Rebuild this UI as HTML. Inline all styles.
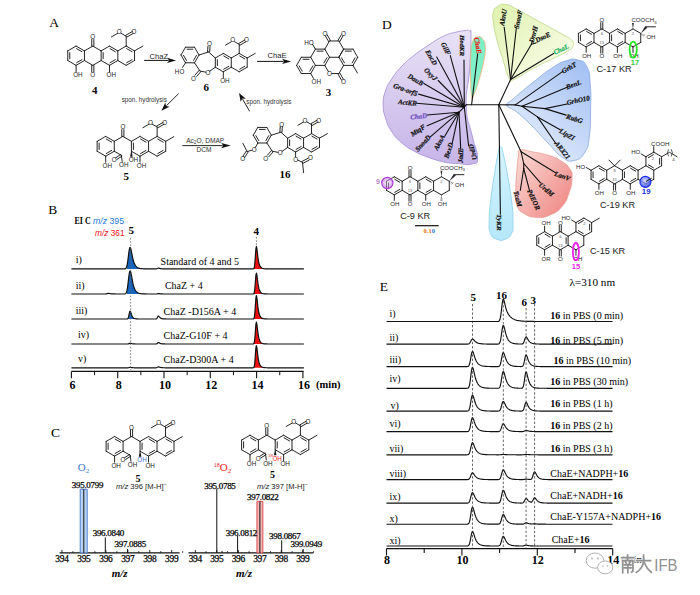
<!DOCTYPE html>
<html><head><meta charset="utf-8"><style>
html,body{margin:0;padding:0;background:#fff;}
body{width:700px;height:595px;overflow:hidden;font-family:"Liberation Sans",sans-serif;}
svg{position:absolute;left:0;top:0;display:block;}
</style></head><body>
<svg width="700" height="595" viewBox="0 0 700 595">
<defs><linearGradient id="gP" gradientUnits="userSpaceOnUse" x1="440" y1="30" x2="430" y2="165"><stop offset="0" stop-color="#e9e2f6"/><stop offset="1" stop-color="#c6b4e8"/></linearGradient>
<linearGradient id="gY" gradientUnits="userSpaceOnUse" x1="500" y1="10" x2="560" y2="75"><stop offset="0" stop-color="#e2f3b4"/><stop offset="1" stop-color="#f8fce8"/></linearGradient>
<linearGradient id="gB" gradientUnits="userSpaceOnUse" x1="525" y1="135" x2="585" y2="70"><stop offset="0" stop-color="#dde8fb"/><stop offset="1" stop-color="#a6c2f4"/></linearGradient>
<linearGradient id="gR" gradientUnits="userSpaceOnUse" x1="520" y1="160" x2="575" y2="200"><stop offset="0" stop-color="#f9d2ce"/><stop offset="1" stop-color="#f08a86"/></linearGradient>
<linearGradient id="gC" gradientUnits="userSpaceOnUse" x1="490" y1="150" x2="510" y2="235"><stop offset="0" stop-color="#d6f4fd"/><stop offset="1" stop-color="#b6e8fa"/></linearGradient>
<linearGradient id="gM" gradientUnits="userSpaceOnUse" x1="470" y1="40" x2="485" y2="95"><stop offset="0" stop-color="#7af0c4"/><stop offset="1" stop-color="#88f0cc"/></linearGradient>
<radialGradient id="rP" cx="0.5" cy="0.5" r="0.6"><stop offset="0" stop-color="#f0d8ff" stop-opacity="0.3"/><stop offset="1" stop-color="#b050e0" stop-opacity="0.75"/></radialGradient>
<radialGradient id="rB" cx="0.45" cy="0.4" r="0.6"><stop offset="0" stop-color="#b8c4ff" stop-opacity="0.6"/><stop offset="1" stop-color="#2a3cf0" stop-opacity="0.9"/></radialGradient></defs>
<rect width="700" height="595" fill="#fff"/>
<text x="54" y="27" font-family="'Liberation Serif', serif" font-size="13.5" font-weight="normal" font-style="normal" text-anchor="middle" fill="#000">A</text>
<text x="52.7" y="213.9" font-family="'Liberation Serif', serif" font-size="13.5" font-weight="normal" font-style="normal" text-anchor="middle" fill="#000">B</text>
<text x="55.6" y="436.5" font-family="'Liberation Serif', serif" font-size="13.5" font-weight="normal" font-style="normal" text-anchor="middle" fill="#000">C</text>
<text x="386.9" y="29.4" font-family="'Liberation Serif', serif" font-size="13.5" font-weight="normal" font-style="normal" text-anchor="middle" fill="#000">D</text>
<text x="383.9" y="290.9" font-family="'Liberation Serif', serif" font-size="13.5" font-weight="normal" font-style="normal" text-anchor="middle" fill="#000">E</text>
<polygon points="126.9,268.9 126.9,266.01 127.4,263.58 127.9,260.18 128.4,256.14 128.9,252.17 129.4,249.07 129.9,247.47 130.4,247.54 130.9,249.02 131.4,251.36 131.9,254.02 132.4,256.59 132.9,258.86 133.4,260.78 133.9,262.36 134.4,263.63 134.9,264.66 135.4,265.49 135.9,266.16 136.4,266.69 136.9,267.12 137.4,267.47 137.9,267.75 138.4,267.97 138.9,268.16 139.4,268.3 139.9,268.42 140.4,268.51 140.9,268.59 141.4,268.65 141.9,268.7 142.4,268.74 142.9,268.77 143.4,268.79 143.9,268.82 144.4,268.83 144.9,268.85 145.4,268.86 145.9,268.86 146.4,268.87 146.4,268.9" fill="#1565c0" stroke="none" stroke-width="1" stroke-linejoin="round"/>
<polygon points="252.4,268.9 252.4,268.9 252.9,268.89 253.4,268.83 253.9,268.44 254.4,266.81 254.9,262.51 255.4,255.44 255.9,248.77 256.4,246.41 256.9,248.74 257.4,253.13 257.9,257.32 258.4,260.56 258.9,262.92 259.4,264.62 259.9,265.83 260.4,266.7 260.9,267.32 261.4,267.77 261.9,268.09 262.4,268.32 262.9,268.48 263.4,268.6 263.9,268.69 264.4,268.75 264.9,268.79 265.4,268.82 265.9,268.84 266.4,268.86 266.9,268.87 266.9,268.9" fill="#ee1111" stroke="none" stroke-width="1" stroke-linejoin="round"/>
<polyline points="71.4,268.9 71.9,268.9 72.4,268.9 72.9,268.9 73.4,268.9 73.9,268.9 74.4,268.9 74.9,268.9 75.4,268.9 75.9,268.9 76.4,268.9 76.9,268.9 77.4,268.9 77.9,268.9 78.4,268.9 78.9,268.9 79.4,268.9 79.9,268.9 80.4,268.9 80.9,268.9 81.4,268.9 81.9,268.9 82.4,268.9 82.9,268.9 83.4,268.9 83.9,268.9 84.4,268.9 84.9,268.9 85.4,268.9 85.9,268.9 86.4,268.9 86.9,268.9 87.4,268.9 87.9,268.9 88.4,268.9 88.9,268.9 89.4,268.9 89.9,268.9 90.4,268.9 90.9,268.9 91.4,268.9 91.9,268.9 92.4,268.9 92.9,268.9 93.4,268.9 93.9,268.9 94.4,268.9 94.9,268.9 95.4,268.9 95.9,268.9 96.4,268.9 96.9,268.9 97.4,268.9 97.9,268.9 98.4,268.9 98.9,268.9 99.4,268.9 99.9,268.9 100.4,268.9 100.9,268.9 101.4,268.9 101.9,268.9 102.4,268.9 102.9,268.9 103.4,268.9 103.9,268.9 104.4,268.9 104.9,268.9 105.4,268.9 105.9,268.9 106.4,268.9 106.9,268.9 107.4,268.9 107.9,268.9 108.4,268.9 108.9,268.9 109.4,268.9 109.9,268.9 110.4,268.9 110.9,268.9 111.4,268.9 111.9,268.9 112.4,268.9 112.9,268.9 113.4,268.9 113.9,268.9 114.4,268.9 114.9,268.9 115.4,268.9 115.9,268.9 116.4,268.9 116.9,268.9 117.4,268.9 117.9,268.9 118.4,268.9 118.9,268.9 119.4,268.9 119.9,268.9 120.4,268.9 120.9,268.9 121.4,268.9 121.9,268.9 122.4,268.9 122.9,268.9 123.4,268.9 123.9,268.89 124.4,268.88 124.9,268.83 125.4,268.68 125.9,268.31 126.4,267.51 126.9,266.01 127.4,263.58 127.9,260.18 128.4,256.14 128.9,252.17 129.4,249.07 129.9,247.47 130.4,247.54 130.9,249.02 131.4,251.36 131.9,254.02 132.4,256.59 132.9,258.86 133.4,260.78 133.9,262.36 134.4,263.63 134.9,264.66 135.4,265.49 135.9,266.16 136.4,266.69 136.9,267.12 137.4,267.47 137.9,267.75 138.4,267.97 138.9,268.16 139.4,268.3 139.9,268.42 140.4,268.51 140.9,268.59 141.4,268.65 141.9,268.7 142.4,268.74 142.9,268.77 143.4,268.79 143.9,268.82 144.4,268.83 144.9,268.85 145.4,268.86 145.9,268.86 146.4,268.87 146.9,268.88 147.4,268.88 147.9,268.89 148.4,268.89 148.9,268.89 149.4,268.89 149.9,268.89 150.4,268.89 150.9,268.9 151.4,268.9 151.9,268.9 152.4,268.9 152.9,268.9 153.4,268.9 153.9,268.9 154.4,268.9 154.9,268.9 155.4,268.9 155.9,268.89 156.4,268.86 156.9,268.74 157.4,268.49 157.9,268.22 158.4,268.1 158.9,268.17 159.4,268.33 159.9,268.48 160.4,268.6 160.9,268.68 161.4,268.75 161.9,268.79 162.4,268.82 162.9,268.84 163.4,268.86 163.9,268.87 164.4,268.88 164.9,268.89 165.4,268.89 165.9,268.89 166.4,268.89 166.9,268.9 167.4,268.9 167.9,268.9 168.4,268.9 168.9,268.9 169.4,268.9 169.9,268.9 170.4,268.9 170.9,268.9 171.4,268.9 171.9,268.9 172.4,268.9 172.9,268.9 173.4,268.9 173.9,268.9 174.4,268.9 174.9,268.9 175.4,268.9 175.9,268.9 176.4,268.9 176.9,268.9 177.4,268.9 177.9,268.9 178.4,268.9 178.9,268.9 179.4,268.9 179.9,268.9 180.4,268.9 180.9,268.9 181.4,268.9 181.9,268.9 182.4,268.9 182.9,268.9 183.4,268.9 183.9,268.9 184.4,268.9 184.9,268.9 185.4,268.9 185.9,268.9 186.4,268.9 186.9,268.9 187.4,268.9 187.9,268.9 188.4,268.9 188.9,268.9 189.4,268.9 189.9,268.9 190.4,268.9 190.9,268.9 191.4,268.9 191.9,268.9 192.4,268.9 192.9,268.9 193.4,268.9 193.9,268.9 194.4,268.9 194.9,268.9 195.4,268.9 195.9,268.9 196.4,268.9 196.9,268.9 197.4,268.9 197.9,268.9 198.4,268.9 198.9,268.9 199.4,268.9 199.9,268.9 200.4,268.9 200.9,268.9 201.4,268.9 201.9,268.9 202.4,268.9 202.9,268.9 203.4,268.9 203.9,268.9 204.4,268.9 204.9,268.9 205.4,268.9 205.9,268.9 206.4,268.9 206.9,268.9 207.4,268.9 207.9,268.9 208.4,268.9 208.9,268.9 209.4,268.9 209.9,268.9 210.4,268.9 210.9,268.9 211.4,268.9 211.9,268.9 212.4,268.9 212.9,268.9 213.4,268.9 213.9,268.9 214.4,268.9 214.9,268.9 215.4,268.9 215.9,268.9 216.4,268.9 216.9,268.9 217.4,268.9 217.9,268.9 218.4,268.9 218.9,268.9 219.4,268.9 219.9,268.9 220.4,268.9 220.9,268.9 221.4,268.9 221.9,268.9 222.4,268.9 222.9,268.9 223.4,268.9 223.9,268.9 224.4,268.9 224.9,268.9 225.4,268.9 225.9,268.9 226.4,268.9 226.9,268.9 227.4,268.9 227.9,268.9 228.4,268.9 228.9,268.9 229.4,268.9 229.9,268.9 230.4,268.9 230.9,268.9 231.4,268.9 231.9,268.9 232.4,268.9 232.9,268.9 233.4,268.9 233.9,268.9 234.4,268.9 234.9,268.9 235.4,268.9 235.9,268.9 236.4,268.9 236.9,268.9 237.4,268.9 237.9,268.9 238.4,268.9 238.9,268.9 239.4,268.9 239.9,268.9 240.4,268.9 240.9,268.9 241.4,268.9 241.9,268.9 242.4,268.9 242.9,268.9 243.4,268.9 243.9,268.9 244.4,268.9 244.9,268.9 245.4,268.9 245.9,268.9 246.4,268.9 246.9,268.9 247.4,268.9 247.9,268.9 248.4,268.9 248.9,268.9 249.4,268.9 249.9,268.9 250.4,268.9 250.9,268.9 251.4,268.9 251.9,268.9 252.4,268.9 252.9,268.89 253.4,268.83 253.9,268.44 254.4,266.81 254.9,262.51 255.4,255.44 255.9,248.77 256.4,246.41 256.9,248.74 257.4,253.13 257.9,257.32 258.4,260.56 258.9,262.92 259.4,264.62 259.9,265.83 260.4,266.7 260.9,267.32 261.4,267.77 261.9,268.09 262.4,268.32 262.9,268.48 263.4,268.6 263.9,268.69 264.4,268.75 264.9,268.79 265.4,268.82 265.9,268.84 266.4,268.86 266.9,268.87 267.4,268.88 267.9,268.89 268.4,268.89 268.9,268.89 269.4,268.89 269.9,268.9 270.4,268.9 270.9,268.9 271.4,268.9 271.9,268.9 272.4,268.9 272.9,268.9 273.4,268.9 273.9,268.9 274.4,268.9 274.9,268.9 275.4,268.9 275.9,268.9 276.4,268.9 276.9,268.9 277.4,268.9 277.9,268.9 278.4,268.9 278.9,268.9 279.4,268.9 279.9,268.9 280.4,268.9 280.9,268.9 281.4,268.9 281.9,268.9 282.4,268.9 282.9,268.9 283.4,268.9 283.9,268.9 284.4,268.9 284.9,268.9 285.4,268.9 285.9,268.9 286.4,268.9 286.9,268.9 287.4,268.9 287.9,268.9 288.4,268.9 288.9,268.9 289.4,268.9 289.9,268.9 290.4,268.9 290.9,268.9 291.4,268.9 291.9,268.9 292.4,268.9 292.9,268.9 293.4,268.9 293.9,268.9 294.4,268.9 294.9,268.9 295.4,268.9 295.9,268.9 296.4,268.9 296.9,268.9 297.4,268.9 297.9,268.9 298.4,268.9 298.9,268.9 299.4,268.9 299.9,268.9 300.4,268.9 300.9,268.9 301.4,268.9 301.9,268.9 302.4,268.9 302.9,268.9 303.4,268.9 303.9,268.9" fill="none" stroke="#111" stroke-width="1.2" stroke-linejoin="round"/>
<polygon points="126.9,294 126.9,290.9 127.4,288.28 127.9,284.63 128.4,280.3 128.9,276.03 129.4,272.7 129.9,270.98 130.4,271.06 130.9,272.65 131.4,275.16 131.9,278.01 132.4,280.77 132.9,283.22 133.4,285.28 133.9,286.97 134.4,288.34 134.9,289.45 135.4,290.34 135.9,291.05 136.4,291.63 136.9,292.09 137.4,292.46 137.9,292.76 138.4,293.01 138.9,293.2 139.4,293.36 139.9,293.48 140.4,293.58 140.9,293.66 141.4,293.73 141.9,293.78 142.4,293.83 142.9,293.86 143.4,293.89 143.9,293.91 144.4,293.93 144.9,293.94 145.4,293.95 145.9,293.96 146.4,293.97 146.4,294" fill="#1565c0" stroke="none" stroke-width="1" stroke-linejoin="round"/>
<polygon points="252.4,294 252.4,294 252.9,293.99 253.4,293.94 253.9,293.57 254.4,292.05 254.9,288.04 255.4,281.44 255.9,275.21 256.4,273.01 256.9,275.18 257.4,279.28 257.9,283.19 258.4,286.22 258.9,288.42 259.4,290 259.9,291.14 260.4,291.95 260.9,292.53 261.4,292.95 261.9,293.24 262.4,293.46 262.9,293.61 263.4,293.72 263.9,293.8 264.4,293.86 264.9,293.9 265.4,293.93 265.9,293.95 266.4,293.96 266.9,293.97 266.9,294" fill="#ee1111" stroke="none" stroke-width="1" stroke-linejoin="round"/>
<polyline points="71.4,294 71.9,294 72.4,294 72.9,294 73.4,294 73.9,294 74.4,294 74.9,294 75.4,294 75.9,294 76.4,294 76.9,294 77.4,294 77.9,294 78.4,294 78.9,294 79.4,294 79.9,294 80.4,294 80.9,294 81.4,294 81.9,294 82.4,294 82.9,294 83.4,294 83.9,294 84.4,294 84.9,294 85.4,294 85.9,294 86.4,294 86.9,294 87.4,294 87.9,294 88.4,294 88.9,294 89.4,294 89.9,294 90.4,294 90.9,294 91.4,294 91.9,294 92.4,294 92.9,294 93.4,294 93.9,294 94.4,294 94.9,294 95.4,294 95.9,294 96.4,294 96.9,294 97.4,294 97.9,294 98.4,294 98.9,294 99.4,294 99.9,294 100.4,294 100.9,294 101.4,294 101.9,294 102.4,294 102.9,294 103.4,294 103.9,294 104.4,294 104.9,293.99 105.4,293.98 105.9,293.93 106.4,293.85 106.9,293.71 107.4,293.56 107.9,293.45 108.4,293.4 108.9,293.43 109.4,293.51 109.9,293.6 110.4,293.68 110.9,293.75 111.4,293.8 111.9,293.85 112.4,293.88 112.9,293.91 113.4,293.93 113.9,293.94 114.4,293.96 114.9,293.97 115.4,293.97 115.9,293.98 116.4,293.98 116.9,293.99 117.4,293.99 117.9,293.99 118.4,293.99 118.9,294 119.4,294 119.9,294 120.4,294 120.9,294 121.4,294 121.9,294 122.4,294 122.9,294 123.4,294 123.9,293.99 124.4,293.98 124.9,293.92 125.4,293.76 125.9,293.37 126.4,292.51 126.9,290.9 127.4,288.28 127.9,284.63 128.4,280.3 128.9,276.03 129.4,272.7 129.9,270.98 130.4,271.06 130.9,272.65 131.4,275.16 131.9,278.01 132.4,280.77 132.9,283.22 133.4,285.28 133.9,286.97 134.4,288.34 134.9,289.45 135.4,290.34 135.9,291.05 136.4,291.63 136.9,292.09 137.4,292.46 137.9,292.76 138.4,293.01 138.9,293.2 139.4,293.36 139.9,293.48 140.4,293.58 140.9,293.66 141.4,293.73 141.9,293.78 142.4,293.83 142.9,293.86 143.4,293.89 143.9,293.91 144.4,293.93 144.9,293.94 145.4,293.95 145.9,293.96 146.4,293.97 146.9,293.98 147.4,293.98 147.9,293.98 148.4,293.99 148.9,293.99 149.4,293.99 149.9,293.99 150.4,293.99 150.9,294 151.4,294 151.9,294 152.4,294 152.9,294 153.4,294 153.9,294 154.4,294 154.9,294 155.4,294 155.9,294 156.4,293.98 156.9,293.92 157.4,293.8 157.9,293.66 158.4,293.6 158.9,293.64 159.4,293.71 159.9,293.79 160.4,293.85 160.9,293.89 161.4,293.92 161.9,293.94 162.4,293.96 162.9,293.97 163.4,293.98 163.9,293.99 164.4,293.99 164.9,293.99 165.4,293.99 165.9,294 166.4,294 166.9,294 167.4,294 167.9,294 168.4,294 168.9,294 169.4,294 169.9,294 170.4,294 170.9,294 171.4,294 171.9,294 172.4,294 172.9,294 173.4,294 173.9,294 174.4,294 174.9,294 175.4,294 175.9,294 176.4,294 176.9,294 177.4,294 177.9,294 178.4,294 178.9,294 179.4,294 179.9,294 180.4,294 180.9,294 181.4,294 181.9,294 182.4,294 182.9,294 183.4,294 183.9,294 184.4,294 184.9,294 185.4,294 185.9,294 186.4,294 186.9,294 187.4,294 187.9,294 188.4,294 188.9,294 189.4,294 189.9,294 190.4,294 190.9,294 191.4,294 191.9,294 192.4,294 192.9,294 193.4,294 193.9,294 194.4,294 194.9,294 195.4,294 195.9,294 196.4,294 196.9,294 197.4,294 197.9,294 198.4,294 198.9,294 199.4,294 199.9,294 200.4,294 200.9,294 201.4,294 201.9,294 202.4,294 202.9,294 203.4,294 203.9,294 204.4,294 204.9,294 205.4,294 205.9,294 206.4,294 206.9,294 207.4,294 207.9,294 208.4,294 208.9,294 209.4,294 209.9,294 210.4,294 210.9,294 211.4,294 211.9,294 212.4,294 212.9,294 213.4,294 213.9,294 214.4,294 214.9,294 215.4,294 215.9,294 216.4,294 216.9,294 217.4,294 217.9,294 218.4,294 218.9,294 219.4,294 219.9,294 220.4,294 220.9,294 221.4,294 221.9,294 222.4,294 222.9,294 223.4,294 223.9,294 224.4,294 224.9,294 225.4,294 225.9,294 226.4,294 226.9,294 227.4,294 227.9,294 228.4,294 228.9,294 229.4,294 229.9,294 230.4,294 230.9,294 231.4,294 231.9,294 232.4,294 232.9,294 233.4,294 233.9,294 234.4,294 234.9,294 235.4,294 235.9,294 236.4,294 236.9,294 237.4,294 237.9,294 238.4,294 238.9,294 239.4,294 239.9,294 240.4,294 240.9,294 241.4,294 241.9,294 242.4,294 242.9,294 243.4,294 243.9,294 244.4,294 244.9,294 245.4,294 245.9,294 246.4,294 246.9,294 247.4,294 247.9,294 248.4,294 248.9,294 249.4,294 249.9,294 250.4,294 250.9,294 251.4,294 251.9,294 252.4,294 252.9,293.99 253.4,293.94 253.9,293.57 254.4,292.05 254.9,288.04 255.4,281.44 255.9,275.21 256.4,273.01 256.9,275.18 257.4,279.28 257.9,283.19 258.4,286.22 258.9,288.42 259.4,290 259.9,291.14 260.4,291.95 260.9,292.53 261.4,292.95 261.9,293.24 262.4,293.46 262.9,293.61 263.4,293.72 263.9,293.8 264.4,293.86 264.9,293.9 265.4,293.93 265.9,293.95 266.4,293.96 266.9,293.97 267.4,293.98 267.9,293.99 268.4,293.99 268.9,293.99 269.4,293.99 269.9,294 270.4,294 270.9,294 271.4,294 271.9,294 272.4,294 272.9,294 273.4,294 273.9,294 274.4,294 274.9,294 275.4,294 275.9,294 276.4,294 276.9,294 277.4,294 277.9,294 278.4,294 278.9,294 279.4,294 279.9,294 280.4,294 280.9,294 281.4,294 281.9,294 282.4,294 282.9,294 283.4,294 283.9,294 284.4,294 284.9,294 285.4,294 285.9,294 286.4,294 286.9,294 287.4,294 287.9,294 288.4,294 288.9,294 289.4,294 289.9,294 290.4,294 290.9,294 291.4,294 291.9,294 292.4,294 292.9,294 293.4,294 293.9,294 294.4,294 294.9,294 295.4,294 295.9,294 296.4,294 296.9,294 297.4,294 297.9,294 298.4,294 298.9,294 299.4,294 299.9,294 300.4,294 300.9,294 301.4,294 301.9,294 302.4,294 302.9,294 303.4,294 303.9,294" fill="none" stroke="#111" stroke-width="1.2" stroke-linejoin="round"/>
<polygon points="126.9,319 126.9,318.99 127.4,318.9 127.9,318.53 128.4,317.45 128.9,315.37 129.4,312.84 129.9,311.19 130.4,311.24 130.9,312.6 131.4,314.29 131.9,315.71 132.4,316.75 132.9,317.47 133.4,317.96 133.9,318.29 134.4,318.52 134.9,318.67 135.4,318.78 135.9,318.85 136.4,318.9 136.9,318.93 137.4,318.95 137.9,318.97 138.4,318.98 138.9,318.98 139.4,318.99 139.9,318.99 140.4,319 140.9,319 141.4,319 141.9,319 142.4,319 142.9,319 143.4,319 143.9,319 144.4,319 144.9,319 145.4,319 145.9,319 146.4,319 146.4,319" fill="#1565c0" stroke="none" stroke-width="1" stroke-linejoin="round"/>
<polygon points="252.4,319 252.4,319 252.9,318.99 253.4,318.93 253.9,318.52 254.4,316.82 254.9,312.33 255.4,304.95 255.9,297.98 256.4,295.51 256.9,297.94 257.4,302.53 257.9,306.9 258.4,310.29 258.9,312.76 259.4,314.53 259.9,315.79 260.4,316.7 260.9,317.35 261.4,317.82 261.9,318.16 262.4,318.39 262.9,318.57 263.4,318.69 263.9,318.78 264.4,318.84 264.9,318.89 265.4,318.92 265.9,318.94 266.4,318.96 266.9,318.97 266.9,319" fill="#ee1111" stroke="none" stroke-width="1" stroke-linejoin="round"/>
<polyline points="71.4,319 71.9,319 72.4,319 72.9,319 73.4,319 73.9,319 74.4,319 74.9,319 75.4,319 75.9,319 76.4,319 76.9,319 77.4,319 77.9,319 78.4,319 78.9,319 79.4,319 79.9,319 80.4,319 80.9,319 81.4,319 81.9,319 82.4,319 82.9,319 83.4,319 83.9,319 84.4,319 84.9,319 85.4,319 85.9,319 86.4,319 86.9,319 87.4,319 87.9,319 88.4,319 88.9,319 89.4,319 89.9,319 90.4,319 90.9,319 91.4,319 91.9,319 92.4,319 92.9,319 93.4,319 93.9,319 94.4,319 94.9,319 95.4,319 95.9,319 96.4,319 96.9,319 97.4,319 97.9,319 98.4,319 98.9,319 99.4,319 99.9,319 100.4,319 100.9,319 101.4,319 101.9,319 102.4,319 102.9,319 103.4,319 103.9,319 104.4,319 104.9,319 105.4,319 105.9,319 106.4,319 106.9,319 107.4,319 107.9,319 108.4,319 108.9,319 109.4,319 109.9,319 110.4,319 110.9,319 111.4,319 111.9,319 112.4,319 112.9,319 113.4,319 113.9,319 114.4,319 114.9,319 115.4,319 115.9,319 116.4,319 116.9,319 117.4,319 117.9,319 118.4,319 118.9,319 119.4,319 119.9,319 120.4,319 120.9,319 121.4,319 121.9,319 122.4,319 122.9,319 123.4,319 123.9,319 124.4,319 124.9,319 125.4,319 125.9,319 126.4,319 126.9,318.99 127.4,318.9 127.9,318.53 128.4,317.45 128.9,315.37 129.4,312.84 129.9,311.19 130.4,311.24 130.9,312.6 131.4,314.29 131.9,315.71 132.4,316.75 132.9,317.47 133.4,317.96 133.9,318.29 134.4,318.52 134.9,318.67 135.4,318.78 135.9,318.85 136.4,318.9 136.9,318.93 137.4,318.95 137.9,318.97 138.4,318.98 138.9,318.98 139.4,318.99 139.9,318.99 140.4,319 140.9,319 141.4,319 141.9,319 142.4,319 142.9,319 143.4,319 143.9,319 144.4,319 144.9,319 145.4,319 145.9,319 146.4,319 146.9,319 147.4,319 147.9,319 148.4,319 148.9,319 149.4,319 149.9,319 150.4,319 150.9,319 151.4,319 151.9,319 152.4,319 152.9,319 153.4,319 153.9,319 154.4,319 154.9,319 155.4,319 155.9,318.97 156.4,318.84 156.9,318.38 157.4,317.47 157.9,316.46 158.4,316 158.9,316.26 159.4,316.86 159.9,317.43 160.4,317.87 160.9,318.19 161.4,318.42 161.9,318.59 162.4,318.7 162.9,318.79 163.4,318.85 163.9,318.89 164.4,318.92 164.9,318.94 165.4,318.96 165.9,318.97 166.4,318.98 166.9,318.99 167.4,318.99 167.9,318.99 168.4,318.99 168.9,319 169.4,319 169.9,319 170.4,319 170.9,319 171.4,319 171.9,319 172.4,319 172.9,319 173.4,319 173.9,319 174.4,319 174.9,319 175.4,319 175.9,319 176.4,319 176.9,319 177.4,319 177.9,319 178.4,319 178.9,319 179.4,319 179.9,319 180.4,319 180.9,319 181.4,319 181.9,319 182.4,319 182.9,319 183.4,319 183.9,319 184.4,319 184.9,319 185.4,319 185.9,319 186.4,319 186.9,319 187.4,319 187.9,319 188.4,319 188.9,319 189.4,319 189.9,319 190.4,319 190.9,319 191.4,319 191.9,319 192.4,319 192.9,319 193.4,319 193.9,319 194.4,319 194.9,319 195.4,319 195.9,319 196.4,319 196.9,319 197.4,319 197.9,319 198.4,319 198.9,319 199.4,319 199.9,319 200.4,319 200.9,319 201.4,319 201.9,319 202.4,319 202.9,319 203.4,319 203.9,319 204.4,319 204.9,319 205.4,319 205.9,319 206.4,319 206.9,319 207.4,319 207.9,319 208.4,319 208.9,319 209.4,319 209.9,319 210.4,319 210.9,319 211.4,319 211.9,319 212.4,319 212.9,319 213.4,319 213.9,319 214.4,319 214.9,319 215.4,319 215.9,319 216.4,319 216.9,319 217.4,319 217.9,319 218.4,319 218.9,319 219.4,319 219.9,319 220.4,319 220.9,319 221.4,319 221.9,319 222.4,319 222.9,319 223.4,319 223.9,319 224.4,319 224.9,319 225.4,319 225.9,319 226.4,319 226.9,319 227.4,319 227.9,319 228.4,319 228.9,319 229.4,319 229.9,319 230.4,319 230.9,319 231.4,319 231.9,319 232.4,319 232.9,319 233.4,319 233.9,319 234.4,319 234.9,319 235.4,319 235.9,319 236.4,319 236.9,319 237.4,319 237.9,319 238.4,319 238.9,319 239.4,319 239.9,319 240.4,319 240.9,319 241.4,319 241.9,319 242.4,319 242.9,319 243.4,319 243.9,319 244.4,319 244.9,319 245.4,319 245.9,319 246.4,319 246.9,319 247.4,319 247.9,319 248.4,319 248.9,319 249.4,319 249.9,319 250.4,319 250.9,319 251.4,319 251.9,319 252.4,319 252.9,318.99 253.4,318.93 253.9,318.52 254.4,316.82 254.9,312.33 255.4,304.95 255.9,297.98 256.4,295.51 256.9,297.94 257.4,302.53 257.9,306.9 258.4,310.29 258.9,312.76 259.4,314.53 259.9,315.79 260.4,316.7 260.9,317.35 261.4,317.82 261.9,318.16 262.4,318.39 262.9,318.57 263.4,318.69 263.9,318.78 264.4,318.84 264.9,318.89 265.4,318.92 265.9,318.94 266.4,318.96 266.9,318.97 267.4,318.98 267.9,318.98 268.4,318.99 268.9,318.99 269.4,318.99 269.9,319 270.4,319 270.9,319 271.4,319 271.9,319 272.4,319 272.9,319 273.4,319 273.9,319 274.4,319 274.9,319 275.4,319 275.9,319 276.4,319 276.9,319 277.4,319 277.9,319 278.4,319 278.9,319 279.4,319 279.9,319 280.4,319 280.9,319 281.4,319 281.9,319 282.4,319 282.9,319 283.4,319 283.9,319 284.4,319 284.9,319 285.4,319 285.9,319 286.4,319 286.9,319 287.4,319 287.9,319 288.4,319 288.9,319 289.4,319 289.9,319 290.4,319 290.9,319 291.4,319 291.9,319 292.4,319 292.9,319 293.4,319 293.9,319 294.4,319 294.9,319 295.4,319 295.9,319 296.4,319 296.9,319 297.4,319 297.9,319 298.4,319 298.9,319 299.4,319 299.9,319 300.4,319 300.9,319 301.4,319 301.9,319 302.4,319 302.9,319 303.4,319 303.9,319" fill="none" stroke="#111" stroke-width="1.2" stroke-linejoin="round"/>
<polygon points="126.9,344 126.9,344 127.4,343.99 127.9,343.95 128.4,343.85 128.9,343.64 129.4,343.38 129.9,343.22 130.4,343.22 130.9,343.36 131.4,343.53 131.9,343.67 132.4,343.78 132.9,343.85 133.4,343.9 133.9,343.93 134.4,343.95 134.9,343.97 135.4,343.98 135.9,343.98 136.4,343.99 136.9,343.99 137.4,344 137.9,344 138.4,344 138.9,344 139.4,344 139.9,344 140.4,344 140.9,344 141.4,344 141.9,344 142.4,344 142.9,344 143.4,344 143.9,344 144.4,344 144.9,344 145.4,344 145.9,344 146.4,344 146.4,344" fill="#1565c0" stroke="none" stroke-width="1" stroke-linejoin="round"/>
<polygon points="252.4,344 252.4,344 252.9,343.99 253.4,343.93 253.9,343.55 254.4,341.96 254.9,337.75 255.4,330.84 255.9,324.32 256.4,322.01 256.9,324.28 257.4,328.58 257.9,332.68 258.4,335.85 258.9,338.16 259.4,339.81 259.9,341 260.4,341.85 260.9,342.46 261.4,342.9 261.9,343.21 262.4,343.43 262.9,343.59 263.4,343.71 263.9,343.79 264.4,343.85 264.9,343.89 265.4,343.92 265.9,343.95 266.4,343.96 266.9,343.97 266.9,344" fill="#ee1111" stroke="none" stroke-width="1" stroke-linejoin="round"/>
<polyline points="71.4,344 71.9,344 72.4,344 72.9,344 73.4,344 73.9,344 74.4,344 74.9,344 75.4,344 75.9,344 76.4,344 76.9,344 77.4,344 77.9,344 78.4,344 78.9,344 79.4,344 79.9,344 80.4,344 80.9,344 81.4,344 81.9,344 82.4,344 82.9,344 83.4,344 83.9,344 84.4,344 84.9,344 85.4,344 85.9,344 86.4,344 86.9,344 87.4,344 87.9,344 88.4,344 88.9,344 89.4,344 89.9,344 90.4,344 90.9,344 91.4,344 91.9,344 92.4,344 92.9,344 93.4,344 93.9,344 94.4,344 94.9,344 95.4,344 95.9,344 96.4,344 96.9,344 97.4,344 97.9,344 98.4,344 98.9,344 99.4,344 99.9,344 100.4,344 100.9,344 101.4,344 101.9,344 102.4,344 102.9,344 103.4,344 103.9,344 104.4,344 104.9,344 105.4,344 105.9,344 106.4,344 106.9,344 107.4,344 107.9,344 108.4,344 108.9,344 109.4,344 109.9,344 110.4,344 110.9,344 111.4,344 111.9,344 112.4,344 112.9,344 113.4,344 113.9,344 114.4,344 114.9,344 115.4,344 115.9,344 116.4,344 116.9,344 117.4,344 117.9,344 118.4,344 118.9,344 119.4,344 119.9,344 120.4,344 120.9,344 121.4,344 121.9,344 122.4,344 122.9,344 123.4,344 123.9,344 124.4,344 124.9,344 125.4,344 125.9,344 126.4,344 126.9,344 127.4,343.99 127.9,343.95 128.4,343.85 128.9,343.64 129.4,343.38 129.9,343.22 130.4,343.22 130.9,343.36 131.4,343.53 131.9,343.67 132.4,343.78 132.9,343.85 133.4,343.9 133.9,343.93 134.4,343.95 134.9,343.97 135.4,343.98 135.9,343.98 136.4,343.99 136.9,343.99 137.4,344 137.9,344 138.4,344 138.9,344 139.4,344 139.9,344 140.4,344 140.9,344 141.4,344 141.9,344 142.4,344 142.9,344 143.4,344 143.9,344 144.4,344 144.9,344 145.4,344 145.9,344 146.4,344 146.9,344 147.4,344 147.9,344 148.4,344 148.9,344 149.4,344 149.9,344 150.4,344 150.9,344 151.4,344 151.9,344 152.4,344 152.9,344 153.4,344 153.9,344 154.4,344 154.9,344 155.4,344 155.9,343.99 156.4,343.92 156.9,343.69 157.4,343.23 157.9,342.73 158.4,342.5 158.9,342.63 159.4,342.93 159.9,343.22 160.4,343.44 160.9,343.6 161.4,343.71 161.9,343.79 162.4,343.85 162.9,343.89 163.4,343.92 163.9,343.95 164.4,343.96 164.9,343.97 165.4,343.98 165.9,343.99 166.4,343.99 166.9,343.99 167.4,343.99 167.9,344 168.4,344 168.9,344 169.4,344 169.9,344 170.4,344 170.9,344 171.4,344 171.9,344 172.4,344 172.9,344 173.4,344 173.9,344 174.4,344 174.9,344 175.4,344 175.9,344 176.4,344 176.9,344 177.4,344 177.9,344 178.4,344 178.9,344 179.4,344 179.9,344 180.4,344 180.9,344 181.4,344 181.9,344 182.4,344 182.9,344 183.4,344 183.9,344 184.4,344 184.9,344 185.4,344 185.9,344 186.4,344 186.9,344 187.4,344 187.9,344 188.4,344 188.9,344 189.4,344 189.9,344 190.4,344 190.9,344 191.4,344 191.9,344 192.4,344 192.9,344 193.4,344 193.9,344 194.4,344 194.9,344 195.4,344 195.9,344 196.4,344 196.9,344 197.4,344 197.9,344 198.4,344 198.9,344 199.4,344 199.9,344 200.4,344 200.9,344 201.4,344 201.9,344 202.4,344 202.9,344 203.4,344 203.9,344 204.4,344 204.9,344 205.4,344 205.9,344 206.4,344 206.9,344 207.4,344 207.9,344 208.4,344 208.9,344 209.4,344 209.9,344 210.4,344 210.9,344 211.4,344 211.9,344 212.4,344 212.9,344 213.4,344 213.9,344 214.4,344 214.9,344 215.4,344 215.9,344 216.4,344 216.9,344 217.4,344 217.9,344 218.4,344 218.9,344 219.4,344 219.9,344 220.4,344 220.9,344 221.4,344 221.9,344 222.4,344 222.9,344 223.4,344 223.9,344 224.4,344 224.9,344 225.4,344 225.9,344 226.4,344 226.9,344 227.4,344 227.9,344 228.4,344 228.9,344 229.4,344 229.9,344 230.4,344 230.9,344 231.4,344 231.9,344 232.4,344 232.9,344 233.4,344 233.9,344 234.4,344 234.9,344 235.4,344 235.9,344 236.4,344 236.9,344 237.4,344 237.9,344 238.4,344 238.9,344 239.4,344 239.9,344 240.4,344 240.9,344 241.4,344 241.9,344 242.4,344 242.9,344 243.4,344 243.9,344 244.4,344 244.9,344 245.4,344 245.9,344 246.4,344 246.9,344 247.4,344 247.9,344 248.4,344 248.9,344 249.4,344 249.9,344 250.4,344 250.9,344 251.4,344 251.9,344 252.4,344 252.9,343.99 253.4,343.93 253.9,343.55 254.4,341.96 254.9,337.75 255.4,330.84 255.9,324.32 256.4,322.01 256.9,324.28 257.4,328.58 257.9,332.68 258.4,335.85 258.9,338.16 259.4,339.81 259.9,341 260.4,341.85 260.9,342.46 261.4,342.9 261.9,343.21 262.4,343.43 262.9,343.59 263.4,343.71 263.9,343.79 264.4,343.85 264.9,343.89 265.4,343.92 265.9,343.95 266.4,343.96 266.9,343.97 267.4,343.98 267.9,343.99 268.4,343.99 268.9,343.99 269.4,343.99 269.9,344 270.4,344 270.9,344 271.4,344 271.9,344 272.4,344 272.9,344 273.4,344 273.9,344 274.4,344 274.9,344 275.4,344 275.9,344 276.4,344 276.9,344 277.4,344 277.9,344 278.4,344 278.9,344 279.4,344 279.9,344 280.4,344 280.9,344 281.4,344 281.9,344 282.4,344 282.9,344 283.4,344 283.9,344 284.4,344 284.9,344 285.4,344 285.9,344 286.4,344 286.9,344 287.4,344 287.9,344 288.4,344 288.9,344 289.4,344 289.9,344 290.4,344 290.9,344 291.4,344 291.9,344 292.4,344 292.9,344 293.4,344 293.9,344 294.4,344 294.9,344 295.4,344 295.9,344 296.4,344 296.9,344 297.4,344 297.9,344 298.4,344 298.9,344 299.4,344 299.9,344 300.4,344 300.9,344 301.4,344 301.9,344 302.4,344 302.9,344 303.4,344 303.9,344" fill="none" stroke="#111" stroke-width="1.2" stroke-linejoin="round"/>
<polygon points="126.9,367.8 126.9,367.8 127.4,367.8 127.9,367.78 128.4,367.72 128.9,367.62 129.4,367.49 129.9,367.41 130.4,367.41 130.9,367.48 131.4,367.56 131.9,367.64 132.4,367.69 132.9,367.72 133.4,367.75 133.9,367.76 134.4,367.78 134.9,367.78 135.4,367.79 135.9,367.79 136.4,367.79 136.9,367.8 137.4,367.8 137.9,367.8 138.4,367.8 138.9,367.8 139.4,367.8 139.9,367.8 140.4,367.8 140.9,367.8 141.4,367.8 141.9,367.8 142.4,367.8 142.9,367.8 143.4,367.8 143.9,367.8 144.4,367.8 144.9,367.8 145.4,367.8 145.9,367.8 146.4,367.8 146.4,367.8" fill="#1565c0" stroke="none" stroke-width="1" stroke-linejoin="round"/>
<polygon points="252.4,367.8 252.4,367.8 252.9,367.79 253.4,367.73 253.9,367.35 254.4,365.73 254.9,361.47 255.4,354.46 255.9,347.85 256.4,345.51 256.9,347.82 257.4,352.17 257.9,356.32 258.4,359.54 258.9,361.88 259.4,363.55 259.9,364.76 260.4,365.62 260.9,366.24 261.4,366.68 261.9,367 262.4,367.23 262.9,367.39 263.4,367.51 263.9,367.59 264.4,367.65 264.9,367.69 265.4,367.72 265.9,367.74 266.4,367.76 266.9,367.77 266.9,367.8" fill="#ee1111" stroke="none" stroke-width="1" stroke-linejoin="round"/>
<polyline points="71.4,367.8 71.9,367.8 72.4,367.8 72.9,367.8 73.4,367.8 73.9,367.8 74.4,367.8 74.9,367.8 75.4,367.8 75.9,367.8 76.4,367.8 76.9,367.8 77.4,367.8 77.9,367.8 78.4,367.8 78.9,367.8 79.4,367.8 79.9,367.8 80.4,367.8 80.9,367.8 81.4,367.8 81.9,367.8 82.4,367.8 82.9,367.8 83.4,367.8 83.9,367.8 84.4,367.8 84.9,367.8 85.4,367.8 85.9,367.8 86.4,367.8 86.9,367.8 87.4,367.8 87.9,367.8 88.4,367.8 88.9,367.8 89.4,367.8 89.9,367.8 90.4,367.8 90.9,367.8 91.4,367.8 91.9,367.8 92.4,367.8 92.9,367.8 93.4,367.8 93.9,367.8 94.4,367.8 94.9,367.8 95.4,367.8 95.9,367.8 96.4,367.8 96.9,367.8 97.4,367.8 97.9,367.8 98.4,367.8 98.9,367.8 99.4,367.8 99.9,367.8 100.4,367.8 100.9,367.8 101.4,367.8 101.9,367.8 102.4,367.8 102.9,367.8 103.4,367.8 103.9,367.8 104.4,367.8 104.9,367.8 105.4,367.8 105.9,367.8 106.4,367.8 106.9,367.8 107.4,367.8 107.9,367.8 108.4,367.8 108.9,367.8 109.4,367.8 109.9,367.8 110.4,367.8 110.9,367.8 111.4,367.8 111.9,367.8 112.4,367.8 112.9,367.8 113.4,367.8 113.9,367.8 114.4,367.8 114.9,367.8 115.4,367.8 115.9,367.8 116.4,367.8 116.9,367.8 117.4,367.8 117.9,367.8 118.4,367.8 118.9,367.8 119.4,367.8 119.9,367.8 120.4,367.8 120.9,367.8 121.4,367.8 121.9,367.8 122.4,367.8 122.9,367.8 123.4,367.8 123.9,367.8 124.4,367.8 124.9,367.8 125.4,367.8 125.9,367.8 126.4,367.8 126.9,367.8 127.4,367.8 127.9,367.78 128.4,367.72 128.9,367.62 129.4,367.49 129.9,367.41 130.4,367.41 130.9,367.48 131.4,367.56 131.9,367.64 132.4,367.69 132.9,367.72 133.4,367.75 133.9,367.76 134.4,367.78 134.9,367.78 135.4,367.79 135.9,367.79 136.4,367.79 136.9,367.8 137.4,367.8 137.9,367.8 138.4,367.8 138.9,367.8 139.4,367.8 139.9,367.8 140.4,367.8 140.9,367.8 141.4,367.8 141.9,367.8 142.4,367.8 142.9,367.8 143.4,367.8 143.9,367.8 144.4,367.8 144.9,367.8 145.4,367.8 145.9,367.8 146.4,367.8 146.9,367.8 147.4,367.8 147.9,367.8 148.4,367.8 148.9,367.8 149.4,367.8 149.9,367.8 150.4,367.8 150.9,367.8 151.4,367.8 151.9,367.8 152.4,367.8 152.9,367.8 153.4,367.8 153.9,367.8 154.4,367.8 154.9,367.8 155.4,367.8 155.9,367.79 156.4,367.75 156.9,367.59 157.4,367.29 157.9,366.95 158.4,366.8 158.9,366.89 159.4,367.09 159.9,367.28 160.4,367.42 160.9,367.53 161.4,367.61 161.9,367.66 162.4,367.7 162.9,367.73 163.4,367.75 163.9,367.76 164.4,367.77 164.9,367.78 165.4,367.79 165.9,367.79 166.4,367.79 166.9,367.8 167.4,367.8 167.9,367.8 168.4,367.8 168.9,367.8 169.4,367.8 169.9,367.8 170.4,367.8 170.9,367.8 171.4,367.8 171.9,367.8 172.4,367.8 172.9,367.8 173.4,367.8 173.9,367.8 174.4,367.8 174.9,367.8 175.4,367.8 175.9,367.8 176.4,367.8 176.9,367.8 177.4,367.8 177.9,367.8 178.4,367.8 178.9,367.8 179.4,367.8 179.9,367.8 180.4,367.8 180.9,367.8 181.4,367.8 181.9,367.8 182.4,367.8 182.9,367.8 183.4,367.8 183.9,367.8 184.4,367.8 184.9,367.8 185.4,367.8 185.9,367.8 186.4,367.8 186.9,367.8 187.4,367.8 187.9,367.8 188.4,367.8 188.9,367.8 189.4,367.8 189.9,367.8 190.4,367.8 190.9,367.8 191.4,367.8 191.9,367.8 192.4,367.8 192.9,367.8 193.4,367.8 193.9,367.8 194.4,367.8 194.9,367.8 195.4,367.8 195.9,367.8 196.4,367.8 196.9,367.8 197.4,367.8 197.9,367.8 198.4,367.8 198.9,367.8 199.4,367.8 199.9,367.8 200.4,367.8 200.9,367.8 201.4,367.8 201.9,367.8 202.4,367.8 202.9,367.8 203.4,367.8 203.9,367.8 204.4,367.8 204.9,367.8 205.4,367.8 205.9,367.8 206.4,367.8 206.9,367.8 207.4,367.8 207.9,367.8 208.4,367.8 208.9,367.8 209.4,367.8 209.9,367.8 210.4,367.8 210.9,367.8 211.4,367.8 211.9,367.8 212.4,367.8 212.9,367.8 213.4,367.8 213.9,367.8 214.4,367.8 214.9,367.8 215.4,367.8 215.9,367.8 216.4,367.8 216.9,367.8 217.4,367.8 217.9,367.8 218.4,367.8 218.9,367.8 219.4,367.8 219.9,367.8 220.4,367.8 220.9,367.8 221.4,367.8 221.9,367.8 222.4,367.8 222.9,367.8 223.4,367.8 223.9,367.8 224.4,367.8 224.9,367.8 225.4,367.8 225.9,367.8 226.4,367.8 226.9,367.8 227.4,367.8 227.9,367.8 228.4,367.8 228.9,367.8 229.4,367.8 229.9,367.8 230.4,367.8 230.9,367.8 231.4,367.8 231.9,367.8 232.4,367.8 232.9,367.8 233.4,367.8 233.9,367.8 234.4,367.8 234.9,367.8 235.4,367.8 235.9,367.8 236.4,367.8 236.9,367.8 237.4,367.8 237.9,367.8 238.4,367.8 238.9,367.8 239.4,367.8 239.9,367.8 240.4,367.8 240.9,367.8 241.4,367.8 241.9,367.8 242.4,367.8 242.9,367.8 243.4,367.8 243.9,367.8 244.4,367.8 244.9,367.8 245.4,367.8 245.9,367.8 246.4,367.8 246.9,367.8 247.4,367.8 247.9,367.8 248.4,367.8 248.9,367.8 249.4,367.8 249.9,367.8 250.4,367.8 250.9,367.8 251.4,367.8 251.9,367.8 252.4,367.8 252.9,367.79 253.4,367.73 253.9,367.35 254.4,365.73 254.9,361.47 255.4,354.46 255.9,347.85 256.4,345.51 256.9,347.82 257.4,352.17 257.9,356.32 258.4,359.54 258.9,361.88 259.4,363.55 259.9,364.76 260.4,365.62 260.9,366.24 261.4,366.68 261.9,367 262.4,367.23 262.9,367.39 263.4,367.51 263.9,367.59 264.4,367.65 264.9,367.69 265.4,367.72 265.9,367.74 266.4,367.76 266.9,367.77 267.4,367.78 267.9,367.79 268.4,367.79 268.9,367.79 269.4,367.79 269.9,367.8 270.4,367.8 270.9,367.8 271.4,367.8 271.9,367.8 272.4,367.8 272.9,367.8 273.4,367.8 273.9,367.8 274.4,367.8 274.9,367.8 275.4,367.8 275.9,367.8 276.4,367.8 276.9,367.8 277.4,367.8 277.9,367.8 278.4,367.8 278.9,367.8 279.4,367.8 279.9,367.8 280.4,367.8 280.9,367.8 281.4,367.8 281.9,367.8 282.4,367.8 282.9,367.8 283.4,367.8 283.9,367.8 284.4,367.8 284.9,367.8 285.4,367.8 285.9,367.8 286.4,367.8 286.9,367.8 287.4,367.8 287.9,367.8 288.4,367.8 288.9,367.8 289.4,367.8 289.9,367.8 290.4,367.8 290.9,367.8 291.4,367.8 291.9,367.8 292.4,367.8 292.9,367.8 293.4,367.8 293.9,367.8 294.4,367.8 294.9,367.8 295.4,367.8 295.9,367.8 296.4,367.8 296.9,367.8 297.4,367.8 297.9,367.8 298.4,367.8 298.9,367.8 299.4,367.8 299.9,367.8 300.4,367.8 300.9,367.8 301.4,367.8 301.9,367.8 302.4,367.8 302.9,367.8 303.4,367.8 303.9,367.8" fill="none" stroke="#111" stroke-width="1.2" stroke-linejoin="round"/>
<line x1="130.63" y1="238" x2="130.63" y2="370" stroke="#666" stroke-width="0.8" stroke-linecap="butt" stroke-dasharray="1.6,1.6"/>
<line x1="256.37" y1="237" x2="256.37" y2="246" stroke="#666" stroke-width="0.8" stroke-linecap="butt" stroke-dasharray="1.6,1.6"/>
<line x1="71.4" y1="371.4" x2="303.6" y2="371.4" stroke="#111" stroke-width="1.3" stroke-linecap="butt"/>
<line x1="71.4" y1="371.4" x2="71.4" y2="378.2" stroke="#111" stroke-width="1.1" stroke-linecap="butt"/>
<line x1="94.55" y1="371.4" x2="94.55" y2="375.2" stroke="#111" stroke-width="1" stroke-linecap="butt"/>
<line x1="117.7" y1="371.4" x2="117.7" y2="378.2" stroke="#111" stroke-width="1.1" stroke-linecap="butt"/>
<line x1="140.85" y1="371.4" x2="140.85" y2="375.2" stroke="#111" stroke-width="1" stroke-linecap="butt"/>
<line x1="164" y1="371.4" x2="164" y2="378.2" stroke="#111" stroke-width="1.1" stroke-linecap="butt"/>
<line x1="187.15" y1="371.4" x2="187.15" y2="375.2" stroke="#111" stroke-width="1" stroke-linecap="butt"/>
<line x1="210.3" y1="371.4" x2="210.3" y2="378.2" stroke="#111" stroke-width="1.1" stroke-linecap="butt"/>
<line x1="233.45" y1="371.4" x2="233.45" y2="375.2" stroke="#111" stroke-width="1" stroke-linecap="butt"/>
<line x1="256.6" y1="371.4" x2="256.6" y2="378.2" stroke="#111" stroke-width="1.1" stroke-linecap="butt"/>
<line x1="279.75" y1="371.4" x2="279.75" y2="375.2" stroke="#111" stroke-width="1" stroke-linecap="butt"/>
<line x1="302.9" y1="371.4" x2="302.9" y2="378.2" stroke="#111" stroke-width="1.1" stroke-linecap="butt"/>
<text x="72.4" y="389.3" font-family="'Liberation Serif', serif" font-size="12" font-weight="bold" font-style="normal" text-anchor="middle" fill="#000">6</text>
<text x="118.7" y="389.3" font-family="'Liberation Serif', serif" font-size="12" font-weight="bold" font-style="normal" text-anchor="middle" fill="#000">8</text>
<text x="165" y="389.3" font-family="'Liberation Serif', serif" font-size="12" font-weight="bold" font-style="normal" text-anchor="middle" fill="#000">10</text>
<text x="211.3" y="389.3" font-family="'Liberation Serif', serif" font-size="12" font-weight="bold" font-style="normal" text-anchor="middle" fill="#000">12</text>
<text x="257.6" y="389.3" font-family="'Liberation Serif', serif" font-size="12" font-weight="bold" font-style="normal" text-anchor="middle" fill="#000">14</text>
<text x="303.9" y="389.3" font-family="'Liberation Serif', serif" font-size="12" font-weight="bold" font-style="normal" text-anchor="middle" fill="#000">16</text>
<text x="316" y="388.3" font-family="'Liberation Serif', serif" font-size="10.5" font-weight="bold" font-style="normal" text-anchor="start" fill="#000">(min)</text>
<text x="75.7" y="262.8" font-family="'Liberation Serif', serif" font-size="10" font-weight="normal" font-style="normal" text-anchor="start" fill="#000">i)</text>
<text x="75.7" y="288.6" font-family="'Liberation Serif', serif" font-size="10" font-weight="normal" font-style="normal" text-anchor="start" fill="#000">ii)</text>
<text x="75.7" y="314.3" font-family="'Liberation Serif', serif" font-size="10" font-weight="normal" font-style="normal" text-anchor="start" fill="#000">iii)</text>
<text x="77.9" y="337.9" font-family="'Liberation Serif', serif" font-size="10" font-weight="normal" font-style="normal" text-anchor="start" fill="#000">iv)</text>
<text x="77.9" y="362.3" font-family="'Liberation Serif', serif" font-size="10" font-weight="normal" font-style="normal" text-anchor="start" fill="#000">v)</text>
<text x="160.6" y="264.9" font-family="'Liberation Serif', serif" font-size="10" font-weight="normal" font-style="normal" text-anchor="start" fill="#000">Standard of 4 and 5</text>
<text x="164.9" y="288.5" font-family="'Liberation Serif', serif" font-size="10" font-weight="normal" font-style="normal" text-anchor="start" fill="#000">ChaZ + 4</text>
<text x="163.6" y="315.1" font-family="'Liberation Serif', serif" font-size="10" font-weight="normal" font-style="normal" text-anchor="start" fill="#000">ChaZ -D156A + 4</text>
<text x="163.6" y="339.1" font-family="'Liberation Serif', serif" font-size="10" font-weight="normal" font-style="normal" text-anchor="start" fill="#000">ChaZ-G10F + 4</text>
<text x="163.6" y="362.6" font-family="'Liberation Serif', serif" font-size="10" font-weight="normal" font-style="normal" text-anchor="start" fill="#000">ChaZ-D300A + 4</text>
<text x="74.6" y="223.6" font-family="'Liberation Serif', serif" font-size="10" font-weight="bold" font-style="normal" text-anchor="start" fill="#000" textLength="16" lengthAdjust="spacingAndGlyphs">EI C</text>
<text x="93" y="223.6" font-family="'Liberation Sans', sans-serif" font-size="9.6" font-weight="normal" font-style="normal" text-anchor="start" fill="#1e7ad6" textLength="31" lengthAdjust="spacingAndGlyphs"><tspan font-style="italic">m/z</tspan> 395</text>
<text x="95" y="236.1" font-family="'Liberation Sans', sans-serif" font-size="9.6" font-weight="normal" font-style="normal" text-anchor="start" fill="#ee1111" textLength="29.5" lengthAdjust="spacingAndGlyphs"><tspan font-style="italic">m/z</tspan> 361</text>
<text x="131.2" y="234.3" font-family="'Liberation Serif', serif" font-size="11" font-weight="bold" font-style="normal" text-anchor="middle" fill="#000">5</text>
<text x="256.3" y="234.6" font-family="'Liberation Serif', serif" font-size="11" font-weight="bold" font-style="normal" text-anchor="middle" fill="#000">4</text>
<polyline points="386.5,321.5 387,321.5 387.5,321.5 388,321.5 388.5,321.5 389,321.5 389.5,321.5 390,321.5 390.5,321.5 391,321.5 391.5,321.5 392,321.5 392.5,321.5 393,321.5 393.5,321.5 394,321.5 394.5,321.5 395,321.5 395.5,321.5 396,321.5 396.5,321.5 397,321.5 397.5,321.5 398,321.5 398.5,321.5 399,321.5 399.5,321.5 400,321.5 400.5,321.5 401,321.5 401.5,321.5 402,321.5 402.5,321.5 403,321.5 403.5,321.5 404,321.5 404.5,321.5 405,321.5 405.5,321.5 406,321.5 406.5,321.5 407,321.5 407.5,321.5 408,321.5 408.5,321.5 409,321.5 409.5,321.5 410,321.5 410.5,321.5 411,321.5 411.5,321.5 412,321.5 412.5,321.5 413,321.5 413.5,321.5 414,321.5 414.5,321.5 415,321.5 415.5,321.5 416,321.5 416.5,321.5 417,321.5 417.5,321.5 418,321.5 418.5,321.5 419,321.5 419.5,321.5 420,321.5 420.5,321.5 421,321.5 421.5,321.5 422,321.5 422.5,321.5 423,321.5 423.5,321.5 424,321.5 424.5,321.5 425,321.5 425.5,321.5 426,321.5 426.5,321.5 427,321.5 427.5,321.5 428,321.5 428.5,321.5 429,321.5 429.5,321.5 430,321.5 430.5,321.5 431,321.5 431.5,321.5 432,321.5 432.5,321.5 433,321.5 433.5,321.5 434,321.5 434.5,321.5 435,321.5 435.5,321.5 436,321.5 436.5,321.5 437,321.5 437.5,321.5 438,321.5 438.5,321.5 439,321.5 439.5,321.5 440,321.5 440.5,321.5 441,321.5 441.5,321.5 442,321.5 442.5,321.5 443,321.5 443.5,321.5 444,321.5 444.5,321.5 445,321.5 445.5,321.5 446,321.5 446.5,321.5 447,321.5 447.5,321.5 448,321.5 448.5,321.5 449,321.5 449.5,321.5 450,321.5 450.5,321.5 451,321.5 451.5,321.5 452,321.5 452.5,321.5 453,321.5 453.5,321.5 454,321.5 454.5,321.5 455,321.5 455.5,321.5 456,321.5 456.5,321.5 457,321.5 457.5,321.5 458,321.5 458.5,321.5 459,321.5 459.5,321.5 460,321.5 460.5,321.5 461,321.5 461.5,321.5 462,321.5 462.5,321.5 463,321.5 463.5,321.5 464,321.5 464.5,321.5 465,321.5 465.5,321.5 466,321.5 466.5,321.5 467,321.5 467.5,321.5 468,321.5 468.5,321.5 469,321.5 469.5,321.5 470,321.5 470.5,321.5 471,321.5 471.5,321.5 472,321.5 472.5,321.5 473,321.5 473.5,321.5 474,321.5 474.5,321.5 475,321.5 475.5,321.5 476,321.5 476.5,321.5 477,321.5 477.5,321.5 478,321.5 478.5,321.5 479,321.5 479.5,321.5 480,321.5 480.5,321.5 481,321.5 481.5,321.5 482,321.5 482.5,321.5 483,321.5 483.5,321.5 484,321.5 484.5,321.5 485,321.5 485.5,321.5 486,321.5 486.5,321.5 487,321.5 487.5,321.5 488,321.5 488.5,321.5 489,321.5 489.5,321.5 490,321.5 490.5,321.5 491,321.5 491.5,321.5 492,321.5 492.5,321.5 493,321.5 493.5,321.5 494,321.5 494.5,321.5 495,321.5 495.5,321.5 496,321.5 496.5,321.5 497,321.5 497.5,321.49 498,321.47 498.5,321.39 499,321.15 499.5,320.57 500,319.34 500.5,317.13 501,313.79 501.5,309.57 502,305.18 502.5,301.58 503,299.5 503.5,299.18 504,300.31 504.5,302.28 505,304.53 505.5,306.69 506,308.59 506.5,310.19 507,311.52 507.5,312.63 508,313.58 508.5,314.38 509,315.1 509.5,315.73 510,316.3 510.5,316.83 511,317.3 511.5,317.73 512,318.13 512.5,318.48 513,318.8 513.5,319.08 514,319.34 514.5,319.56 515,319.76 515.5,319.94 516,320.09 516.5,320.23 517,320.36 517.5,320.47 518,320.57 518.5,320.65 519,320.73 519.5,320.8 520,320.87 520.5,320.92 521,320.97 521.5,321.02 522,321.06 522.5,321.1 523,321.14 523.5,321.17 524,321.2 524.5,321.22 525,321.24 525.5,321.27 526,321.29 526.5,321.3 527,321.32 527.5,321.34 528,321.35 528.5,321.36 529,321.37 529.5,321.38 530,321.39 530.5,321.4 531,321.41 531.5,321.42 532,321.42 532.5,321.43 533,321.44 533.5,321.44 534,321.45 534.5,321.45 535,321.45 535.5,321.46 536,321.46 536.5,321.46 537,321.47 537.5,321.47 538,321.47 538.5,321.47 539,321.48 539.5,321.48 540,321.48 540.5,321.48 541,321.48 541.5,321.48 542,321.49 542.5,321.49 543,321.49 543.5,321.49 544,321.49 544.5,321.49 545,321.49 545.5,321.49 546,321.49 546.5,321.49 547,321.49 547.5,321.49 548,321.49 548.5,321.5 549,321.5 549.5,321.5 550,321.5 550.5,321.5 551,321.5 551.5,321.5 552,321.5 552.5,321.5 553,321.5 553.5,321.5 554,321.5 554.5,321.5 555,321.5 555.5,321.5 556,321.5 556.5,321.5 557,321.5 557.5,321.5 558,321.5 558.5,321.5 559,321.5 559.5,321.5 560,321.5 560.5,321.5 561,321.5 561.5,321.5 562,321.5 562.5,321.5 563,321.5 563.5,321.5 564,321.5 564.5,321.5 565,321.5 565.5,321.5 566,321.5 566.5,321.5 567,321.5 567.5,321.5 568,321.5 568.5,321.5 569,321.5 569.5,321.5 570,321.5 570.5,321.5 571,321.5 571.5,321.5 572,321.5 572.5,321.5 573,321.5 573.5,321.5 574,321.5 574.5,321.5 575,321.5 575.5,321.5 576,321.5 576.5,321.5 577,321.5 577.5,321.5 578,321.5 578.5,321.5 579,321.5 579.5,321.5 580,321.5 580.5,321.5 581,321.5 581.5,321.5 582,321.5 582.5,321.5 583,321.5 583.5,321.5 584,321.5 584.5,321.5 585,321.5 585.5,321.5 586,321.5 586.5,321.5 587,321.5 587.5,321.5 588,321.5 588.5,321.5 589,321.5 589.5,321.5 590,321.5 590.5,321.5 591,321.5 591.5,321.5 592,321.5 592.5,321.5 593,321.5 593.5,321.5 594,321.5 594.5,321.5 595,321.5 595.5,321.5 596,321.5 596.5,321.5 597,321.5 597.5,321.5 598,321.5 598.5,321.5 599,321.5 599.5,321.5 600,321.5 600.5,321.5 601,321.5 601.5,321.5 602,321.5 602.5,321.5 603,321.5 603.5,321.5 604,321.5 604.5,321.5 605,321.5 605.5,321.5 606,321.5 606.5,321.5 607,321.5 607.5,321.5 608,321.5 608.5,321.5 609,321.5 609.5,321.5 610,321.5 610.5,321.5 611,321.5 611.5,321.5 612,321.5 612.5,321.5" fill="none" stroke="#111" stroke-width="1.15" stroke-linejoin="round"/>
<polyline points="386.5,344.1 387,344.1 387.5,344.1 388,344.1 388.5,344.1 389,344.1 389.5,344.1 390,344.1 390.5,344.1 391,344.1 391.5,344.1 392,344.1 392.5,344.1 393,344.1 393.5,344.1 394,344.1 394.5,344.1 395,344.1 395.5,344.1 396,344.1 396.5,344.1 397,344.1 397.5,344.1 398,344.1 398.5,344.1 399,344.1 399.5,344.1 400,344.1 400.5,344.1 401,344.1 401.5,344.1 402,344.1 402.5,344.1 403,344.1 403.5,344.1 404,344.1 404.5,344.1 405,344.1 405.5,344.1 406,344.1 406.5,344.1 407,344.1 407.5,344.1 408,344.1 408.5,344.1 409,344.1 409.5,344.1 410,344.1 410.5,344.1 411,344.1 411.5,344.1 412,344.1 412.5,344.1 413,344.1 413.5,344.1 414,344.1 414.5,344.1 415,344.1 415.5,344.1 416,344.1 416.5,344.1 417,344.1 417.5,344.1 418,344.1 418.5,344.1 419,344.1 419.5,344.1 420,344.1 420.5,344.1 421,344.1 421.5,344.1 422,344.1 422.5,344.1 423,344.1 423.5,344.1 424,344.1 424.5,344.1 425,344.1 425.5,344.1 426,344.1 426.5,344.1 427,344.1 427.5,344.1 428,344.1 428.5,344.1 429,344.1 429.5,344.1 430,344.1 430.5,344.1 431,344.1 431.5,344.1 432,344.1 432.5,344.1 433,344.1 433.5,344.1 434,344.1 434.5,344.1 435,344.1 435.5,344.1 436,344.1 436.5,344.1 437,344.1 437.5,344.1 438,344.1 438.5,344.1 439,344.1 439.5,344.1 440,344.1 440.5,344.1 441,344.1 441.5,344.1 442,344.1 442.5,344.1 443,344.1 443.5,344.1 444,344.1 444.5,344.1 445,344.1 445.5,344.1 446,344.1 446.5,344.1 447,344.1 447.5,344.1 448,344.1 448.5,344.1 449,344.1 449.5,344.1 450,344.1 450.5,344.1 451,344.1 451.5,344.1 452,344.1 452.5,344.1 453,344.1 453.5,344.1 454,344.1 454.5,344.1 455,344.1 455.5,344.1 456,344.1 456.5,344.1 457,344.1 457.5,344.1 458,344.1 458.5,344.1 459,344.1 459.5,344.1 460,344.1 460.5,344.1 461,344.1 461.5,344.1 462,344.1 462.5,344.1 463,344.1 463.5,344.1 464,344.1 464.5,344.1 465,344.1 465.5,344.1 466,344.1 466.5,344.1 467,344.1 467.5,344.08 468,344.05 468.5,343.95 469,343.74 469.5,343.33 470,342.67 470.5,341.79 471,340.79 471.5,339.9 472,339.3 472.5,339.1 473,339.27 473.5,339.69 474,340.22 474.5,340.77 475,341.27 475.5,341.72 476,342.09 476.5,342.41 477,342.68 477.5,342.9 478,343.09 478.5,343.25 479,343.39 479.5,343.5 480,343.59 480.5,343.67 481,343.74 481.5,343.8 482,343.85 482.5,343.89 483,343.92 483.5,343.95 484,343.97 484.5,343.99 485,344.01 485.5,344.02 486,344.04 486.5,344.05 487,344.05 487.5,344.06 488,344.07 488.5,344.07 489,344.08 489.5,344.08 490,344.08 490.5,344.09 491,344.09 491.5,344.09 492,344.09 492.5,344.09 493,344.09 493.5,344.1 494,344.1 494.5,344.1 495,344.1 495.5,344.1 496,344.1 496.5,344.1 497,344.1 497.5,344.09 498,344.07 498.5,344.01 499,343.81 499.5,343.32 500,342.28 500.5,340.42 501,337.6 501.5,334.04 502,330.35 502.5,327.35 503,325.67 503.5,325.51 504,326.6 504.5,328.44 505,330.55 505.5,332.59 506,334.42 506.5,335.98 507,337.31 507.5,338.42 508,339.35 508.5,340.12 509,340.77 509.5,341.32 510,341.77 510.5,342.15 511,342.47 511.5,342.74 512,342.96 512.5,343.15 513,343.3 513.5,343.43 514,343.54 514.5,343.63 515,343.71 515.5,343.77 516,343.83 516.5,343.87 517,343.91 517.5,343.94 518,343.97 518.5,343.99 519,344.01 519.5,344.02 520,344.03 520.5,344.04 521,344.05 521.5,344.05 522,344.02 522.5,343.91 523,343.6 523.5,342.93 524,341.8 524.5,340.25 525,338.62 525.5,337.36 526,336.81 526.5,337 527,337.71 527.5,338.65 528,339.58 528.5,340.4 529,341.09 529.5,341.65 530,342.11 530.5,342.49 531,342.79 531.5,343.04 532,343.24 532.5,343.4 533,343.53 533.5,343.64 534,343.72 534.5,343.8 535,343.85 535.5,343.9 536,343.94 536.5,343.97 537,343.99 537.5,344.01 538,344.03 538.5,344.04 539,344.05 539.5,344.06 540,344.07 540.5,344.07 541,344.08 541.5,344.08 542,344.09 542.5,344.09 543,344.09 543.5,344.09 544,344.09 544.5,344.1 545,344.1 545.5,344.1 546,344.1 546.5,344.1 547,344.1 547.5,344.1 548,344.1 548.5,344.1 549,344.1 549.5,344.1 550,344.1 550.5,344.1 551,344.1 551.5,344.1 552,344.1 552.5,344.1 553,344.1 553.5,344.1 554,344.1 554.5,344.1 555,344.1 555.5,344.1 556,344.1 556.5,344.1 557,344.1 557.5,344.1 558,344.1 558.5,344.1 559,344.1 559.5,344.1 560,344.1 560.5,344.1 561,344.1 561.5,344.1 562,344.1 562.5,344.1 563,344.1 563.5,344.1 564,344.1 564.5,344.1 565,344.1 565.5,344.1 566,344.1 566.5,344.1 567,344.1 567.5,344.1 568,344.1 568.5,344.1 569,344.1 569.5,344.1 570,344.1 570.5,344.1 571,344.1 571.5,344.1 572,344.1 572.5,344.1 573,344.1 573.5,344.1 574,344.1 574.5,344.1 575,344.1 575.5,344.1 576,344.1 576.5,344.1 577,344.1 577.5,344.1 578,344.1 578.5,344.1 579,344.1 579.5,344.1 580,344.1 580.5,344.1 581,344.1 581.5,344.1 582,344.1 582.5,344.1 583,344.1 583.5,344.1 584,344.1 584.5,344.1 585,344.1 585.5,344.1 586,344.1 586.5,344.1 587,344.1 587.5,344.1 588,344.1 588.5,344.1 589,344.1 589.5,344.1 590,344.1 590.5,344.1 591,344.1 591.5,344.1 592,344.1 592.5,344.1 593,344.1 593.5,344.1 594,344.1 594.5,344.1 595,344.1 595.5,344.1 596,344.1 596.5,344.1 597,344.1 597.5,344.1 598,344.1 598.5,344.1 599,344.1 599.5,344.1 600,344.1 600.5,344.1 601,344.1 601.5,344.1 602,344.1 602.5,344.1 603,344.1 603.5,344.1 604,344.1 604.5,344.1 605,344.1 605.5,344.1 606,344.1 606.5,344.1 607,344.1 607.5,344.1 608,344.1 608.5,344.1 609,344.1 609.5,344.1 610,344.1 610.5,344.1 611,344.1 611.5,344.1 612,344.1 612.5,344.1" fill="none" stroke="#111" stroke-width="1.15" stroke-linejoin="round"/>
<polyline points="386.5,366.6 387,366.6 387.5,366.6 388,366.6 388.5,366.6 389,366.6 389.5,366.6 390,366.6 390.5,366.6 391,366.6 391.5,366.6 392,366.6 392.5,366.6 393,366.6 393.5,366.6 394,366.6 394.5,366.6 395,366.6 395.5,366.6 396,366.6 396.5,366.6 397,366.6 397.5,366.6 398,366.6 398.5,366.6 399,366.6 399.5,366.6 400,366.6 400.5,366.6 401,366.6 401.5,366.6 402,366.6 402.5,366.6 403,366.6 403.5,366.6 404,366.6 404.5,366.6 405,366.6 405.5,366.6 406,366.6 406.5,366.6 407,366.6 407.5,366.6 408,366.6 408.5,366.6 409,366.6 409.5,366.6 410,366.6 410.5,366.6 411,366.6 411.5,366.6 412,366.6 412.5,366.6 413,366.6 413.5,366.6 414,366.6 414.5,366.6 415,366.6 415.5,366.6 416,366.6 416.5,366.6 417,366.6 417.5,366.6 418,366.6 418.5,366.6 419,366.6 419.5,366.6 420,366.6 420.5,366.6 421,366.6 421.5,366.6 422,366.6 422.5,366.6 423,366.6 423.5,366.6 424,366.6 424.5,366.6 425,366.6 425.5,366.6 426,366.6 426.5,366.6 427,366.6 427.5,366.6 428,366.6 428.5,366.6 429,366.6 429.5,366.6 430,366.6 430.5,366.6 431,366.6 431.5,366.6 432,366.6 432.5,366.6 433,366.6 433.5,366.6 434,366.6 434.5,366.6 435,366.6 435.5,366.6 436,366.6 436.5,366.6 437,366.6 437.5,366.6 438,366.6 438.5,366.6 439,366.6 439.5,366.6 440,366.6 440.5,366.6 441,366.6 441.5,366.6 442,366.6 442.5,366.6 443,366.6 443.5,366.6 444,366.6 444.5,366.6 445,366.6 445.5,366.6 446,366.6 446.5,366.6 447,366.6 447.5,366.6 448,366.6 448.5,366.6 449,366.6 449.5,366.6 450,366.6 450.5,366.6 451,366.6 451.5,366.6 452,366.6 452.5,366.6 453,366.6 453.5,366.6 454,366.6 454.5,366.6 455,366.6 455.5,366.6 456,366.6 456.5,366.6 457,366.6 457.5,366.6 458,366.6 458.5,366.6 459,366.6 459.5,366.6 460,366.6 460.5,366.6 461,366.6 461.5,366.6 462,366.6 462.5,366.6 463,366.6 463.5,366.6 464,366.6 464.5,366.6 465,366.6 465.5,366.6 466,366.6 466.5,366.6 467,366.59 467.5,366.55 468,366.44 468.5,366.15 469,365.5 469.5,364.26 470,362.27 470.5,359.57 471,356.55 471.5,353.83 472,352.01 472.5,351.4 473,351.91 473.5,353.19 474,354.81 474.5,356.48 475,358.01 475.5,359.35 476,360.49 476.5,361.46 477,362.27 477.5,362.96 478,363.54 478.5,364.02 479,364.43 479.5,364.77 480,365.06 480.5,365.31 481,365.51 481.5,365.68 482,365.83 482.5,365.95 483,366.05 483.5,366.14 484,366.21 484.5,366.27 485,366.33 485.5,366.37 486,366.41 486.5,366.44 487,366.46 487.5,366.48 488,366.5 488.5,366.52 489,366.53 489.5,366.54 490,366.55 490.5,366.56 491,366.57 491.5,366.57 492,366.58 492.5,366.58 493,366.58 493.5,366.59 494,366.59 494.5,366.59 495,366.59 495.5,366.59 496,366.59 496.5,366.59 497,366.59 497.5,366.59 498,366.58 498.5,366.53 499,366.38 499.5,366.01 500,365.24 500.5,363.84 501,361.73 501.5,359.07 502,356.31 502.5,354.06 503,352.8 503.5,352.68 504,353.5 504.5,354.88 505,356.45 505.5,357.98 506,359.35 506.5,360.52 507,361.51 507.5,362.35 508,363.04 508.5,363.62 509,364.11 509.5,364.52 510,364.86 510.5,365.14 511,365.38 511.5,365.58 512,365.75 512.5,365.89 513,366 513.5,366.1 514,366.18 514.5,366.25 515,366.31 515.5,366.36 516,366.4 516.5,366.43 517,366.46 517.5,366.48 518,366.5 518.5,366.52 519,366.53 519.5,366.54 520,366.55 520.5,366.56 521,366.56 521.5,366.55 522,366.5 522.5,366.31 523,365.82 523.5,364.76 524,362.95 524.5,360.5 525,357.9 525.5,355.9 526,355.02 526.5,355.33 527,356.46 527.5,357.94 528,359.42 528.5,360.72 529,361.82 529.5,362.72 530,363.45 530.5,364.04 531,364.52 531.5,364.91 532,365.23 532.5,365.49 533,365.7 533.5,365.87 534,366 534.5,366.12 535,366.21 535.5,366.28 536,366.34 536.5,366.39 537,366.43 537.5,366.46 538,366.49 538.5,366.51 539,366.53 539.5,366.54 540,366.55 540.5,366.56 541,366.57 541.5,366.57 542,366.58 542.5,366.58 543,366.59 543.5,366.59 544,366.59 544.5,366.59 545,366.59 545.5,366.6 546,366.6 546.5,366.6 547,366.6 547.5,366.6 548,366.6 548.5,366.6 549,366.6 549.5,366.6 550,366.6 550.5,366.6 551,366.6 551.5,366.6 552,366.6 552.5,366.6 553,366.6 553.5,366.6 554,366.6 554.5,366.6 555,366.6 555.5,366.6 556,366.6 556.5,366.6 557,366.6 557.5,366.6 558,366.6 558.5,366.6 559,366.6 559.5,366.6 560,366.6 560.5,366.6 561,366.6 561.5,366.6 562,366.6 562.5,366.6 563,366.6 563.5,366.6 564,366.6 564.5,366.6 565,366.6 565.5,366.6 566,366.6 566.5,366.6 567,366.6 567.5,366.6 568,366.6 568.5,366.6 569,366.6 569.5,366.6 570,366.6 570.5,366.6 571,366.6 571.5,366.6 572,366.6 572.5,366.6 573,366.6 573.5,366.6 574,366.6 574.5,366.6 575,366.6 575.5,366.6 576,366.6 576.5,366.6 577,366.6 577.5,366.6 578,366.6 578.5,366.6 579,366.6 579.5,366.6 580,366.6 580.5,366.6 581,366.6 581.5,366.6 582,366.6 582.5,366.6 583,366.6 583.5,366.6 584,366.6 584.5,366.6 585,366.6 585.5,366.6 586,366.6 586.5,366.6 587,366.6 587.5,366.6 588,366.6 588.5,366.6 589,366.6 589.5,366.6 590,366.6 590.5,366.6 591,366.6 591.5,366.6 592,366.6 592.5,366.6 593,366.6 593.5,366.6 594,366.6 594.5,366.6 595,366.6 595.5,366.6 596,366.6 596.5,366.6 597,366.6 597.5,366.6 598,366.6 598.5,366.6 599,366.6 599.5,366.6 600,366.6 600.5,366.6 601,366.6 601.5,366.6 602,366.6 602.5,366.6 603,366.6 603.5,366.6 604,366.6 604.5,366.6 605,366.6 605.5,366.6 606,366.6 606.5,366.6 607,366.6 607.5,366.6 608,366.6 608.5,366.6 609,366.6 609.5,366.6 610,366.6 610.5,366.6 611,366.6 611.5,366.6 612,366.6 612.5,366.6" fill="none" stroke="#111" stroke-width="1.15" stroke-linejoin="round"/>
<polyline points="386.5,388.3 387,388.3 387.5,388.3 388,388.3 388.5,388.3 389,388.3 389.5,388.3 390,388.3 390.5,388.3 391,388.3 391.5,388.3 392,388.3 392.5,388.3 393,388.3 393.5,388.3 394,388.3 394.5,388.3 395,388.3 395.5,388.3 396,388.3 396.5,388.3 397,388.3 397.5,388.3 398,388.3 398.5,388.3 399,388.3 399.5,388.3 400,388.3 400.5,388.3 401,388.3 401.5,388.3 402,388.3 402.5,388.3 403,388.3 403.5,388.3 404,388.3 404.5,388.3 405,388.3 405.5,388.3 406,388.3 406.5,388.3 407,388.3 407.5,388.3 408,388.3 408.5,388.3 409,388.3 409.5,388.3 410,388.3 410.5,388.3 411,388.3 411.5,388.3 412,388.3 412.5,388.3 413,388.3 413.5,388.3 414,388.3 414.5,388.3 415,388.3 415.5,388.3 416,388.3 416.5,388.3 417,388.3 417.5,388.3 418,388.3 418.5,388.3 419,388.3 419.5,388.3 420,388.3 420.5,388.3 421,388.3 421.5,388.3 422,388.3 422.5,388.3 423,388.3 423.5,388.3 424,388.3 424.5,388.3 425,388.3 425.5,388.3 426,388.3 426.5,388.3 427,388.3 427.5,388.3 428,388.3 428.5,388.3 429,388.3 429.5,388.3 430,388.3 430.5,388.3 431,388.3 431.5,388.3 432,388.3 432.5,388.3 433,388.3 433.5,388.3 434,388.3 434.5,388.3 435,388.3 435.5,388.3 436,388.3 436.5,388.3 437,388.3 437.5,388.3 438,388.3 438.5,388.3 439,388.3 439.5,388.3 440,388.3 440.5,388.3 441,388.3 441.5,388.3 442,388.3 442.5,388.3 443,388.3 443.5,388.3 444,388.3 444.5,388.3 445,388.3 445.5,388.3 446,388.3 446.5,388.3 447,388.3 447.5,388.3 448,388.3 448.5,388.3 449,388.3 449.5,388.3 450,388.3 450.5,388.3 451,388.3 451.5,388.3 452,388.3 452.5,388.3 453,388.3 453.5,388.3 454,388.3 454.5,388.3 455,388.3 455.5,388.3 456,388.3 456.5,388.3 457,388.3 457.5,388.3 458,388.3 458.5,388.3 459,388.3 459.5,388.3 460,388.3 460.5,388.3 461,388.3 461.5,388.3 462,388.3 462.5,388.3 463,388.3 463.5,388.3 464,388.3 464.5,388.3 465,388.3 465.5,388.3 466,388.3 466.5,388.3 467,388.28 467.5,388.23 468,388.08 468.5,387.68 469,386.79 469.5,385.07 470,382.31 470.5,378.58 471,374.41 471.5,370.65 472,368.14 472.5,367.3 473,368.01 473.5,369.77 474,372.01 474.5,374.32 475,376.43 475.5,378.28 476,379.86 476.5,381.2 477,382.32 477.5,383.27 478,384.07 478.5,384.74 479,385.3 479.5,385.78 480,386.18 480.5,386.51 481,386.8 481.5,387.03 482,387.23 482.5,387.4 483,387.54 483.5,387.66 484,387.77 484.5,387.85 485,387.92 485.5,387.98 486,388.03 486.5,388.07 487,388.11 487.5,388.14 488,388.17 488.5,388.19 489,388.2 489.5,388.22 490,388.23 490.5,388.24 491,388.25 491.5,388.26 492,388.27 492.5,388.27 493,388.28 493.5,388.28 494,388.28 494.5,388.29 495,388.29 495.5,388.29 496,388.29 496.5,388.29 497,388.29 497.5,388.29 498,388.27 498.5,388.21 499,388.04 499.5,387.6 500,386.66 500.5,384.99 501,382.46 501.5,379.26 502,375.95 502.5,373.25 503,371.74 503.5,371.6 504,372.58 504.5,374.23 505,376.12 505.5,377.96 506,379.6 506.5,381.01 507,382.2 507.5,383.19 508,384.03 508.5,384.73 509,385.31 509.5,385.8 510,386.21 510.5,386.55 511,386.84 511.5,387.08 512,387.28 512.5,387.44 513,387.58 513.5,387.7 514,387.8 514.5,387.88 515,387.95 515.5,388.01 516,388.05 516.5,388.09 517,388.13 517.5,388.16 518,388.18 518.5,388.2 519,388.22 519.5,388.23 520,388.24 520.5,388.25 521,388.25 521.5,388.24 522,388.16 522.5,387.9 523,387.2 523.5,385.72 524,383.18 524.5,379.73 525,376.08 525.5,373.26 526,372.03 526.5,372.46 527,374.05 527.5,376.13 528,378.21 528.5,380.04 529,381.58 529.5,382.84 530,383.87 530.5,384.7 531,385.38 531.5,385.93 532,386.37 532.5,386.74 533,387.03 533.5,387.27 534,387.46 534.5,387.62 535,387.75 535.5,387.85 536,387.94 536.5,388 537,388.06 537.5,388.11 538,388.14 538.5,388.17 539,388.2 539.5,388.22 540,388.23 540.5,388.24 541,388.25 541.5,388.26 542,388.27 542.5,388.28 543,388.28 543.5,388.28 544,388.29 544.5,388.29 545,388.29 545.5,388.29 546,388.29 546.5,388.3 547,388.3 547.5,388.3 548,388.3 548.5,388.3 549,388.3 549.5,388.3 550,388.3 550.5,388.3 551,388.3 551.5,388.3 552,388.3 552.5,388.3 553,388.3 553.5,388.3 554,388.3 554.5,388.3 555,388.3 555.5,388.3 556,388.3 556.5,388.3 557,388.3 557.5,388.3 558,388.3 558.5,388.3 559,388.3 559.5,388.3 560,388.3 560.5,388.3 561,388.3 561.5,388.3 562,388.3 562.5,388.3 563,388.3 563.5,388.3 564,388.3 564.5,388.3 565,388.3 565.5,388.3 566,388.3 566.5,388.3 567,388.3 567.5,388.3 568,388.3 568.5,388.3 569,388.3 569.5,388.3 570,388.3 570.5,388.3 571,388.3 571.5,388.3 572,388.3 572.5,388.3 573,388.3 573.5,388.3 574,388.3 574.5,388.3 575,388.3 575.5,388.3 576,388.3 576.5,388.3 577,388.3 577.5,388.3 578,388.3 578.5,388.3 579,388.3 579.5,388.3 580,388.3 580.5,388.3 581,388.3 581.5,388.3 582,388.3 582.5,388.3 583,388.3 583.5,388.3 584,388.3 584.5,388.3 585,388.3 585.5,388.3 586,388.3 586.5,388.3 587,388.3 587.5,388.3 588,388.3 588.5,388.3 589,388.3 589.5,388.3 590,388.3 590.5,388.3 591,388.3 591.5,388.3 592,388.3 592.5,388.3 593,388.3 593.5,388.3 594,388.3 594.5,388.3 595,388.3 595.5,388.3 596,388.3 596.5,388.3 597,388.3 597.5,388.3 598,388.3 598.5,388.3 599,388.3 599.5,388.3 600,388.3 600.5,388.3 601,388.3 601.5,388.3 602,388.3 602.5,388.3 603,388.3 603.5,388.3 604,388.3 604.5,388.3 605,388.3 605.5,388.3 606,388.3 606.5,388.3 607,388.3 607.5,388.3 608,388.3 608.5,388.3 609,388.3 609.5,388.3 610,388.3 610.5,388.3 611,388.3 611.5,388.3 612,388.3 612.5,388.3" fill="none" stroke="#111" stroke-width="1.15" stroke-linejoin="round"/>
<polyline points="386.5,411.1 387,411.1 387.5,411.1 388,411.1 388.5,411.1 389,411.1 389.5,411.1 390,411.1 390.5,411.1 391,411.1 391.5,411.1 392,411.1 392.5,411.1 393,411.1 393.5,411.1 394,411.1 394.5,411.1 395,411.1 395.5,411.1 396,411.1 396.5,411.1 397,411.1 397.5,411.1 398,411.1 398.5,411.1 399,411.1 399.5,411.1 400,411.1 400.5,411.1 401,411.1 401.5,411.1 402,411.1 402.5,411.1 403,411.1 403.5,411.1 404,411.1 404.5,411.1 405,411.1 405.5,411.1 406,411.1 406.5,411.1 407,411.1 407.5,411.1 408,411.1 408.5,411.1 409,411.1 409.5,411.1 410,411.1 410.5,411.1 411,411.1 411.5,411.1 412,411.1 412.5,411.1 413,411.1 413.5,411.1 414,411.1 414.5,411.1 415,411.1 415.5,411.1 416,411.1 416.5,411.1 417,411.1 417.5,411.1 418,411.1 418.5,411.1 419,411.1 419.5,411.1 420,411.1 420.5,411.1 421,411.1 421.5,411.1 422,411.1 422.5,411.1 423,411.1 423.5,411.1 424,411.1 424.5,411.1 425,411.1 425.5,411.1 426,411.1 426.5,411.1 427,411.1 427.5,411.1 428,411.1 428.5,411.1 429,411.1 429.5,411.1 430,411.1 430.5,411.1 431,411.1 431.5,411.1 432,411.1 432.5,411.1 433,411.1 433.5,411.1 434,411.1 434.5,411.1 435,411.1 435.5,411.1 436,411.1 436.5,411.1 437,411.1 437.5,411.1 438,411.1 438.5,411.1 439,411.1 439.5,411.1 440,411.1 440.5,411.1 441,411.1 441.5,411.1 442,411.1 442.5,411.1 443,411.1 443.5,411.1 444,411.1 444.5,411.1 445,411.1 445.5,411.1 446,411.1 446.5,411.1 447,411.1 447.5,411.1 448,411.1 448.5,411.1 449,411.1 449.5,411.1 450,411.1 450.5,411.1 451,411.1 451.5,411.1 452,411.1 452.5,411.1 453,411.1 453.5,411.1 454,411.1 454.5,411.1 455,411.1 455.5,411.1 456,411.1 456.5,411.1 457,411.1 457.5,411.1 458,411.1 458.5,411.1 459,411.1 459.5,411.1 460,411.1 460.5,411.1 461,411.1 461.5,411.1 462,411.1 462.5,411.1 463,411.1 463.5,411.1 464,411.1 464.5,411.1 465,411.1 465.5,411.1 466,411.1 466.5,411.1 467,411.09 467.5,411.05 468,410.94 468.5,410.63 469,409.95 469.5,408.64 470,406.54 470.5,403.7 471,400.52 471.5,397.65 472,395.74 472.5,395.1 473,395.64 473.5,396.98 474,398.69 474.5,400.44 475,402.06 475.5,403.47 476,404.67 476.5,405.69 477,406.55 477.5,407.27 478,407.87 478.5,408.38 479,408.81 479.5,409.18 480,409.48 480.5,409.74 481,409.95 481.5,410.14 482,410.29 482.5,410.42 483,410.52 483.5,410.62 484,410.69 484.5,410.76 485,410.81 485.5,410.86 486,410.9 486.5,410.93 487,410.96 487.5,410.98 488,411 488.5,411.01 489,411.03 489.5,411.04 490,411.05 490.5,411.06 491,411.06 491.5,411.07 492,411.07 492.5,411.08 493,411.08 493.5,411.08 494,411.09 494.5,411.09 495,411.09 495.5,411.09 496,411.09 496.5,411.09 497,411.09 497.5,411.09 498,411.08 498.5,411.05 499,410.95 499.5,410.69 500,410.15 500.5,409.19 501,407.73 501.5,405.88 502,403.97 502.5,402.41 503,401.54 503.5,401.46 504,402.02 504.5,402.98 505,404.07 505.5,405.13 506,406.08 506.5,406.89 507,407.58 507.5,408.15 508,408.63 508.5,409.04 509,409.37 509.5,409.66 510,409.89 510.5,410.09 511,410.26 511.5,410.39 512,410.51 512.5,410.61 513,410.69 513.5,410.75 514,410.81 514.5,410.86 515,410.9 515.5,410.93 516,410.96 516.5,410.98 517,411 517.5,411.02 518,411.03 518.5,411.04 519,411.05 519.5,411.06 520,411.07 520.5,411.07 521,411.07 521.5,411.07 522,411.02 522.5,410.88 523,410.51 523.5,409.71 524,408.34 524.5,406.47 525,404.5 525.5,402.98 526,402.32 526.5,402.55 527,403.41 527.5,404.53 528,405.65 528.5,406.64 529,407.47 529.5,408.15 530,408.71 530.5,409.16 531,409.52 531.5,409.82 532,410.06 532.5,410.26 533,410.41 533.5,410.54 534,410.65 534.5,410.73 535,410.8 535.5,410.86 536,410.9 536.5,410.94 537,410.97 537.5,410.99 538,411.01 538.5,411.03 539,411.04 539.5,411.05 540,411.06 540.5,411.07 541,411.08 541.5,411.08 542,411.08 542.5,411.09 543,411.09 543.5,411.09 544,411.09 544.5,411.09 545,411.1 545.5,411.1 546,411.1 546.5,411.1 547,411.1 547.5,411.1 548,411.1 548.5,411.1 549,411.1 549.5,411.1 550,411.1 550.5,411.1 551,411.1 551.5,411.1 552,411.1 552.5,411.1 553,411.1 553.5,411.1 554,411.1 554.5,411.1 555,411.1 555.5,411.1 556,411.1 556.5,411.1 557,411.1 557.5,411.1 558,411.1 558.5,411.1 559,411.1 559.5,411.1 560,411.1 560.5,411.1 561,411.1 561.5,411.1 562,411.1 562.5,411.1 563,411.1 563.5,411.1 564,411.1 564.5,411.1 565,411.1 565.5,411.1 566,411.1 566.5,411.1 567,411.1 567.5,411.1 568,411.1 568.5,411.1 569,411.1 569.5,411.1 570,411.1 570.5,411.1 571,411.1 571.5,411.1 572,411.1 572.5,411.1 573,411.1 573.5,411.1 574,411.1 574.5,411.1 575,411.1 575.5,411.1 576,411.1 576.5,411.1 577,411.1 577.5,411.1 578,411.1 578.5,411.1 579,411.1 579.5,411.1 580,411.1 580.5,411.1 581,411.1 581.5,411.1 582,411.1 582.5,411.1 583,411.1 583.5,411.1 584,411.1 584.5,411.1 585,411.1 585.5,411.1 586,411.1 586.5,411.1 587,411.1 587.5,411.1 588,411.1 588.5,411.1 589,411.1 589.5,411.1 590,411.1 590.5,411.1 591,411.1 591.5,411.1 592,411.1 592.5,411.1 593,411.1 593.5,411.1 594,411.1 594.5,411.1 595,411.1 595.5,411.1 596,411.1 596.5,411.1 597,411.1 597.5,411.1 598,411.1 598.5,411.1 599,411.1 599.5,411.1 600,411.1 600.5,411.1 601,411.1 601.5,411.1 602,411.1 602.5,411.1 603,411.1 603.5,411.1 604,411.1 604.5,411.1 605,411.1 605.5,411.1 606,411.1 606.5,411.1 607,411.1 607.5,411.1 608,411.1 608.5,411.1 609,411.1 609.5,411.1 610,411.1 610.5,411.1 611,411.1 611.5,411.1 612,411.1 612.5,411.1" fill="none" stroke="#111" stroke-width="1.15" stroke-linejoin="round"/>
<polyline points="386.5,431.6 387,431.6 387.5,431.6 388,431.6 388.5,431.6 389,431.6 389.5,431.6 390,431.6 390.5,431.6 391,431.6 391.5,431.6 392,431.6 392.5,431.6 393,431.6 393.5,431.6 394,431.6 394.5,431.6 395,431.6 395.5,431.6 396,431.6 396.5,431.6 397,431.6 397.5,431.6 398,431.6 398.5,431.6 399,431.6 399.5,431.6 400,431.6 400.5,431.6 401,431.6 401.5,431.6 402,431.6 402.5,431.6 403,431.6 403.5,431.6 404,431.6 404.5,431.6 405,431.6 405.5,431.6 406,431.6 406.5,431.6 407,431.6 407.5,431.6 408,431.6 408.5,431.6 409,431.6 409.5,431.6 410,431.6 410.5,431.6 411,431.6 411.5,431.6 412,431.6 412.5,431.6 413,431.6 413.5,431.6 414,431.6 414.5,431.6 415,431.6 415.5,431.6 416,431.6 416.5,431.6 417,431.6 417.5,431.6 418,431.6 418.5,431.6 419,431.6 419.5,431.6 420,431.6 420.5,431.6 421,431.6 421.5,431.6 422,431.6 422.5,431.6 423,431.6 423.5,431.6 424,431.6 424.5,431.6 425,431.6 425.5,431.6 426,431.6 426.5,431.6 427,431.6 427.5,431.6 428,431.6 428.5,431.6 429,431.6 429.5,431.6 430,431.6 430.5,431.6 431,431.6 431.5,431.6 432,431.6 432.5,431.6 433,431.6 433.5,431.6 434,431.6 434.5,431.6 435,431.6 435.5,431.6 436,431.6 436.5,431.6 437,431.6 437.5,431.6 438,431.6 438.5,431.6 439,431.6 439.5,431.6 440,431.6 440.5,431.6 441,431.6 441.5,431.6 442,431.6 442.5,431.6 443,431.6 443.5,431.6 444,431.6 444.5,431.6 445,431.6 445.5,431.6 446,431.6 446.5,431.6 447,431.6 447.5,431.6 448,431.6 448.5,431.6 449,431.6 449.5,431.6 450,431.6 450.5,431.6 451,431.6 451.5,431.6 452,431.6 452.5,431.6 453,431.6 453.5,431.6 454,431.6 454.5,431.6 455,431.6 455.5,431.6 456,431.6 456.5,431.6 457,431.6 457.5,431.6 458,431.6 458.5,431.6 459,431.6 459.5,431.6 460,431.6 460.5,431.6 461,431.6 461.5,431.6 462,431.6 462.5,431.6 463,431.6 463.5,431.6 464,431.6 464.5,431.6 465,431.6 465.5,431.6 466,431.6 466.5,431.6 467,431.59 467.5,431.56 468,431.46 468.5,431.19 469,430.6 469.5,429.46 470,427.64 470.5,425.17 471,422.41 471.5,419.92 472,418.26 472.5,417.7 473,418.17 473.5,419.33 474,420.82 474.5,422.34 475,423.75 475.5,424.97 476,426.02 476.5,426.9 477,427.64 477.5,428.27 478,428.8 478.5,429.24 479,429.61 479.5,429.93 480,430.19 480.5,430.42 481,430.6 481.5,430.76 482,430.89 482.5,431.01 483,431.1 483.5,431.18 484,431.25 484.5,431.3 485,431.35 485.5,431.39 486,431.42 486.5,431.45 487,431.47 487.5,431.49 488,431.51 488.5,431.52 489,431.54 489.5,431.55 490,431.56 490.5,431.56 491,431.57 491.5,431.57 492,431.58 492.5,431.58 493,431.58 493.5,431.59 494,431.59 494.5,431.59 495,431.59 495.5,431.59 496,431.59 496.5,431.6 497,431.6 497.5,431.59 498,431.59 498.5,431.56 499,431.48 499.5,431.27 500,430.84 500.5,430.06 501,428.89 501.5,427.4 502,425.87 502.5,424.61 503,423.91 503.5,423.85 504,424.3 504.5,425.07 505,425.95 505.5,426.8 506,427.56 506.5,428.21 507,428.77 507.5,429.23 508,429.62 508.5,429.94 509,430.21 509.5,430.44 510,430.63 510.5,430.79 511,430.92 511.5,431.03 512,431.12 512.5,431.2 513,431.27 513.5,431.32 514,431.37 514.5,431.41 515,431.44 515.5,431.46 516,431.49 516.5,431.5 517,431.52 517.5,431.53 518,431.54 518.5,431.55 519,431.56 519.5,431.57 520,431.57 520.5,431.58 521,431.58 521.5,431.58 522,431.58 522.5,431.56 523,431.51 523.5,431.4 524,431.22 524.5,430.96 525,430.7 525.5,430.49 526,430.4 526.5,430.43 527,430.55 527.5,430.7 528,430.86 528.5,430.99 529,431.1 529.5,431.2 530,431.27 530.5,431.33 531,431.38 531.5,431.42 532,431.46 532.5,431.48 533,431.51 533.5,431.52 534,431.54 534.5,431.55 535,431.56 535.5,431.57 536,431.57 536.5,431.58 537,431.58 537.5,431.59 538,431.59 538.5,431.59 539,431.59 539.5,431.59 540,431.59 540.5,431.6 541,431.6 541.5,431.6 542,431.6 542.5,431.6 543,431.6 543.5,431.6 544,431.6 544.5,431.6 545,431.6 545.5,431.6 546,431.6 546.5,431.6 547,431.6 547.5,431.6 548,431.6 548.5,431.6 549,431.6 549.5,431.6 550,431.6 550.5,431.6 551,431.6 551.5,431.6 552,431.6 552.5,431.6 553,431.6 553.5,431.6 554,431.6 554.5,431.6 555,431.6 555.5,431.6 556,431.6 556.5,431.6 557,431.6 557.5,431.6 558,431.6 558.5,431.6 559,431.6 559.5,431.6 560,431.6 560.5,431.6 561,431.6 561.5,431.6 562,431.6 562.5,431.6 563,431.6 563.5,431.6 564,431.6 564.5,431.6 565,431.6 565.5,431.6 566,431.6 566.5,431.6 567,431.6 567.5,431.6 568,431.6 568.5,431.6 569,431.6 569.5,431.6 570,431.6 570.5,431.6 571,431.6 571.5,431.6 572,431.6 572.5,431.6 573,431.6 573.5,431.6 574,431.6 574.5,431.6 575,431.6 575.5,431.6 576,431.6 576.5,431.6 577,431.6 577.5,431.6 578,431.6 578.5,431.6 579,431.6 579.5,431.6 580,431.6 580.5,431.6 581,431.6 581.5,431.6 582,431.6 582.5,431.6 583,431.6 583.5,431.6 584,431.6 584.5,431.6 585,431.6 585.5,431.6 586,431.6 586.5,431.6 587,431.6 587.5,431.6 588,431.6 588.5,431.6 589,431.6 589.5,431.6 590,431.6 590.5,431.6 591,431.6 591.5,431.6 592,431.6 592.5,431.6 593,431.6 593.5,431.6 594,431.6 594.5,431.6 595,431.6 595.5,431.6 596,431.6 596.5,431.6 597,431.6 597.5,431.6 598,431.6 598.5,431.6 599,431.6 599.5,431.6 600,431.6 600.5,431.6 601,431.6 601.5,431.6 602,431.6 602.5,431.6 603,431.6 603.5,431.6 604,431.6 604.5,431.6 605,431.6 605.5,431.6 606,431.6 606.5,431.6 607,431.6 607.5,431.6 608,431.6 608.5,431.6 609,431.6 609.5,431.6 610,431.6 610.5,431.6 611,431.6 611.5,431.6 612,431.6 612.5,431.6" fill="none" stroke="#111" stroke-width="1.15" stroke-linejoin="round"/>
<polyline points="386.5,454.8 387,454.8 387.5,454.8 388,454.8 388.5,454.8 389,454.8 389.5,454.8 390,454.8 390.5,454.8 391,454.8 391.5,454.8 392,454.8 392.5,454.8 393,454.8 393.5,454.8 394,454.8 394.5,454.8 395,454.8 395.5,454.8 396,454.8 396.5,454.8 397,454.8 397.5,454.8 398,454.8 398.5,454.8 399,454.8 399.5,454.8 400,454.8 400.5,454.8 401,454.8 401.5,454.8 402,454.8 402.5,454.8 403,454.8 403.5,454.8 404,454.8 404.5,454.8 405,454.8 405.5,454.8 406,454.8 406.5,454.8 407,454.8 407.5,454.8 408,454.8 408.5,454.8 409,454.8 409.5,454.8 410,454.8 410.5,454.8 411,454.8 411.5,454.8 412,454.8 412.5,454.8 413,454.8 413.5,454.8 414,454.8 414.5,454.8 415,454.8 415.5,454.8 416,454.8 416.5,454.8 417,454.8 417.5,454.8 418,454.8 418.5,454.8 419,454.8 419.5,454.8 420,454.8 420.5,454.8 421,454.8 421.5,454.8 422,454.8 422.5,454.8 423,454.8 423.5,454.8 424,454.8 424.5,454.8 425,454.8 425.5,454.8 426,454.8 426.5,454.8 427,454.8 427.5,454.8 428,454.8 428.5,454.8 429,454.8 429.5,454.8 430,454.8 430.5,454.8 431,454.8 431.5,454.8 432,454.8 432.5,454.8 433,454.8 433.5,454.8 434,454.8 434.5,454.8 435,454.8 435.5,454.8 436,454.8 436.5,454.8 437,454.8 437.5,454.8 438,454.8 438.5,454.8 439,454.8 439.5,454.8 440,454.8 440.5,454.8 441,454.8 441.5,454.8 442,454.8 442.5,454.8 443,454.8 443.5,454.8 444,454.8 444.5,454.8 445,454.8 445.5,454.8 446,454.8 446.5,454.8 447,454.8 447.5,454.8 448,454.8 448.5,454.8 449,454.8 449.5,454.8 450,454.8 450.5,454.8 451,454.8 451.5,454.8 452,454.8 452.5,454.8 453,454.8 453.5,454.8 454,454.8 454.5,454.8 455,454.8 455.5,454.8 456,454.8 456.5,454.8 457,454.8 457.5,454.8 458,454.8 458.5,454.8 459,454.8 459.5,454.8 460,454.8 460.5,454.8 461,454.8 461.5,454.8 462,454.8 462.5,454.8 463,454.8 463.5,454.8 464,454.8 464.5,454.8 465,454.8 465.5,454.8 466,454.8 466.5,454.8 467,454.79 467.5,454.76 468,454.68 468.5,454.45 469,453.93 469.5,452.94 470,451.35 470.5,449.2 471,446.8 471.5,444.63 472,443.18 472.5,442.7 473,443.11 473.5,444.12 474,445.42 474.5,446.74 475,447.96 475.5,449.03 476,449.94 476.5,450.71 477,451.36 477.5,451.9 478,452.36 478.5,452.75 479,453.07 479.5,453.35 480,453.58 480.5,453.77 481,453.93 481.5,454.07 482,454.19 482.5,454.28 483,454.36 483.5,454.43 484,454.49 484.5,454.54 485,454.58 485.5,454.62 486,454.65 486.5,454.67 487,454.69 487.5,454.71 488,454.72 488.5,454.73 489,454.75 489.5,454.75 490,454.76 490.5,454.77 491,454.77 491.5,454.78 492,454.78 492.5,454.78 493,454.79 493.5,454.79 494,454.79 494.5,454.79 495,454.79 495.5,454.79 496,454.8 496.5,454.8 497,454.8 497.5,454.8 498,454.8 498.5,454.8 499,454.79 499.5,454.79 500,454.77 500.5,454.74 501,454.69 501.5,454.64 502,454.58 502.5,454.53 503,454.5 503.5,454.5 504,454.52 504.5,454.55 505,454.58 505.5,454.62 506,454.64 506.5,454.67 507,454.69 507.5,454.71 508,454.72 508.5,454.74 509,454.75 509.5,454.76 510,454.76 510.5,454.77 511,454.77 511.5,454.78 512,454.78 512.5,454.78 513,454.79 513.5,454.79 514,454.79 514.5,454.79 515,454.79 515.5,454.79 516,454.8 516.5,454.8 517,454.8 517.5,454.8 518,454.8 518.5,454.8 519,454.8 519.5,454.8 520,454.8 520.5,454.8 521,454.8 521.5,454.8 522,454.8 522.5,454.79 523,454.77 523.5,454.74 524,454.67 524.5,454.59 525,454.5 525.5,454.43 526,454.4 526.5,454.41 527,454.45 527.5,454.5 528,454.55 528.5,454.6 529,454.64 529.5,454.67 530,454.69 530.5,454.71 531,454.73 531.5,454.74 532,454.75 532.5,454.76 533,454.77 533.5,454.77 534,454.78 534.5,454.78 535,454.79 535.5,454.79 536,454.79 536.5,454.79 537,454.79 537.5,454.8 538,454.8 538.5,454.8 539,454.8 539.5,454.8 540,454.8 540.5,454.8 541,454.8 541.5,454.8 542,454.8 542.5,454.8 543,454.8 543.5,454.8 544,454.8 544.5,454.8 545,454.8 545.5,454.8 546,454.8 546.5,454.8 547,454.8 547.5,454.8 548,454.8 548.5,454.8 549,454.8 549.5,454.8 550,454.8 550.5,454.8 551,454.8 551.5,454.8 552,454.8 552.5,454.8 553,454.8 553.5,454.8 554,454.8 554.5,454.8 555,454.8 555.5,454.8 556,454.8 556.5,454.8 557,454.8 557.5,454.8 558,454.8 558.5,454.8 559,454.8 559.5,454.8 560,454.8 560.5,454.8 561,454.8 561.5,454.8 562,454.8 562.5,454.8 563,454.8 563.5,454.8 564,454.8 564.5,454.8 565,454.8 565.5,454.8 566,454.8 566.5,454.8 567,454.8 567.5,454.8 568,454.8 568.5,454.8 569,454.8 569.5,454.8 570,454.8 570.5,454.8 571,454.8 571.5,454.8 572,454.8 572.5,454.8 573,454.8 573.5,454.8 574,454.8 574.5,454.8 575,454.8 575.5,454.8 576,454.8 576.5,454.8 577,454.8 577.5,454.8 578,454.8 578.5,454.8 579,454.8 579.5,454.8 580,454.8 580.5,454.8 581,454.8 581.5,454.8 582,454.8 582.5,454.8 583,454.8 583.5,454.8 584,454.8 584.5,454.8 585,454.8 585.5,454.8 586,454.8 586.5,454.8 587,454.8 587.5,454.8 588,454.8 588.5,454.8 589,454.8 589.5,454.8 590,454.8 590.5,454.8 591,454.8 591.5,454.8 592,454.8 592.5,454.8 593,454.8 593.5,454.8 594,454.8 594.5,454.8 595,454.8 595.5,454.8 596,454.8 596.5,454.8 597,454.8 597.5,454.8 598,454.8 598.5,454.8 599,454.8 599.5,454.8 600,454.8 600.5,454.8 601,454.8 601.5,454.8 602,454.8 602.5,454.8 603,454.8 603.5,454.8 604,454.8 604.5,454.8 605,454.8 605.5,454.8 606,454.8 606.5,454.8 607,454.8 607.5,454.8 608,454.8 608.5,454.8 609,454.8 609.5,454.8 610,454.8 610.5,454.8 611,454.8 611.5,454.8 612,454.8 612.5,454.8" fill="none" stroke="#111" stroke-width="1.15" stroke-linejoin="round"/>
<polyline points="386.5,479.6 387,479.6 387.5,479.6 388,479.6 388.5,479.6 389,479.6 389.5,479.6 390,479.6 390.5,479.6 391,479.6 391.5,479.6 392,479.6 392.5,479.6 393,479.6 393.5,479.6 394,479.6 394.5,479.6 395,479.6 395.5,479.6 396,479.6 396.5,479.6 397,479.6 397.5,479.6 398,479.6 398.5,479.6 399,479.6 399.5,479.6 400,479.6 400.5,479.6 401,479.6 401.5,479.6 402,479.6 402.5,479.6 403,479.6 403.5,479.6 404,479.6 404.5,479.6 405,479.6 405.5,479.6 406,479.6 406.5,479.6 407,479.6 407.5,479.6 408,479.6 408.5,479.6 409,479.6 409.5,479.6 410,479.6 410.5,479.6 411,479.6 411.5,479.6 412,479.6 412.5,479.6 413,479.6 413.5,479.6 414,479.6 414.5,479.6 415,479.6 415.5,479.6 416,479.6 416.5,479.6 417,479.6 417.5,479.6 418,479.6 418.5,479.6 419,479.6 419.5,479.6 420,479.6 420.5,479.6 421,479.6 421.5,479.6 422,479.6 422.5,479.6 423,479.6 423.5,479.6 424,479.6 424.5,479.6 425,479.6 425.5,479.6 426,479.6 426.5,479.6 427,479.6 427.5,479.6 428,479.6 428.5,479.6 429,479.6 429.5,479.6 430,479.6 430.5,479.6 431,479.6 431.5,479.6 432,479.6 432.5,479.6 433,479.6 433.5,479.6 434,479.6 434.5,479.6 435,479.6 435.5,479.6 436,479.6 436.5,479.6 437,479.6 437.5,479.6 438,479.6 438.5,479.6 439,479.6 439.5,479.6 440,479.6 440.5,479.6 441,479.6 441.5,479.6 442,479.6 442.5,479.6 443,479.6 443.5,479.6 444,479.6 444.5,479.6 445,479.6 445.5,479.6 446,479.6 446.5,479.6 447,479.6 447.5,479.6 448,479.6 448.5,479.6 449,479.6 449.5,479.6 450,479.6 450.5,479.6 451,479.6 451.5,479.6 452,479.6 452.5,479.6 453,479.6 453.5,479.6 454,479.6 454.5,479.6 455,479.6 455.5,479.6 456,479.6 456.5,479.6 457,479.6 457.5,479.6 458,479.6 458.5,479.6 459,479.6 459.5,479.6 460,479.6 460.5,479.6 461,479.6 461.5,479.6 462,479.6 462.5,479.6 463,479.6 463.5,479.6 464,479.6 464.5,479.6 465,479.6 465.5,479.6 466,479.6 466.5,479.6 467,479.59 467.5,479.58 468,479.53 468.5,479.4 469,479.11 469.5,478.55 470,477.66 470.5,476.45 471,475.1 471.5,473.89 472,473.07 472.5,472.8 473,473.03 473.5,473.6 474,474.33 474.5,475.07 475,475.76 475.5,476.36 476,476.87 476.5,477.3 477,477.66 477.5,477.97 478,478.23 478.5,478.45 479,478.63 479.5,478.78 480,478.91 480.5,479.02 481,479.11 481.5,479.19 482,479.25 482.5,479.31 483,479.36 483.5,479.39 484,479.43 484.5,479.45 485,479.48 485.5,479.5 486,479.51 486.5,479.53 487,479.54 487.5,479.55 488,479.56 488.5,479.56 489,479.57 489.5,479.57 490,479.58 490.5,479.58 491,479.58 491.5,479.59 492,479.59 492.5,479.59 493,479.59 493.5,479.59 494,479.59 494.5,479.6 495,479.6 495.5,479.6 496,479.6 496.5,479.6 497,479.6 497.5,479.6 498,479.59 498.5,479.55 499,479.45 499.5,479.19 500,478.65 500.5,477.67 501,476.19 501.5,474.33 502,472.4 502.5,470.82 503,469.94 503.5,469.86 504,470.43 504.5,471.4 505,472.5 505.5,473.57 506,474.52 506.5,475.35 507,476.04 507.5,476.62 508,477.11 508.5,477.52 509,477.86 509.5,478.14 510,478.38 510.5,478.58 511,478.75 511.5,478.89 512,479 512.5,479.1 513,479.18 513.5,479.25 514,479.31 514.5,479.36 515,479.4 515.5,479.43 516,479.46 516.5,479.48 517,479.5 517.5,479.52 518,479.53 518.5,479.54 519,479.55 519.5,479.56 520,479.57 520.5,479.57 521,479.58 521.5,479.58 522,479.58 522.5,479.57 523,479.56 523.5,479.51 524,479.44 524.5,479.33 525,479.22 525.5,479.13 526,479.1 526.5,479.11 527,479.16 527.5,479.22 528,479.29 528.5,479.35 529,479.39 529.5,479.43 530,479.45 530.5,479.44 531,479.33 531.5,479.01 532,478.31 532.5,477.11 533,475.46 533.5,473.72 534,472.38 534.5,471.8 535,472.01 535.5,472.77 536,473.77 536.5,474.76 537,475.64 537.5,476.38 538,476.98 538.5,477.48 539,477.88 539.5,478.2 540,478.46 540.5,478.68 541,478.85 541.5,478.99 542,479.11 542.5,479.2 543,479.27 543.5,479.34 544,479.39 544.5,479.43 545,479.46 545.5,479.49 546,479.51 546.5,479.52 547,479.54 547.5,479.55 548,479.56 548.5,479.57 549,479.57 549.5,479.58 550,479.58 550.5,479.59 551,479.59 551.5,479.59 552,479.59 552.5,479.59 553,479.59 553.5,479.6 554,479.6 554.5,479.6 555,479.6 555.5,479.6 556,479.6 556.5,479.6 557,479.6 557.5,479.6 558,479.6 558.5,479.6 559,479.6 559.5,479.6 560,479.6 560.5,479.6 561,479.6 561.5,479.6 562,479.6 562.5,479.6 563,479.6 563.5,479.6 564,479.6 564.5,479.6 565,479.6 565.5,479.6 566,479.6 566.5,479.6 567,479.6 567.5,479.6 568,479.6 568.5,479.6 569,479.6 569.5,479.6 570,479.6 570.5,479.6 571,479.6 571.5,479.6 572,479.6 572.5,479.6 573,479.6 573.5,479.6 574,479.6 574.5,479.6 575,479.6 575.5,479.6 576,479.6 576.5,479.6 577,479.6 577.5,479.6 578,479.6 578.5,479.6 579,479.6 579.5,479.6 580,479.6 580.5,479.6 581,479.6 581.5,479.6 582,479.6 582.5,479.6 583,479.6 583.5,479.6 584,479.6 584.5,479.6 585,479.6 585.5,479.6 586,479.6 586.5,479.6 587,479.6 587.5,479.6 588,479.6 588.5,479.6 589,479.6 589.5,479.6 590,479.6 590.5,479.6 591,479.6 591.5,479.6 592,479.6 592.5,479.6 593,479.6 593.5,479.6 594,479.6 594.5,479.6 595,479.6 595.5,479.6 596,479.6 596.5,479.6 597,479.6 597.5,479.6 598,479.6 598.5,479.6 599,479.6 599.5,479.6 600,479.6 600.5,479.6 601,479.6 601.5,479.6 602,479.6 602.5,479.6 603,479.6 603.5,479.6 604,479.6 604.5,479.6 605,479.6 605.5,479.6 606,479.6 606.5,479.6 607,479.6 607.5,479.6 608,479.6 608.5,479.6 609,479.6 609.5,479.6 610,479.6 610.5,479.6 611,479.6 611.5,479.6 612,479.6 612.5,479.6" fill="none" stroke="#111" stroke-width="1.15" stroke-linejoin="round"/>
<polyline points="386.5,503.1 387,503.1 387.5,503.1 388,503.1 388.5,503.1 389,503.1 389.5,503.1 390,503.1 390.5,503.1 391,503.1 391.5,503.1 392,503.1 392.5,503.1 393,503.1 393.5,503.1 394,503.1 394.5,503.1 395,503.1 395.5,503.1 396,503.1 396.5,503.1 397,503.1 397.5,503.1 398,503.1 398.5,503.1 399,503.1 399.5,503.1 400,503.1 400.5,503.1 401,503.1 401.5,503.1 402,503.1 402.5,503.1 403,503.1 403.5,503.1 404,503.1 404.5,503.1 405,503.1 405.5,503.1 406,503.1 406.5,503.1 407,503.1 407.5,503.1 408,503.1 408.5,503.1 409,503.1 409.5,503.1 410,503.1 410.5,503.1 411,503.1 411.5,503.1 412,503.1 412.5,503.1 413,503.1 413.5,503.1 414,503.1 414.5,503.1 415,503.1 415.5,503.1 416,503.1 416.5,503.1 417,503.1 417.5,503.1 418,503.1 418.5,503.1 419,503.1 419.5,503.1 420,503.1 420.5,503.1 421,503.1 421.5,503.1 422,503.1 422.5,503.1 423,503.1 423.5,503.1 424,503.1 424.5,503.1 425,503.1 425.5,503.1 426,503.1 426.5,503.1 427,503.1 427.5,503.1 428,503.1 428.5,503.1 429,503.1 429.5,503.1 430,503.1 430.5,503.1 431,503.1 431.5,503.1 432,503.1 432.5,503.1 433,503.1 433.5,503.1 434,503.1 434.5,503.1 435,503.1 435.5,503.1 436,503.1 436.5,503.1 437,503.1 437.5,503.1 438,503.1 438.5,503.1 439,503.1 439.5,503.1 440,503.1 440.5,503.1 441,503.1 441.5,503.1 442,503.1 442.5,503.1 443,503.1 443.5,503.1 444,503.1 444.5,503.1 445,503.1 445.5,503.1 446,503.1 446.5,503.1 447,503.1 447.5,503.1 448,503.1 448.5,503.1 449,503.1 449.5,503.1 450,503.1 450.5,503.1 451,503.1 451.5,503.1 452,503.1 452.5,503.1 453,503.1 453.5,503.1 454,503.1 454.5,503.1 455,503.1 455.5,503.1 456,503.1 456.5,503.1 457,503.1 457.5,503.1 458,503.1 458.5,503.1 459,503.1 459.5,503.1 460,503.1 460.5,503.1 461,503.1 461.5,503.1 462,503.1 462.5,503.1 463,503.1 463.5,503.1 464,503.1 464.5,503.1 465,503.1 465.5,503.1 466,503.1 466.5,503.1 467,503.09 467.5,503.07 468,502.99 468.5,502.79 469,502.34 469.5,501.49 470,500.11 470.5,498.24 471,496.15 471.5,494.28 472,493.02 472.5,492.6 473,492.95 473.5,493.83 474,494.96 474.5,496.11 475,497.17 475.5,498.09 476,498.88 476.5,499.55 477,500.11 477.5,500.58 478,500.98 478.5,501.32 479,501.6 479.5,501.84 480,502.04 480.5,502.21 481,502.35 481.5,502.47 482,502.57 482.5,502.65 483,502.72 483.5,502.78 484,502.83 484.5,502.87 485,502.91 485.5,502.94 486,502.97 486.5,502.99 487,503 487.5,503.02 488,503.03 488.5,503.04 489,503.05 489.5,503.06 490,503.07 490.5,503.07 491,503.08 491.5,503.08 492,503.08 492.5,503.09 493,503.09 493.5,503.09 494,503.09 494.5,503.09 495,503.09 495.5,503.09 496,503.1 496.5,503.1 497,503.1 497.5,503.09 498,503.08 498.5,503.03 499,502.9 499.5,502.56 500,501.84 500.5,500.56 501,498.61 501.5,496.16 502,493.62 502.5,491.54 503,490.39 503.5,490.28 504,491.03 504.5,492.3 505,493.75 505.5,495.16 506,496.42 506.5,497.5 507,498.41 507.5,499.18 508,499.82 508.5,500.36 509,500.81 509.5,501.18 510,501.49 510.5,501.76 511,501.98 511.5,502.16 512,502.31 512.5,502.44 513,502.55 513.5,502.64 514,502.72 514.5,502.78 515,502.83 515.5,502.87 516,502.91 516.5,502.94 517,502.97 517.5,502.99 518,503.01 518.5,503.02 519,503.04 519.5,503.05 520,503.05 520.5,503.06 521,503.07 521.5,503.07 522,503.05 522.5,502.98 523,502.79 523.5,502.38 524,501.68 524.5,500.73 525,499.72 525.5,498.94 526,498.6 526.5,498.72 527,499.16 527.5,499.74 528,500.31 528.5,500.82 529,501.24 529.5,501.59 530,501.87 530.5,502.07 531,502.17 531.5,502.1 532,501.75 532.5,501.04 533,500.02 533.5,498.92 534,498.07 534.5,497.72 535,497.9 535.5,498.43 536,499.12 536.5,499.8 537,500.4 537.5,500.9 538,501.32 538.5,501.65 539,501.92 539.5,502.14 540,502.32 540.5,502.47 541,502.59 541.5,502.68 542,502.76 542.5,502.83 543,502.88 543.5,502.92 544,502.95 544.5,502.98 545,503 545.5,503.02 546,503.04 546.5,503.05 547,503.06 547.5,503.07 548,503.07 548.5,503.08 549,503.08 549.5,503.09 550,503.09 550.5,503.09 551,503.09 551.5,503.09 552,503.09 552.5,503.1 553,503.1 553.5,503.1 554,503.1 554.5,503.1 555,503.1 555.5,503.1 556,503.1 556.5,503.1 557,503.1 557.5,503.1 558,503.1 558.5,503.1 559,503.1 559.5,503.1 560,503.1 560.5,503.1 561,503.1 561.5,503.1 562,503.1 562.5,503.1 563,503.1 563.5,503.1 564,503.1 564.5,503.1 565,503.1 565.5,503.1 566,503.1 566.5,503.1 567,503.1 567.5,503.1 568,503.1 568.5,503.1 569,503.1 569.5,503.1 570,503.1 570.5,503.1 571,503.1 571.5,503.1 572,503.1 572.5,503.1 573,503.1 573.5,503.1 574,503.1 574.5,503.1 575,503.1 575.5,503.1 576,503.1 576.5,503.1 577,503.1 577.5,503.1 578,503.1 578.5,503.1 579,503.1 579.5,503.1 580,503.1 580.5,503.1 581,503.1 581.5,503.1 582,503.1 582.5,503.1 583,503.1 583.5,503.1 584,503.1 584.5,503.1 585,503.1 585.5,503.1 586,503.1 586.5,503.1 587,503.1 587.5,503.1 588,503.1 588.5,503.1 589,503.1 589.5,503.1 590,503.1 590.5,503.1 591,503.1 591.5,503.1 592,503.1 592.5,503.1 593,503.1 593.5,503.1 594,503.1 594.5,503.1 595,503.1 595.5,503.1 596,503.1 596.5,503.1 597,503.1 597.5,503.1 598,503.1 598.5,503.1 599,503.1 599.5,503.1 600,503.1 600.5,503.1 601,503.1 601.5,503.1 602,503.1 602.5,503.1 603,503.1 603.5,503.1 604,503.1 604.5,503.1 605,503.1 605.5,503.1 606,503.1 606.5,503.1 607,503.1 607.5,503.1 608,503.1 608.5,503.1 609,503.1 609.5,503.1 610,503.1 610.5,503.1 611,503.1 611.5,503.1 612,503.1 612.5,503.1" fill="none" stroke="#111" stroke-width="1.15" stroke-linejoin="round"/>
<polyline points="386.5,524.2 387,524.2 387.5,524.2 388,524.2 388.5,524.2 389,524.2 389.5,524.2 390,524.2 390.5,524.2 391,524.2 391.5,524.2 392,524.2 392.5,524.2 393,524.2 393.5,524.2 394,524.2 394.5,524.2 395,524.2 395.5,524.2 396,524.2 396.5,524.2 397,524.2 397.5,524.2 398,524.2 398.5,524.2 399,524.2 399.5,524.2 400,524.2 400.5,524.2 401,524.2 401.5,524.2 402,524.2 402.5,524.2 403,524.2 403.5,524.2 404,524.2 404.5,524.2 405,524.2 405.5,524.2 406,524.2 406.5,524.2 407,524.2 407.5,524.2 408,524.2 408.5,524.2 409,524.2 409.5,524.2 410,524.2 410.5,524.2 411,524.2 411.5,524.2 412,524.2 412.5,524.2 413,524.2 413.5,524.2 414,524.2 414.5,524.2 415,524.2 415.5,524.2 416,524.2 416.5,524.2 417,524.2 417.5,524.2 418,524.2 418.5,524.2 419,524.2 419.5,524.2 420,524.2 420.5,524.2 421,524.2 421.5,524.2 422,524.2 422.5,524.2 423,524.2 423.5,524.2 424,524.2 424.5,524.2 425,524.2 425.5,524.2 426,524.2 426.5,524.2 427,524.2 427.5,524.2 428,524.2 428.5,524.2 429,524.2 429.5,524.2 430,524.2 430.5,524.2 431,524.2 431.5,524.2 432,524.2 432.5,524.2 433,524.2 433.5,524.2 434,524.2 434.5,524.2 435,524.2 435.5,524.2 436,524.2 436.5,524.2 437,524.2 437.5,524.2 438,524.2 438.5,524.2 439,524.2 439.5,524.2 440,524.2 440.5,524.2 441,524.2 441.5,524.2 442,524.2 442.5,524.2 443,524.2 443.5,524.2 444,524.2 444.5,524.2 445,524.2 445.5,524.2 446,524.2 446.5,524.2 447,524.2 447.5,524.2 448,524.2 448.5,524.2 449,524.2 449.5,524.2 450,524.2 450.5,524.2 451,524.2 451.5,524.2 452,524.2 452.5,524.2 453,524.2 453.5,524.2 454,524.2 454.5,524.2 455,524.2 455.5,524.2 456,524.2 456.5,524.2 457,524.2 457.5,524.2 458,524.2 458.5,524.2 459,524.2 459.5,524.2 460,524.2 460.5,524.2 461,524.2 461.5,524.2 462,524.2 462.5,524.2 463,524.2 463.5,524.2 464,524.2 464.5,524.2 465,524.2 465.5,524.2 466,524.2 466.5,524.2 467,524.19 467.5,524.15 468,524.02 468.5,523.7 469,522.97 469.5,521.59 470,519.35 470.5,516.33 471,512.95 471.5,509.91 472,507.88 472.5,507.2 473,507.77 473.5,509.2 474,511.02 474.5,512.88 475,514.59 475.5,516.09 476,517.37 476.5,518.45 477,519.36 477.5,520.13 478,520.77 478.5,521.32 479,521.77 479.5,522.16 480,522.48 480.5,522.75 481,522.98 481.5,523.17 482,523.34 482.5,523.47 483,523.59 483.5,523.69 484,523.77 484.5,523.84 485,523.89 485.5,523.94 486,523.98 486.5,524.02 487,524.05 487.5,524.07 488,524.09 488.5,524.11 489,524.12 489.5,524.14 490,524.15 490.5,524.15 491,524.16 491.5,524.17 492,524.17 492.5,524.18 493,524.18 493.5,524.18 494,524.19 494.5,524.19 495,524.19 495.5,524.19 496,524.19 496.5,524.19 497,524.19 497.5,524.19 498,524.18 498.5,524.15 499,524.05 499.5,523.79 500,523.25 500.5,522.29 501,520.83 501.5,518.98 502,517.07 502.5,515.51 503,514.64 503.5,514.56 504,515.12 504.5,516.08 505,517.17 505.5,518.23 506,519.18 506.5,519.99 507,520.68 507.5,521.25 508,521.73 508.5,522.14 509,522.47 509.5,522.76 510,522.99 510.5,523.19 511,523.36 511.5,523.49 512,523.61 512.5,523.71 513,523.79 513.5,523.85 514,523.91 514.5,523.96 515,524 515.5,524.03 516,524.06 516.5,524.08 517,524.1 517.5,524.12 518,524.13 518.5,524.14 519,524.15 519.5,524.16 520,524.17 520.5,524.17 521,524.18 521.5,524.18 522,524.17 522.5,524.15 523,524.1 523.5,523.97 524,523.75 524.5,523.46 525,523.15 525.5,522.9 526,522.8 526.5,522.84 527,522.97 527.5,523.15 528,523.33 528.5,523.49 529,523.62 529.5,523.73 530,523.82 530.5,523.89 531,523.94 531.5,523.98 532,523.99 532.5,523.97 533,523.93 533.5,523.89 534,523.85 534.5,523.84 535,523.86 535.5,523.9 536,523.94 536.5,523.99 537,524.03 537.5,524.06 538,524.09 538.5,524.11 539,524.12 539.5,524.14 540,524.15 540.5,524.16 541,524.17 541.5,524.17 542,524.18 542.5,524.18 543,524.19 543.5,524.19 544,524.19 544.5,524.19 545,524.19 545.5,524.19 546,524.2 546.5,524.2 547,524.2 547.5,524.2 548,524.2 548.5,524.2 549,524.2 549.5,524.2 550,524.2 550.5,524.2 551,524.2 551.5,524.2 552,524.2 552.5,524.2 553,524.2 553.5,524.2 554,524.2 554.5,524.2 555,524.2 555.5,524.2 556,524.2 556.5,524.2 557,524.2 557.5,524.2 558,524.2 558.5,524.2 559,524.2 559.5,524.2 560,524.2 560.5,524.2 561,524.2 561.5,524.2 562,524.2 562.5,524.2 563,524.2 563.5,524.2 564,524.2 564.5,524.2 565,524.2 565.5,524.2 566,524.2 566.5,524.2 567,524.2 567.5,524.2 568,524.2 568.5,524.2 569,524.2 569.5,524.2 570,524.2 570.5,524.2 571,524.2 571.5,524.2 572,524.2 572.5,524.2 573,524.2 573.5,524.2 574,524.2 574.5,524.2 575,524.2 575.5,524.2 576,524.2 576.5,524.2 577,524.2 577.5,524.2 578,524.2 578.5,524.2 579,524.2 579.5,524.2 580,524.2 580.5,524.2 581,524.2 581.5,524.2 582,524.2 582.5,524.2 583,524.2 583.5,524.2 584,524.2 584.5,524.2 585,524.2 585.5,524.2 586,524.2 586.5,524.2 587,524.2 587.5,524.2 588,524.2 588.5,524.2 589,524.2 589.5,524.2 590,524.2 590.5,524.2 591,524.2 591.5,524.2 592,524.2 592.5,524.2 593,524.2 593.5,524.2 594,524.2 594.5,524.2 595,524.2 595.5,524.2 596,524.2 596.5,524.2 597,524.2 597.5,524.2 598,524.2 598.5,524.2 599,524.2 599.5,524.2 600,524.2 600.5,524.2 601,524.2 601.5,524.2 602,524.2 602.5,524.2 603,524.2 603.5,524.2 604,524.2 604.5,524.2 605,524.2 605.5,524.2 606,524.2 606.5,524.2 607,524.2 607.5,524.2 608,524.2 608.5,524.2 609,524.2 609.5,524.2 610,524.2 610.5,524.2 611,524.2 611.5,524.2 612,524.2 612.5,524.2" fill="none" stroke="#111" stroke-width="1.15" stroke-linejoin="round"/>
<polyline points="386.5,546 387,546 387.5,546 388,546 388.5,546 389,546 389.5,546 390,546 390.5,546 391,546 391.5,546 392,546 392.5,546 393,546 393.5,546 394,546 394.5,546 395,546 395.5,546 396,546 396.5,546 397,546 397.5,546 398,546 398.5,546 399,546 399.5,546 400,546 400.5,546 401,546 401.5,546 402,546 402.5,546 403,546 403.5,546 404,546 404.5,546 405,546 405.5,546 406,546 406.5,546 407,546 407.5,546 408,546 408.5,546 409,546 409.5,546 410,546 410.5,546 411,546 411.5,546 412,546 412.5,546 413,546 413.5,546 414,546 414.5,546 415,546 415.5,546 416,546 416.5,546 417,546 417.5,546 418,546 418.5,546 419,546 419.5,546 420,546 420.5,546 421,546 421.5,546 422,546 422.5,546 423,546 423.5,546 424,546 424.5,546 425,546 425.5,546 426,546 426.5,546 427,546 427.5,546 428,546 428.5,546 429,546 429.5,546 430,546 430.5,546 431,546 431.5,546 432,546 432.5,546 433,546 433.5,546 434,546 434.5,546 435,546 435.5,546 436,546 436.5,546 437,546 437.5,546 438,546 438.5,546 439,546 439.5,546 440,546 440.5,546 441,546 441.5,546 442,546 442.5,546 443,546 443.5,546 444,546 444.5,546 445,546 445.5,546 446,546 446.5,546 447,546 447.5,546 448,546 448.5,546 449,546 449.5,546 450,546 450.5,546 451,546 451.5,546 452,546 452.5,546 453,546 453.5,546 454,546 454.5,546 455,546 455.5,546 456,546 456.5,546 457,546 457.5,546 458,546 458.5,546 459,546 459.5,546 460,546 460.5,546 461,546 461.5,546 462,546 462.5,546 463,546 463.5,546 464,546 464.5,546 465,546 465.5,546 466,546 466.5,546 467,545.99 467.5,545.95 468,545.85 468.5,545.57 469,544.95 469.5,543.77 470,541.87 470.5,539.29 471,536.41 471.5,533.81 472,532.08 472.5,531.5 473,531.99 473.5,533.2 474,534.76 474.5,536.34 475,537.81 475.5,539.08 476,540.18 476.5,541.1 477,541.87 477.5,542.53 478,543.08 478.5,543.54 479,543.93 479.5,544.26 480,544.53 480.5,544.77 481,544.96 481.5,545.13 482,545.26 482.5,545.38 483,545.48 483.5,545.56 484,545.63 484.5,545.69 485,545.74 485.5,545.78 486,545.81 486.5,545.84 487,545.87 487.5,545.89 488,545.91 488.5,545.92 489,545.93 489.5,545.94 490,545.95 490.5,545.96 491,545.97 491.5,545.97 492,545.98 492.5,545.98 493,545.98 493.5,545.99 494,545.99 494.5,545.99 495,545.99 495.5,545.99 496,545.99 496.5,545.99 497,546 497.5,545.99 498,545.98 498.5,545.95 499,545.85 499.5,545.59 500,545.05 500.5,544.09 501,542.63 501.5,540.78 502,538.87 502.5,537.31 503,536.44 503.5,536.36 504,536.92 504.5,537.88 505,538.97 505.5,540.03 506,540.98 506.5,541.79 507,542.48 507.5,543.05 508,543.53 508.5,543.94 509,544.27 509.5,544.56 510,544.79 510.5,544.99 511,545.16 511.5,545.29 512,545.41 512.5,545.51 513,545.59 513.5,545.65 514,545.71 514.5,545.76 515,545.8 515.5,545.83 516,545.86 516.5,545.88 517,545.9 517.5,545.92 518,545.93 518.5,545.94 519,545.95 519.5,545.96 520,545.97 520.5,545.97 521,545.98 521.5,545.98 522,545.98 522.5,545.97 523,545.94 523.5,545.86 524,545.74 524.5,545.57 525,545.4 525.5,545.26 526,545.2 526.5,545.22 527,545.3 527.5,545.4 528,545.5 528.5,545.59 529,545.67 529.5,545.73 530,545.78 530.5,545.82 531,545.86 531.5,545.88 532,545.91 532.5,545.92 533,545.94 533.5,545.95 534,545.96 534.5,545.97 535,545.97 535.5,545.98 536,545.98 536.5,545.99 537,545.99 537.5,545.99 538,545.99 538.5,545.99 539,545.99 539.5,546 540,546 540.5,546 541,546 541.5,546 542,546 542.5,546 543,546 543.5,546 544,546 544.5,546 545,546 545.5,546 546,546 546.5,546 547,546 547.5,546 548,546 548.5,546 549,546 549.5,546 550,546 550.5,546 551,546 551.5,546 552,546 552.5,546 553,546 553.5,546 554,546 554.5,546 555,546 555.5,546 556,546 556.5,546 557,546 557.5,546 558,546 558.5,546 559,546 559.5,546 560,546 560.5,546 561,546 561.5,546 562,546 562.5,546 563,546 563.5,546 564,546 564.5,546 565,546 565.5,546 566,546 566.5,546 567,546 567.5,546 568,546 568.5,546 569,546 569.5,546 570,546 570.5,546 571,546 571.5,546 572,546 572.5,546 573,546 573.5,546 574,546 574.5,546 575,546 575.5,546 576,546 576.5,546 577,546 577.5,546 578,546 578.5,546 579,546 579.5,546 580,546 580.5,546 581,546 581.5,546 582,546 582.5,546 583,546 583.5,546 584,546 584.5,546 585,546 585.5,546 586,546 586.5,546 587,546 587.5,546 588,546 588.5,546 589,546 589.5,546 590,546 590.5,546 591,546 591.5,546 592,546 592.5,546 593,546 593.5,546 594,546 594.5,546 595,546 595.5,546 596,546 596.5,546 597,546 597.5,546 598,546 598.5,546 599,546 599.5,546 600,546 600.5,546 601,546 601.5,546 602,546 602.5,546 603,546 603.5,546 604,546 604.5,546 605,546 605.5,546 606,546 606.5,546 607,546 607.5,546 608,546 608.5,546 609,546 609.5,546 610,546 610.5,546 611,546 611.5,546 612,546 612.5,546" fill="none" stroke="#111" stroke-width="1.15" stroke-linejoin="round"/>
<line x1="472.5" y1="304" x2="472.5" y2="548" stroke="#333" stroke-width="0.75" stroke-linecap="butt" stroke-dasharray="2.4,1.8"/>
<line x1="503.3" y1="301" x2="503.3" y2="548" stroke="#333" stroke-width="0.75" stroke-linecap="butt" stroke-dasharray="2.4,1.8"/>
<line x1="526.1" y1="308" x2="526.1" y2="548" stroke="#333" stroke-width="0.75" stroke-linecap="butt" stroke-dasharray="2.4,1.8"/>
<line x1="534.6" y1="304" x2="534.6" y2="548" stroke="#333" stroke-width="0.75" stroke-linecap="butt" stroke-dasharray="2.4,1.8"/>
<line x1="386.5" y1="548.6" x2="612.7" y2="548.6" stroke="#111" stroke-width="1.4" stroke-linecap="butt"/>
<line x1="386.5" y1="548.6" x2="386.5" y2="555.5" stroke="#111" stroke-width="1.1" stroke-linecap="butt"/>
<line x1="424.2" y1="548.6" x2="424.2" y2="553" stroke="#111" stroke-width="1.1" stroke-linecap="butt"/>
<line x1="461.9" y1="548.6" x2="461.9" y2="555.5" stroke="#111" stroke-width="1.1" stroke-linecap="butt"/>
<line x1="499.6" y1="548.6" x2="499.6" y2="553" stroke="#111" stroke-width="1.1" stroke-linecap="butt"/>
<line x1="537.3" y1="548.6" x2="537.3" y2="555.5" stroke="#111" stroke-width="1.1" stroke-linecap="butt"/>
<line x1="575" y1="548.6" x2="575" y2="553" stroke="#111" stroke-width="1.1" stroke-linecap="butt"/>
<line x1="612.7" y1="548.6" x2="612.7" y2="555.5" stroke="#111" stroke-width="1.1" stroke-linecap="butt"/>
<text x="387" y="564.2" font-family="'Liberation Serif', serif" font-size="12" font-weight="bold" font-style="normal" text-anchor="middle" fill="#000">8</text>
<text x="462.4" y="564.2" font-family="'Liberation Serif', serif" font-size="12" font-weight="bold" font-style="normal" text-anchor="middle" fill="#000">10</text>
<text x="537.8" y="564.2" font-family="'Liberation Serif', serif" font-size="12" font-weight="bold" font-style="normal" text-anchor="middle" fill="#000">12</text>
<text x="613.2" y="564.2" font-family="'Liberation Serif', serif" font-size="12" font-weight="bold" font-style="normal" text-anchor="middle" fill="#000">14</text>
<text x="621" y="563.2" font-family="'Liberation Serif', serif" font-size="10.5" font-weight="bold" font-style="normal" text-anchor="start" fill="#000">(min)</text>
<text x="473.2" y="301.2" font-family="'Liberation Serif', serif" font-size="11" font-weight="bold" font-style="normal" text-anchor="middle" fill="#000">5</text>
<text x="501.5" y="298.9" font-family="'Liberation Serif', serif" font-size="11" font-weight="bold" font-style="normal" text-anchor="middle" fill="#000">16</text>
<text x="524.2" y="306.3" font-family="'Liberation Serif', serif" font-size="11" font-weight="bold" font-style="normal" text-anchor="middle" fill="#000">6</text>
<text x="533.2" y="303.6" font-family="'Liberation Serif', serif" font-size="11" font-weight="bold" font-style="normal" text-anchor="middle" fill="#000">3</text>
<text x="592.3" y="285.8" font-family="'Liberation Serif', serif" font-size="11.2" font-weight="normal" font-style="normal" text-anchor="middle" fill="#000">&#955;=310 nm</text>
<text x="389.4" y="317.2" font-family="'Liberation Serif', serif" font-size="10" font-weight="normal" font-style="normal" text-anchor="start" fill="#000">i)</text>
<text x="389.4" y="341" font-family="'Liberation Serif', serif" font-size="10" font-weight="normal" font-style="normal" text-anchor="start" fill="#000">ii)</text>
<text x="389.4" y="363.4" font-family="'Liberation Serif', serif" font-size="10" font-weight="normal" font-style="normal" text-anchor="start" fill="#000">iii)</text>
<text x="389.4" y="382.3" font-family="'Liberation Serif', serif" font-size="10" font-weight="normal" font-style="normal" text-anchor="start" fill="#000">iv)</text>
<text x="390.6" y="409" font-family="'Liberation Serif', serif" font-size="10" font-weight="normal" font-style="normal" text-anchor="start" fill="#000">v)</text>
<text x="389.4" y="426.7" font-family="'Liberation Serif', serif" font-size="10" font-weight="normal" font-style="normal" text-anchor="start" fill="#000">vi)</text>
<text x="389.4" y="452.2" font-family="'Liberation Serif', serif" font-size="10" font-weight="normal" font-style="normal" text-anchor="start" fill="#000">vii)</text>
<text x="389.4" y="477" font-family="'Liberation Serif', serif" font-size="10" font-weight="normal" font-style="normal" text-anchor="start" fill="#000">viii)</text>
<text x="389.4" y="500.3" font-family="'Liberation Serif', serif" font-size="10" font-weight="normal" font-style="normal" text-anchor="start" fill="#000">ix)</text>
<text x="389.4" y="521.9" font-family="'Liberation Serif', serif" font-size="10" font-weight="normal" font-style="normal" text-anchor="start" fill="#000">x)</text>
<text x="389.4" y="544.2" font-family="'Liberation Serif', serif" font-size="10" font-weight="normal" font-style="normal" text-anchor="start" fill="#000">xi)</text>
<text x="550.3" y="318.5" font-family="'Liberation Serif', serif" font-size="10" font-weight="normal" font-style="normal" text-anchor="start" fill="#000"><tspan font-weight="bold">16</tspan> in PBS (0 min)</text>
<text x="550.3" y="343.5" font-family="'Liberation Serif', serif" font-size="10" font-weight="normal" font-style="normal" text-anchor="start" fill="#000"><tspan font-weight="bold">16</tspan> in PBS (5 min)</text>
<text x="553.4" y="364" font-family="'Liberation Serif', serif" font-size="10" font-weight="normal" font-style="normal" text-anchor="start" fill="#000"><tspan font-weight="bold">16</tspan> in PBS (10 min)</text>
<text x="550.3" y="384.5" font-family="'Liberation Serif', serif" font-size="10" font-weight="normal" font-style="normal" text-anchor="start" fill="#000"><tspan font-weight="bold">16</tspan> in PBS (30 min)</text>
<text x="550.3" y="407.3" font-family="'Liberation Serif', serif" font-size="10" font-weight="normal" font-style="normal" text-anchor="start" fill="#000"><tspan font-weight="bold">16</tspan> in PBS (1 h)</text>
<text x="550.3" y="429" font-family="'Liberation Serif', serif" font-size="10" font-weight="normal" font-style="normal" text-anchor="start" fill="#000"><tspan font-weight="bold">16</tspan> in PBS (2 h)</text>
<text x="550.3" y="452.1" font-family="'Liberation Serif', serif" font-size="10" font-weight="normal" font-style="normal" text-anchor="start" fill="#000"><tspan font-weight="bold">16</tspan> in PBS (3 h)</text>
<text x="550.3" y="476.9" font-family="'Liberation Serif', serif" font-size="10" font-weight="normal" font-style="normal" text-anchor="start" fill="#000">ChaE+NADPH+<tspan font-weight="bold">16</tspan></text>
<text x="550.3" y="498.7" font-family="'Liberation Serif', serif" font-size="10" font-weight="normal" font-style="normal" text-anchor="start" fill="#000">ChaE+NADH+<tspan font-weight="bold">16</tspan></text>
<text x="550.3" y="520.4" font-family="'Liberation Serif', serif" font-size="10" font-weight="normal" font-style="normal" text-anchor="start" fill="#000">ChaE-Y157A+NADPH+<tspan font-weight="bold">16</tspan></text>
<text x="551.7" y="542.5" font-family="'Liberation Serif', serif" font-size="10" font-weight="normal" font-style="normal" text-anchor="start" fill="#000">ChaE+<tspan font-weight="bold">16</tspan></text>
<line x1="59.6" y1="552.9" x2="179.6" y2="552.9" stroke="#111" stroke-width="1.2" stroke-linecap="butt"/>
<line x1="61.95" y1="552.9" x2="61.95" y2="549.9" stroke="#111" stroke-width="0.9" stroke-linecap="butt"/>
<text x="61.95" y="562.1" font-family="'Liberation Serif', serif" font-size="9.4" font-weight="normal" font-style="normal" text-anchor="middle" fill="#000" letter-spacing="-0.3" stroke="#000" stroke-width="0.25">394</text>
<line x1="72.93" y1="552.9" x2="72.93" y2="551.1" stroke="#111" stroke-width="0.8" stroke-linecap="butt"/>
<line x1="83.9" y1="552.9" x2="83.9" y2="549.9" stroke="#111" stroke-width="0.9" stroke-linecap="butt"/>
<text x="83.9" y="562.1" font-family="'Liberation Serif', serif" font-size="9.4" font-weight="normal" font-style="normal" text-anchor="middle" fill="#000" letter-spacing="-0.3" stroke="#000" stroke-width="0.25">395</text>
<line x1="94.88" y1="552.9" x2="94.88" y2="551.1" stroke="#111" stroke-width="0.8" stroke-linecap="butt"/>
<line x1="105.85" y1="552.9" x2="105.85" y2="549.9" stroke="#111" stroke-width="0.9" stroke-linecap="butt"/>
<text x="105.85" y="562.1" font-family="'Liberation Serif', serif" font-size="9.4" font-weight="normal" font-style="normal" text-anchor="middle" fill="#000" letter-spacing="-0.3" stroke="#000" stroke-width="0.25">396</text>
<line x1="116.83" y1="552.9" x2="116.83" y2="551.1" stroke="#111" stroke-width="0.8" stroke-linecap="butt"/>
<line x1="127.8" y1="552.9" x2="127.8" y2="549.9" stroke="#111" stroke-width="0.9" stroke-linecap="butt"/>
<text x="127.8" y="562.1" font-family="'Liberation Serif', serif" font-size="9.4" font-weight="normal" font-style="normal" text-anchor="middle" fill="#000" letter-spacing="-0.3" stroke="#000" stroke-width="0.25">397</text>
<line x1="138.78" y1="552.9" x2="138.78" y2="551.1" stroke="#111" stroke-width="0.8" stroke-linecap="butt"/>
<line x1="149.75" y1="552.9" x2="149.75" y2="549.9" stroke="#111" stroke-width="0.9" stroke-linecap="butt"/>
<text x="149.75" y="562.1" font-family="'Liberation Serif', serif" font-size="9.4" font-weight="normal" font-style="normal" text-anchor="middle" fill="#000" letter-spacing="-0.3" stroke="#000" stroke-width="0.25">398</text>
<line x1="160.73" y1="552.9" x2="160.73" y2="551.1" stroke="#111" stroke-width="0.8" stroke-linecap="butt"/>
<line x1="171.7" y1="552.9" x2="171.7" y2="549.9" stroke="#111" stroke-width="0.9" stroke-linecap="butt"/>
<text x="171.7" y="562.1" font-family="'Liberation Serif', serif" font-size="9.4" font-weight="normal" font-style="normal" text-anchor="middle" fill="#000" letter-spacing="-0.3" stroke="#000" stroke-width="0.25">399</text>
<line x1="182.68" y1="552.9" x2="182.68" y2="551.1" stroke="#111" stroke-width="0.8" stroke-linecap="butt"/>
<polygon points="80.2,489.2 87.2,489.2 87.2,552.9 80.2,552.9" fill="#b9d2f2" stroke="#3f78c8" stroke-width="0.9" stroke-linejoin="round"/>
<line x1="83.8" y1="489.2" x2="83.8" y2="552.9" stroke="#111" stroke-width="1" stroke-linecap="butt"/>
<line x1="105.3" y1="537.4" x2="105.3" y2="552.9" stroke="#111" stroke-width="1" stroke-linecap="butt"/>
<line x1="127.6" y1="549" x2="127.6" y2="552.9" stroke="#111" stroke-width="1" stroke-linecap="butt"/>
<text x="87.5" y="488" font-family="'Liberation Serif', serif" font-size="9" font-weight="normal" font-style="normal" text-anchor="middle" fill="#000" letter-spacing="-0.3" stroke="#000" stroke-width="0.25">395.0799</text>
<text x="108.4" y="535.6" font-family="'Liberation Serif', serif" font-size="9" font-weight="normal" font-style="normal" text-anchor="middle" fill="#000" letter-spacing="-0.3" stroke="#000" stroke-width="0.25">396.0840</text>
<text x="130.2" y="546.6" font-family="'Liberation Serif', serif" font-size="9" font-weight="normal" font-style="normal" text-anchor="middle" fill="#000" letter-spacing="-0.3" stroke="#000" stroke-width="0.25">397.0885</text>
<text x="119.6" y="576.6" font-family="'Liberation Serif', serif" font-size="11" font-weight="bold" font-style="italic" text-anchor="middle" fill="#000">m/z</text>
<text x="83.5" y="470.5" font-family="'Liberation Serif', serif" font-size="11" font-weight="normal" font-style="normal" text-anchor="middle" fill="#3f78c8">O<tspan font-size="7" dy="2">2</tspan></text>
<text x="138.1" y="481.6" font-family="'Liberation Serif', serif" font-size="10" font-weight="bold" font-style="normal" text-anchor="middle" fill="#000">5</text>
<text x="141.2" y="489.2" font-family="'Liberation Sans', sans-serif" font-size="7.6" font-weight="normal" font-style="normal" text-anchor="middle" fill="#222"><tspan font-style="italic">m/z</tspan> 396 [M-H]<tspan font-size="5" dy="-3">&#8211;</tspan></text>
<line x1="188.5" y1="552.9" x2="313.2" y2="552.9" stroke="#111" stroke-width="1.2" stroke-linecap="butt"/>
<line x1="195.3" y1="552.9" x2="195.3" y2="549.9" stroke="#111" stroke-width="0.9" stroke-linecap="butt"/>
<text x="195.3" y="562.1" font-family="'Liberation Serif', serif" font-size="9.4" font-weight="normal" font-style="normal" text-anchor="middle" fill="#000" letter-spacing="-0.3" stroke="#000" stroke-width="0.25">394</text>
<line x1="206.05" y1="552.9" x2="206.05" y2="551.1" stroke="#111" stroke-width="0.8" stroke-linecap="butt"/>
<line x1="216.8" y1="552.9" x2="216.8" y2="549.9" stroke="#111" stroke-width="0.9" stroke-linecap="butt"/>
<text x="216.8" y="562.1" font-family="'Liberation Serif', serif" font-size="9.4" font-weight="normal" font-style="normal" text-anchor="middle" fill="#000" letter-spacing="-0.3" stroke="#000" stroke-width="0.25">395</text>
<line x1="227.55" y1="552.9" x2="227.55" y2="551.1" stroke="#111" stroke-width="0.8" stroke-linecap="butt"/>
<line x1="238.3" y1="552.9" x2="238.3" y2="549.9" stroke="#111" stroke-width="0.9" stroke-linecap="butt"/>
<text x="238.3" y="562.1" font-family="'Liberation Serif', serif" font-size="9.4" font-weight="normal" font-style="normal" text-anchor="middle" fill="#000" letter-spacing="-0.3" stroke="#000" stroke-width="0.25">396</text>
<line x1="249.05" y1="552.9" x2="249.05" y2="551.1" stroke="#111" stroke-width="0.8" stroke-linecap="butt"/>
<line x1="259.8" y1="552.9" x2="259.8" y2="549.9" stroke="#111" stroke-width="0.9" stroke-linecap="butt"/>
<text x="259.8" y="562.1" font-family="'Liberation Serif', serif" font-size="9.4" font-weight="normal" font-style="normal" text-anchor="middle" fill="#000" letter-spacing="-0.3" stroke="#000" stroke-width="0.25">397</text>
<line x1="270.55" y1="552.9" x2="270.55" y2="551.1" stroke="#111" stroke-width="0.8" stroke-linecap="butt"/>
<line x1="281.3" y1="552.9" x2="281.3" y2="549.9" stroke="#111" stroke-width="0.9" stroke-linecap="butt"/>
<text x="281.3" y="562.1" font-family="'Liberation Serif', serif" font-size="9.4" font-weight="normal" font-style="normal" text-anchor="middle" fill="#000" letter-spacing="-0.3" stroke="#000" stroke-width="0.25">398</text>
<line x1="292.05" y1="552.9" x2="292.05" y2="551.1" stroke="#111" stroke-width="0.8" stroke-linecap="butt"/>
<line x1="302.8" y1="552.9" x2="302.8" y2="549.9" stroke="#111" stroke-width="0.9" stroke-linecap="butt"/>
<text x="302.8" y="562.1" font-family="'Liberation Serif', serif" font-size="9.4" font-weight="normal" font-style="normal" text-anchor="middle" fill="#000" letter-spacing="-0.3" stroke="#000" stroke-width="0.25">399</text>
<line x1="313.55" y1="552.9" x2="313.55" y2="551.1" stroke="#111" stroke-width="0.8" stroke-linecap="butt"/>
<line x1="216.8" y1="488.6" x2="216.8" y2="552.9" stroke="#111" stroke-width="1" stroke-linecap="butt"/>
<polygon points="256.9,501.4 262.9,501.4 262.9,552.9 256.9,552.9" fill="#f2b4b4" stroke="#d84a4a" stroke-width="0.9" stroke-linejoin="round"/>
<line x1="259.9" y1="501.4" x2="259.9" y2="552.9" stroke="#111" stroke-width="1" stroke-linecap="butt"/>
<line x1="237.6" y1="536.1" x2="237.6" y2="552.9" stroke="#111" stroke-width="1" stroke-linecap="butt"/>
<line x1="281.7" y1="540.4" x2="281.7" y2="552.9" stroke="#111" stroke-width="1" stroke-linecap="butt"/>
<line x1="303.1" y1="549" x2="303.1" y2="552.9" stroke="#111" stroke-width="1" stroke-linecap="butt"/>
<line x1="222" y1="550.9" x2="222" y2="552.9" stroke="#111" stroke-width="1" stroke-linecap="butt"/>
<text x="219.9" y="488.6" font-family="'Liberation Serif', serif" font-size="9" font-weight="normal" font-style="normal" text-anchor="middle" fill="#000" letter-spacing="-0.3" stroke="#000" stroke-width="0.25">395.0785</text>
<text x="262.8" y="500" font-family="'Liberation Serif', serif" font-size="9" font-weight="normal" font-style="normal" text-anchor="middle" fill="#000" letter-spacing="-0.3" stroke="#000" stroke-width="0.25">397.0822</text>
<text x="241.4" y="535.6" font-family="'Liberation Serif', serif" font-size="9" font-weight="normal" font-style="normal" text-anchor="middle" fill="#000" letter-spacing="-0.3" stroke="#000" stroke-width="0.25">396.0812</text>
<text x="284.8" y="539.2" font-family="'Liberation Serif', serif" font-size="9" font-weight="normal" font-style="normal" text-anchor="middle" fill="#000" letter-spacing="-0.3" stroke="#000" stroke-width="0.25">398.0867</text>
<text x="306.2" y="547.4" font-family="'Liberation Serif', serif" font-size="9" font-weight="normal" font-style="normal" text-anchor="middle" fill="#000" letter-spacing="-0.3" stroke="#000" stroke-width="0.25">399.0949</text>
<text x="244" y="576.6" font-family="'Liberation Serif', serif" font-size="11" font-weight="bold" font-style="italic" text-anchor="middle" fill="#000">m/z</text>
<text x="222.5" y="470.5" font-family="'Liberation Serif', serif" font-size="11" font-weight="normal" font-style="normal" text-anchor="middle" fill="#ee2222"><tspan font-size="6" dy="-4">18</tspan><tspan dy="4">O</tspan><tspan font-size="7" dy="2">2</tspan></text>
<text x="272.6" y="478.3" font-family="'Liberation Serif', serif" font-size="10" font-weight="bold" font-style="normal" text-anchor="middle" fill="#000">5</text>
<text x="282.2" y="488.6" font-family="'Liberation Sans', sans-serif" font-size="7.6" font-weight="normal" font-style="normal" text-anchor="middle" fill="#222"><tspan font-style="italic">m/z</tspan> 397 [M-H]<tspan font-size="5" dy="-3">&#8211;</tspan></text>
<path d="M469.5,31 C471.1,32.44 471,25.6 471,36 C471,46.4 470.78,51.33 469.5,70 C468.22,88.67 465.53,88.67 466.2,106 C466.87,123.33 468.99,121.27 472,135 C475.01,148.73 477.5,149.77 477.5,157.5 C477.5,165.23 477.2,162.37 472,164 C466.8,165.63 465.47,164.13 458,163.6 C450.53,163.07 452.53,163.89 444,162 C435.47,160.11 434,159.43 426,156.5 C418,153.57 420.4,154.6 414,151 C407.6,147.4 407.87,148.07 402,143 C396.13,137.93 396.4,138.67 392,132 C387.6,125.33 387.85,125.47 385.5,118 C383.15,110.53 383.2,111.2 383.2,104 C383.2,96.8 383.42,97.4 385.5,91 C387.58,84.6 386.6,86.67 391,80 C395.4,73.33 395.87,72.53 402,66 C408.13,59.47 407.07,60.97 414,55.5 C420.93,50.03 420,50.7 428,45.5 C436,40.3 436.53,39.55 444,36 C451.47,32.45 450.4,33.64 456,32.2 C461.6,30.76 461.4,30.92 465,30.6 C468.6,30.28 467.9,29.56 469.5,31Z" fill="url(#gP)" stroke="#a08cd2" stroke-width="0.8"/>
<path d="M497,7 C500.33,5 499.87,3.43 506,4.5 C512.13,5.57 510.93,6.33 520,11 C529.07,15.67 529.33,16.13 540,22 C550.67,27.87 551.6,28.2 560,33 C568.4,37.8 568.17,36.4 571.5,40 C574.83,43.6 573.97,43.3 572.5,46.5 C571.03,49.7 572,48.4 566,52 C560,55.6 559.07,55.47 550,60 C540.93,64.53 541.6,63.8 532,69 C522.4,74.2 520.13,77.1 514,79.5 C507.87,81.9 511.93,83.2 509,78 C506.07,72.8 506.2,70.13 503,60 C499.8,49.87 499.59,50.13 497,40 C494.41,29.87 494.23,29.47 493.3,22 C492.37,14.53 492.51,16 493.5,12 C494.49,8 493.67,9 497,7Z" fill="url(#gY)" stroke="#bcd884" stroke-width="0.8"/>
<path d="M506.5,104.9 C506.5,102.5 508.4,103.17 512,100 C515.6,96.83 513.6,98.33 520,93 C526.4,87.67 527.47,86.67 536,80 C544.53,73.33 544,73.12 552,68 C560,62.88 559.07,62.93 566,60.8 C572.93,58.67 572.4,58.35 578,60 C583.6,61.65 583.72,60.33 587,67 C590.28,73.67 589.34,73.53 590.3,85 C591.26,96.47 590.81,96.67 590.6,110 C590.39,123.33 590.99,123.8 589.5,135 C588.01,146.2 589.13,145.2 585,152 C580.87,158.8 580.13,159.17 574,160.5 C567.87,161.83 568.93,161.67 562,157 C555.07,152.33 556,151.27 548,143 C540,134.73 540,134 532,126 C524,118 523.33,117.53 518,113 C512.67,108.47 515.07,111.16 512,109 C508.93,106.84 506.5,107.3 506.5,104.9Z" fill="url(#gB)" stroke="#86a8e0" stroke-width="0.8"/>
<path d="M520.3,150.1 C524.22,148.77 525.35,150.56 533,152 C540.65,153.44 541.53,153.1 549,155.5 C556.47,157.9 555.53,157.53 561,161 C566.47,164.47 566.57,163.97 569.5,168.5 C572.43,173.03 572.13,171.47 572,178 C571.87,184.53 571.67,185.4 569,193 C566.33,200.6 567.07,200.63 562,206.5 C556.93,212.37 556.72,212.12 550,215 C543.28,217.88 543.73,217.7 536.8,217.3 C529.87,216.9 529.28,216.78 524,213.5 C518.72,210.22 519.19,211.27 517,205 C514.81,198.73 515.85,198.8 515.8,190 C515.75,181.2 516.13,180.8 516.8,172 C517.47,163.2 517.37,162.84 518.3,157 C519.23,151.16 516.38,151.43 520.3,150.1Z" fill="url(#gR)" stroke="#ea9a96" stroke-width="0.8"/>
<path d="M500.6,146.7 C502.12,146.7 501.66,147.45 503.5,155 C505.34,162.55 505.37,163 507.5,175 C509.63,187 510.03,187.47 511.5,200 C512.97,212.53 513,213.07 513,222 C513,230.93 513.63,228.89 511.5,233.5 C509.37,238.11 508.87,237.75 505,239.3 C501.13,240.85 500.87,240.85 497,239.3 C493.13,237.75 492.58,238.65 490.5,233.5 C488.42,228.35 489.07,229.47 489.2,220 C489.33,210.53 489.59,210.27 491,198 C492.41,185.73 492.69,185.47 494.5,174 C496.31,162.53 496.17,162.28 497.8,155 C499.43,147.72 499.08,146.7 500.6,146.7Z" fill="url(#gC)" stroke="#86cfee" stroke-width="0.8"/>
<path d="M471.6,96.5 C470.69,91.3 470.81,86.07 470.6,75 C470.39,63.93 470.29,63.8 470.8,55 C471.31,46.2 470.66,46.85 472.5,42 C474.34,37.15 474.9,37.47 477.7,36.8 C480.5,36.13 480.97,36.78 483,39.5 C485.03,42.22 485.03,41.53 485.3,47 C485.57,52.47 485.68,51.2 484,60 C482.32,68.8 481.67,70.8 479,80 C476.33,89.2 475.97,90.1 474,94.5 C472.03,98.9 472.51,101.7 471.6,96.5Z" fill="url(#gM)" stroke="#f0b278" stroke-width="0.8"/>
<line x1="466.3" y1="104.7" x2="498.8" y2="104.7" stroke="#111" stroke-width="1.1" stroke-linecap="round"/>
<line x1="471.6" y1="104.7" x2="477.7" y2="53.7" stroke="#111" stroke-width="1.1" stroke-linecap="round"/>
<line x1="466.3" y1="104.7" x2="464.3" y2="107.2" stroke="#111" stroke-width="1.1" stroke-linecap="round"/>
<line x1="464.3" y1="107.2" x2="464" y2="60.1" stroke="#111" stroke-width="1.1" stroke-linecap="round"/>
<line x1="464.3" y1="107.2" x2="450.3" y2="55.6" stroke="#111" stroke-width="1.1" stroke-linecap="round"/>
<line x1="464.3" y1="107.2" x2="436.7" y2="57" stroke="#111" stroke-width="1.1" stroke-linecap="round"/>
<line x1="464.3" y1="107.2" x2="438.2" y2="80.5" stroke="#111" stroke-width="1.1" stroke-linecap="round"/>
<line x1="464.3" y1="107.2" x2="423.9" y2="83.5" stroke="#111" stroke-width="1.1" stroke-linecap="round"/>
<line x1="464.3" y1="107.2" x2="418.6" y2="94.1" stroke="#111" stroke-width="1.1" stroke-linecap="round"/>
<line x1="464.3" y1="107.2" x2="416.3" y2="103.2" stroke="#111" stroke-width="1.1" stroke-linecap="round"/>
<line x1="464.3" y1="107.2" x2="459" y2="112.2" stroke="#111" stroke-width="1.1" stroke-linecap="round"/>
<line x1="459" y1="112.2" x2="427.1" y2="115" stroke="#111" stroke-width="1.1" stroke-linecap="round"/>
<line x1="459" y1="112.2" x2="427.1" y2="125.7" stroke="#111" stroke-width="1.1" stroke-linecap="round"/>
<line x1="459" y1="112.2" x2="430" y2="137.1" stroke="#111" stroke-width="1.1" stroke-linecap="round"/>
<line x1="459" y1="112.2" x2="445" y2="135.7" stroke="#111" stroke-width="1.1" stroke-linecap="round"/>
<line x1="459" y1="112.2" x2="452.1" y2="143.6" stroke="#111" stroke-width="1.1" stroke-linecap="round"/>
<line x1="459" y1="112.2" x2="460.7" y2="148.6" stroke="#111" stroke-width="1.1" stroke-linecap="round"/>
<line x1="464.3" y1="107.2" x2="468.6" y2="145.7" stroke="#111" stroke-width="1.1" stroke-linecap="round"/>
<line x1="498.8" y1="104.7" x2="510.6" y2="79.5" stroke="#111" stroke-width="1.1" stroke-linecap="round"/>
<line x1="510.6" y1="79.5" x2="504.2" y2="27.2" stroke="#111" stroke-width="1.1" stroke-linecap="round"/>
<line x1="510.6" y1="79.5" x2="516.3" y2="28.2" stroke="#111" stroke-width="1.1" stroke-linecap="round"/>
<line x1="510.6" y1="79.5" x2="531.4" y2="44.2" stroke="#111" stroke-width="1.1" stroke-linecap="round"/>
<line x1="531.4" y1="44.2" x2="532.5" y2="40.5" stroke="#111" stroke-width="1.1" stroke-linecap="round"/>
<line x1="531.4" y1="44.2" x2="536" y2="43" stroke="#111" stroke-width="1.1" stroke-linecap="round"/>
<line x1="510.6" y1="79.5" x2="553.6" y2="53.5" stroke="#111" stroke-width="1.1" stroke-linecap="round"/>
<line x1="498.8" y1="104.7" x2="515.3" y2="104.9" stroke="#111" stroke-width="1.1" stroke-linecap="round"/>
<line x1="515.3" y1="104.9" x2="562.5" y2="71.6" stroke="#111" stroke-width="1.1" stroke-linecap="round"/>
<line x1="515.3" y1="104.9" x2="522" y2="106.3" stroke="#111" stroke-width="1.1" stroke-linecap="round"/>
<line x1="522" y1="106.3" x2="567.1" y2="87.3" stroke="#111" stroke-width="1.1" stroke-linecap="round"/>
<line x1="522" y1="106.3" x2="545" y2="108.6" stroke="#111" stroke-width="1.1" stroke-linecap="round"/>
<line x1="545" y1="108.6" x2="567.1" y2="104" stroke="#111" stroke-width="1.1" stroke-linecap="round"/>
<line x1="545" y1="108.6" x2="566.2" y2="115.1" stroke="#111" stroke-width="1.1" stroke-linecap="round"/>
<line x1="522" y1="106.3" x2="537.5" y2="116.9" stroke="#111" stroke-width="1.1" stroke-linecap="round"/>
<line x1="537.5" y1="116.9" x2="560.6" y2="129.9" stroke="#111" stroke-width="1.1" stroke-linecap="round"/>
<line x1="537.5" y1="116.9" x2="556" y2="143.7" stroke="#111" stroke-width="1.1" stroke-linecap="round"/>
<line x1="498.8" y1="104.7" x2="500.4" y2="214" stroke="#111" stroke-width="1.1" stroke-linecap="round"/>
<line x1="498.8" y1="104.7" x2="521.1" y2="151.8" stroke="#111" stroke-width="1.1" stroke-linecap="round"/>
<line x1="521.1" y1="151.8" x2="555.6" y2="172.8" stroke="#111" stroke-width="1.1" stroke-linecap="round"/>
<line x1="521.1" y1="151.8" x2="523.7" y2="163.5" stroke="#111" stroke-width="1.1" stroke-linecap="round"/>
<line x1="523.7" y1="163.5" x2="540.5" y2="182.9" stroke="#111" stroke-width="1.1" stroke-linecap="round"/>
<line x1="523.7" y1="163.5" x2="523.7" y2="168.5" stroke="#111" stroke-width="1.1" stroke-linecap="round"/>
<line x1="523.7" y1="168.5" x2="529.5" y2="190.4" stroke="#111" stroke-width="1.1" stroke-linecap="round"/>
<line x1="523.7" y1="168.5" x2="520.3" y2="190.4" stroke="#111" stroke-width="1.1" stroke-linecap="round"/>
<text x="462.1" y="47.78" font-family="'Liberation Serif', serif" font-size="6.9" font-weight="bold" font-style="italic" text-anchor="middle" fill="#111" transform="rotate(90 462.1 45.5)" stroke="#111" stroke-width="0.22">HedKR</text>
<text x="445.8" y="50.98" font-family="'Liberation Serif', serif" font-size="6.9" font-weight="bold" font-style="italic" text-anchor="middle" fill="#111" transform="rotate(62 445.8 48.7)" stroke="#111" stroke-width="0.22">GilF</text>
<text x="431.4" y="59.78" font-family="'Liberation Serif', serif" font-size="6.9" font-weight="bold" font-style="italic" text-anchor="middle" fill="#111" transform="rotate(60 431.4 57.5)" stroke="#111" stroke-width="0.22">EncD</text>
<text x="430.7" y="76.48" font-family="'Liberation Serif', serif" font-size="6.9" font-weight="bold" font-style="italic" text-anchor="middle" fill="#111" transform="rotate(45 430.7 74.2)" stroke="#111" stroke-width="0.22">OxyJ</text>
<text x="415.6" y="82.08" font-family="'Liberation Serif', serif" font-size="6.9" font-weight="bold" font-style="italic" text-anchor="middle" fill="#111" transform="rotate(30 415.6 79.8)" stroke="#111" stroke-width="0.22">DauB</text>
<text x="405.5" y="91.88" font-family="'Liberation Serif', serif" font-size="6.9" font-weight="bold" font-style="italic" text-anchor="middle" fill="#111" transform="rotate(20 405.5 89.6)" stroke="#111" stroke-width="0.22">Gra-orf5</text>
<text x="407.5" y="104.88" font-family="'Liberation Serif', serif" font-size="6.9" font-weight="bold" font-style="italic" text-anchor="middle" fill="#111" transform="rotate(5 407.5 102.6)" stroke="#111" stroke-width="0.22">ActKR</text>
<text x="418.6" y="118.68" font-family="'Liberation Serif', serif" font-size="6.9" font-weight="bold" font-style="italic" text-anchor="middle" fill="#7050c0" transform="rotate(-5 418.6 116.4)" stroke="#7050c0" stroke-width="0.22">ChaD</text>
<text x="417.9" y="132.78" font-family="'Liberation Serif', serif" font-size="6.9" font-weight="bold" font-style="italic" text-anchor="middle" fill="#111" transform="rotate(-33 417.9 130.5)" stroke="#111" stroke-width="0.22">MtqF</text>
<text x="422.9" y="145.48" font-family="'Liberation Serif', serif" font-size="6.9" font-weight="bold" font-style="italic" text-anchor="middle" fill="#111" transform="rotate(-47 422.9 143.2)" stroke="#111" stroke-width="0.22">SnoaD</text>
<text x="439.3" y="144.78" font-family="'Liberation Serif', serif" font-size="6.9" font-weight="bold" font-style="italic" text-anchor="middle" fill="#111" transform="rotate(-62 439.3 142.5)" stroke="#111" stroke-width="0.22">AknA</text>
<text x="448.6" y="152.78" font-family="'Liberation Serif', serif" font-size="6.9" font-weight="bold" font-style="italic" text-anchor="middle" fill="#111" transform="rotate(-72 448.6 150.5)" stroke="#111" stroke-width="0.22">BexD</text>
<text x="460.7" y="157.78" font-family="'Liberation Serif', serif" font-size="6.9" font-weight="bold" font-style="italic" text-anchor="middle" fill="#111" transform="rotate(-88 460.7 155.5)" stroke="#111" stroke-width="0.22">JadE</text>
<text x="472.9" y="154.38" font-family="'Liberation Serif', serif" font-size="6.9" font-weight="bold" font-style="italic" text-anchor="middle" fill="#111" transform="rotate(-105 472.9 152.1)" stroke="#111" stroke-width="0.22">UrdD</text>
<text x="477.9" y="47.78" font-family="'Liberation Serif', serif" font-size="6.9" font-weight="bold" font-style="italic" text-anchor="middle" fill="#ee1111" transform="rotate(80 477.9 45.5)" stroke="#ee1111" stroke-width="0.22">ChaE</text>
<text x="503.2" y="19.68" font-family="'Liberation Serif', serif" font-size="6.9" font-weight="bold" font-style="italic" text-anchor="middle" fill="#111" transform="rotate(-80 503.2 17.4)" stroke="#111" stroke-width="0.22">AknU</text>
<text x="518.3" y="21.68" font-family="'Liberation Serif', serif" font-size="6.9" font-weight="bold" font-style="italic" text-anchor="middle" fill="#111" transform="rotate(-78 518.3 19.4)" stroke="#111" stroke-width="0.22">SnoaF</text>
<text x="533.5" y="36.58" font-family="'Liberation Serif', serif" font-size="6.9" font-weight="bold" font-style="italic" text-anchor="middle" fill="#111" transform="rotate(-75 533.5 34.3)" stroke="#111" stroke-width="0.22">DnrH</text>
<text x="542.8" y="39.58" font-family="'Liberation Serif', serif" font-size="6.9" font-weight="bold" font-style="italic" text-anchor="middle" fill="#111" transform="rotate(-25 542.8 37.3)" stroke="#111" stroke-width="0.22">DsoE</text>
<text x="561" y="51.68" font-family="'Liberation Serif', serif" font-size="6.9" font-weight="bold" font-style="italic" text-anchor="middle" fill="#22b060" transform="rotate(-25 561 49.4)" stroke="#22b060" stroke-width="0.22">ChaL</text>
<text x="569" y="70.18" font-family="'Liberation Serif', serif" font-size="6.9" font-weight="bold" font-style="italic" text-anchor="middle" fill="#111" transform="rotate(-30 569 67.9)" stroke="#111" stroke-width="0.22">GrhT</text>
<text x="573.6" y="86.88" font-family="'Liberation Serif', serif" font-size="6.9" font-weight="bold" font-style="italic" text-anchor="middle" fill="#111" transform="rotate(-20 573.6 84.6)" stroke="#111" stroke-width="0.22">BenL</text>
<text x="578.2" y="102.58" font-family="'Liberation Serif', serif" font-size="6.9" font-weight="bold" font-style="italic" text-anchor="middle" fill="#111" transform="rotate(-12 578.2 100.3)" stroke="#111" stroke-width="0.22">GrhO10</text>
<text x="574.5" y="121.08" font-family="'Liberation Serif', serif" font-size="6.9" font-weight="bold" font-style="italic" text-anchor="middle" fill="#111" transform="rotate(18 574.5 118.8)" stroke="#111" stroke-width="0.22">RubG</text>
<text x="567.1" y="136.78" font-family="'Liberation Serif', serif" font-size="6.9" font-weight="bold" font-style="italic" text-anchor="middle" fill="#111" transform="rotate(30 567.1 134.5)" stroke="#111" stroke-width="0.22">LipZI</text>
<text x="562.5" y="152.48" font-family="'Liberation Serif', serif" font-size="6.9" font-weight="bold" font-style="italic" text-anchor="middle" fill="#111" transform="rotate(52 562.5 150.2)" stroke="#111" stroke-width="0.22">ARX21</text>
<text x="562.3" y="178.38" font-family="'Liberation Serif', serif" font-size="6.9" font-weight="bold" font-style="italic" text-anchor="middle" fill="#111" transform="rotate(20 562.3 176.1)" stroke="#111" stroke-width="0.22">LanV</text>
<text x="546.3" y="191.88" font-family="'Liberation Serif', serif" font-size="6.9" font-weight="bold" font-style="italic" text-anchor="middle" fill="#111" transform="rotate(40 546.3 189.6)" stroke="#111" stroke-width="0.22">UrdM</text>
<text x="533.7" y="201.98" font-family="'Liberation Serif', serif" font-size="6.9" font-weight="bold" font-style="italic" text-anchor="middle" fill="#111" transform="rotate(65 533.7 199.7)" stroke="#111" stroke-width="0.22">PdEOR</text>
<text x="517.8" y="201.08" font-family="'Liberation Serif', serif" font-size="6.9" font-weight="bold" font-style="italic" text-anchor="middle" fill="#111" transform="rotate(75 517.8 198.8)" stroke="#111" stroke-width="0.22">TcaM</text>
<text x="499.3" y="224.68" font-family="'Liberation Serif', serif" font-size="6.9" font-weight="bold" font-style="italic" text-anchor="middle" fill="#111" transform="rotate(90 499.3 222.4)" stroke="#111" stroke-width="0.22">TyKR</text>
<line x1="415" y1="225.7" x2="438.6" y2="225.7" stroke="#111" stroke-width="1.2" stroke-linecap="butt"/>
<text x="429.3" y="233.2" font-family="'Liberation Serif', serif" font-size="6.5" font-weight="bold" font-style="normal" text-anchor="middle" fill="#000"><tspan fill="#e07010">0.1</tspan><tspan fill="#2080d0">0</tspan></text>
<line x1="76.1" y1="46.06" x2="84.45" y2="50.88" stroke="#1a1a1a" stroke-width="0.95" stroke-linecap="round"/>
<line x1="84.45" y1="50.88" x2="84.45" y2="60.52" stroke="#1a1a1a" stroke-width="0.95" stroke-linecap="round"/>
<line x1="84.45" y1="60.52" x2="76.1" y2="65.34" stroke="#1a1a1a" stroke-width="0.95" stroke-linecap="round"/>
<line x1="76.1" y1="65.34" x2="67.75" y2="60.52" stroke="#1a1a1a" stroke-width="0.95" stroke-linecap="round"/>
<line x1="67.75" y1="60.52" x2="67.75" y2="50.88" stroke="#1a1a1a" stroke-width="0.95" stroke-linecap="round"/>
<line x1="67.75" y1="50.88" x2="76.1" y2="46.06" stroke="#1a1a1a" stroke-width="0.95" stroke-linecap="round"/>
<line x1="76.6" y1="48.66" x2="81.95" y2="51.74" stroke="#1a1a1a" stroke-width="0.95" stroke-linecap="round"/>
<line x1="81.95" y1="59.66" x2="76.6" y2="62.74" stroke="#1a1a1a" stroke-width="0.95" stroke-linecap="round"/>
<line x1="69.75" y1="58.78" x2="69.75" y2="52.62" stroke="#1a1a1a" stroke-width="0.95" stroke-linecap="round"/>
<line x1="92.8" y1="46.06" x2="101.15" y2="50.88" stroke="#1a1a1a" stroke-width="0.95" stroke-linecap="round"/>
<line x1="101.15" y1="50.88" x2="101.15" y2="60.52" stroke="#1a1a1a" stroke-width="0.95" stroke-linecap="round"/>
<line x1="101.15" y1="60.52" x2="92.8" y2="65.34" stroke="#1a1a1a" stroke-width="0.95" stroke-linecap="round"/>
<line x1="92.8" y1="65.34" x2="84.45" y2="60.52" stroke="#1a1a1a" stroke-width="0.95" stroke-linecap="round"/>
<line x1="84.45" y1="50.88" x2="92.8" y2="46.06" stroke="#1a1a1a" stroke-width="0.95" stroke-linecap="round"/>
<line x1="109.49" y1="46.06" x2="117.84" y2="50.88" stroke="#1a1a1a" stroke-width="0.95" stroke-linecap="round"/>
<line x1="117.84" y1="50.88" x2="117.84" y2="60.52" stroke="#1a1a1a" stroke-width="0.95" stroke-linecap="round"/>
<line x1="117.84" y1="60.52" x2="109.49" y2="65.34" stroke="#1a1a1a" stroke-width="0.95" stroke-linecap="round"/>
<line x1="109.49" y1="65.34" x2="101.15" y2="60.52" stroke="#1a1a1a" stroke-width="0.95" stroke-linecap="round"/>
<line x1="101.15" y1="50.88" x2="109.49" y2="46.06" stroke="#1a1a1a" stroke-width="0.95" stroke-linecap="round"/>
<line x1="110" y1="48.66" x2="115.34" y2="51.74" stroke="#1a1a1a" stroke-width="0.95" stroke-linecap="round"/>
<line x1="115.34" y1="59.66" x2="110" y2="62.74" stroke="#1a1a1a" stroke-width="0.95" stroke-linecap="round"/>
<line x1="103.15" y1="58.78" x2="103.15" y2="52.62" stroke="#1a1a1a" stroke-width="0.95" stroke-linecap="round"/>
<line x1="126.19" y1="46.06" x2="134.54" y2="50.88" stroke="#1a1a1a" stroke-width="0.95" stroke-linecap="round"/>
<line x1="134.54" y1="50.88" x2="134.54" y2="60.52" stroke="#1a1a1a" stroke-width="0.95" stroke-linecap="round"/>
<line x1="134.54" y1="60.52" x2="126.19" y2="65.34" stroke="#1a1a1a" stroke-width="0.95" stroke-linecap="round"/>
<line x1="126.19" y1="65.34" x2="117.84" y2="60.52" stroke="#1a1a1a" stroke-width="0.95" stroke-linecap="round"/>
<line x1="117.84" y1="50.88" x2="126.19" y2="46.06" stroke="#1a1a1a" stroke-width="0.95" stroke-linecap="round"/>
<line x1="126.69" y1="48.66" x2="132.04" y2="51.74" stroke="#1a1a1a" stroke-width="0.95" stroke-linecap="round"/>
<line x1="132.04" y1="59.66" x2="126.69" y2="62.74" stroke="#1a1a1a" stroke-width="0.95" stroke-linecap="round"/>
<line x1="93.85" y1="46.06" x2="93.85" y2="39.46" stroke="#1a1a1a" stroke-width="0.95" stroke-linecap="round"/>
<line x1="91.75" y1="46.06" x2="91.75" y2="39.46" stroke="#1a1a1a" stroke-width="0.95" stroke-linecap="round"/>
<text x="92.8" y="39.33" font-family="'Liberation Sans', sans-serif" font-size="6.3" font-weight="normal" font-style="normal" text-anchor="middle" fill="#222">O</text>
<line x1="91.75" y1="65.34" x2="91.75" y2="71.94" stroke="#1a1a1a" stroke-width="0.95" stroke-linecap="round"/>
<line x1="93.85" y1="65.34" x2="93.85" y2="71.94" stroke="#1a1a1a" stroke-width="0.95" stroke-linecap="round"/>
<text x="92.8" y="76.81" font-family="'Liberation Sans', sans-serif" font-size="6.3" font-weight="normal" font-style="normal" text-anchor="middle" fill="#222">O</text>
<line x1="76.1" y1="65.34" x2="76.1" y2="71.74" stroke="#1a1a1a" stroke-width="0.95" stroke-linecap="round"/>
<text x="77.9" y="77.11" font-family="'Liberation Sans', sans-serif" font-size="6.3" font-weight="normal" font-style="normal" text-anchor="middle" fill="#222">OH</text>
<line x1="109.49" y1="65.34" x2="109.49" y2="71.74" stroke="#1a1a1a" stroke-width="0.95" stroke-linecap="round"/>
<text x="111.29" y="77.11" font-family="'Liberation Sans', sans-serif" font-size="6.3" font-weight="normal" font-style="normal" text-anchor="middle" fill="#222">OH</text>
<line x1="126.19" y1="46.06" x2="126.19" y2="36.26" stroke="#1a1a1a" stroke-width="0.95" stroke-linecap="round"/>
<line x1="126.72" y1="37.17" x2="133.34" y2="33.35" stroke="#1a1a1a" stroke-width="0.95" stroke-linecap="round"/>
<line x1="125.67" y1="35.35" x2="132.29" y2="31.53" stroke="#1a1a1a" stroke-width="0.95" stroke-linecap="round"/>
<text x="134.01" y="34.01" font-family="'Liberation Sans', sans-serif" font-size="6.3" font-weight="normal" font-style="normal" text-anchor="middle" fill="#222">O</text>
<line x1="126.19" y1="36.26" x2="120.96" y2="33.24" stroke="#1a1a1a" stroke-width="0.95" stroke-linecap="round"/>
<text x="119.1" y="33.91" font-family="'Liberation Sans', sans-serif" font-size="6.3" font-weight="normal" font-style="normal" text-anchor="middle" fill="#222">O</text>
<line x1="117.67" y1="33.34" x2="111.34" y2="37" stroke="#1a1a1a" stroke-width="0.95" stroke-linecap="round"/>
<line x1="134.54" y1="50.88" x2="142.85" y2="46.08" stroke="#1a1a1a" stroke-width="0.95" stroke-linecap="round"/>
<text x="94.7" y="93.6" font-family="'Liberation Serif', serif" font-size="11" font-weight="bold" font-style="normal" text-anchor="middle" fill="#000">4</text>
<line x1="144.1" y1="60.4" x2="168.6" y2="60.4" stroke="#111" stroke-width="1" stroke-linecap="butt"/>
<polygon points="176.1,60.4 167.1,63 169.1,60.4 167.1,57.8" fill="#111" stroke="none" stroke-width="1" stroke-linejoin="round"/>
<text x="158.8" y="58.5" font-family="'Liberation Sans', sans-serif" font-size="7.6" font-weight="normal" font-style="normal" text-anchor="middle" fill="#222">ChaZ</text>
<line x1="199" y1="55" x2="194.5" y2="62.79" stroke="#1a1a1a" stroke-width="0.95" stroke-linecap="round"/>
<line x1="194.5" y1="62.79" x2="185.5" y2="62.79" stroke="#1a1a1a" stroke-width="0.95" stroke-linecap="round"/>
<line x1="185.5" y1="62.79" x2="181" y2="55" stroke="#1a1a1a" stroke-width="0.95" stroke-linecap="round"/>
<line x1="181" y1="55" x2="185.5" y2="47.21" stroke="#1a1a1a" stroke-width="0.95" stroke-linecap="round"/>
<line x1="185.5" y1="47.21" x2="194.5" y2="47.21" stroke="#1a1a1a" stroke-width="0.95" stroke-linecap="round"/>
<line x1="194.5" y1="47.21" x2="199" y2="55" stroke="#1a1a1a" stroke-width="0.95" stroke-linecap="round"/>
<line x1="187.12" y1="49.21" x2="192.88" y2="49.21" stroke="#1a1a1a" stroke-width="0.95" stroke-linecap="round"/>
<line x1="186.42" y1="60.39" x2="183.54" y2="55.4" stroke="#1a1a1a" stroke-width="0.95" stroke-linecap="round"/>
<line x1="196.46" y1="55.4" x2="193.58" y2="60.39" stroke="#1a1a1a" stroke-width="0.95" stroke-linecap="round"/>
<line x1="223.3" y1="53.4" x2="231.27" y2="58" stroke="#1a1a1a" stroke-width="0.95" stroke-linecap="round"/>
<line x1="231.27" y1="58" x2="231.27" y2="67.2" stroke="#1a1a1a" stroke-width="0.95" stroke-linecap="round"/>
<line x1="231.27" y1="67.2" x2="223.3" y2="71.8" stroke="#1a1a1a" stroke-width="0.95" stroke-linecap="round"/>
<line x1="223.3" y1="71.8" x2="215.33" y2="67.2" stroke="#1a1a1a" stroke-width="0.95" stroke-linecap="round"/>
<line x1="215.33" y1="67.2" x2="215.33" y2="58" stroke="#1a1a1a" stroke-width="0.95" stroke-linecap="round"/>
<line x1="215.33" y1="58" x2="223.3" y2="53.4" stroke="#1a1a1a" stroke-width="0.95" stroke-linecap="round"/>
<line x1="223.73" y1="55.96" x2="228.83" y2="58.9" stroke="#1a1a1a" stroke-width="0.95" stroke-linecap="round"/>
<line x1="228.83" y1="66.3" x2="223.73" y2="69.24" stroke="#1a1a1a" stroke-width="0.95" stroke-linecap="round"/>
<line x1="217.33" y1="65.54" x2="217.33" y2="59.66" stroke="#1a1a1a" stroke-width="0.95" stroke-linecap="round"/>
<line x1="239.23" y1="53.4" x2="247.2" y2="58" stroke="#1a1a1a" stroke-width="0.95" stroke-linecap="round"/>
<line x1="247.2" y1="58" x2="247.2" y2="67.2" stroke="#1a1a1a" stroke-width="0.95" stroke-linecap="round"/>
<line x1="247.2" y1="67.2" x2="239.23" y2="71.8" stroke="#1a1a1a" stroke-width="0.95" stroke-linecap="round"/>
<line x1="239.23" y1="71.8" x2="231.27" y2="67.2" stroke="#1a1a1a" stroke-width="0.95" stroke-linecap="round"/>
<line x1="231.27" y1="58" x2="239.23" y2="53.4" stroke="#1a1a1a" stroke-width="0.95" stroke-linecap="round"/>
<line x1="239.67" y1="55.96" x2="244.77" y2="58.9" stroke="#1a1a1a" stroke-width="0.95" stroke-linecap="round"/>
<line x1="244.77" y1="66.3" x2="239.67" y2="69.24" stroke="#1a1a1a" stroke-width="0.95" stroke-linecap="round"/>
<line x1="199" y1="55" x2="208.6" y2="52" stroke="#1a1a1a" stroke-width="0.95" stroke-linecap="round"/>
<line x1="208.6" y1="52" x2="215.33" y2="58" stroke="#1a1a1a" stroke-width="0.95" stroke-linecap="round"/>
<line x1="209.65" y1="52.07" x2="210.05" y2="46.47" stroke="#1a1a1a" stroke-width="0.95" stroke-linecap="round"/>
<line x1="207.55" y1="51.93" x2="207.95" y2="46.33" stroke="#1a1a1a" stroke-width="0.95" stroke-linecap="round"/>
<text x="209.4" y="46.47" font-family="'Liberation Sans', sans-serif" font-size="6.3" font-weight="normal" font-style="normal" text-anchor="middle" fill="#222">O</text>
<line x1="194.5" y1="62.79" x2="200" y2="71" stroke="#1a1a1a" stroke-width="0.95" stroke-linecap="round"/>
<line x1="200" y1="71" x2="205.74" y2="72.16" stroke="#1a1a1a" stroke-width="0.95" stroke-linecap="round"/>
<text x="207.9" y="74.87" font-family="'Liberation Sans', sans-serif" font-size="6.3" font-weight="normal" font-style="normal" text-anchor="middle" fill="#222">O</text>
<line x1="209.68" y1="71.31" x2="215.33" y2="67.2" stroke="#1a1a1a" stroke-width="0.95" stroke-linecap="round"/>
<line x1="199.21" y1="70.31" x2="195.01" y2="75.11" stroke="#1a1a1a" stroke-width="0.95" stroke-linecap="round"/>
<line x1="200.79" y1="71.69" x2="196.59" y2="76.49" stroke="#1a1a1a" stroke-width="0.95" stroke-linecap="round"/>
<text x="193.4" y="80.67" font-family="'Liberation Sans', sans-serif" font-size="6.3" font-weight="normal" font-style="normal" text-anchor="middle" fill="#222">O</text>
<line x1="185.5" y1="62.79" x2="182.5" y2="67.39" stroke="#1a1a1a" stroke-width="0.95" stroke-linecap="round"/>
<text x="179.6" y="73.87" font-family="'Liberation Sans', sans-serif" font-size="6.3" font-weight="normal" font-style="normal" text-anchor="middle" fill="#222">HO</text>
<line x1="223.3" y1="71.8" x2="223.3" y2="77.6" stroke="#1a1a1a" stroke-width="0.95" stroke-linecap="round"/>
<text x="224.9" y="82.87" font-family="'Liberation Sans', sans-serif" font-size="6.3" font-weight="normal" font-style="normal" text-anchor="middle" fill="#222">OH</text>
<line x1="239.23" y1="53.4" x2="239.23" y2="44.4" stroke="#1a1a1a" stroke-width="0.95" stroke-linecap="round"/>
<line x1="239.76" y1="45.31" x2="245.84" y2="41.8" stroke="#1a1a1a" stroke-width="0.95" stroke-linecap="round"/>
<line x1="238.71" y1="43.49" x2="244.79" y2="39.98" stroke="#1a1a1a" stroke-width="0.95" stroke-linecap="round"/>
<text x="246.51" y="42.46" font-family="'Liberation Sans', sans-serif" font-size="6.3" font-weight="normal" font-style="normal" text-anchor="middle" fill="#222">O</text>
<line x1="239.23" y1="44.4" x2="234.56" y2="41.7" stroke="#1a1a1a" stroke-width="0.95" stroke-linecap="round"/>
<text x="232.7" y="42.37" font-family="'Liberation Sans', sans-serif" font-size="6.3" font-weight="normal" font-style="normal" text-anchor="middle" fill="#222">O</text>
<line x1="231.27" y1="41.8" x2="225.6" y2="45.08" stroke="#1a1a1a" stroke-width="0.95" stroke-linecap="round"/>
<line x1="247.2" y1="58" x2="255.17" y2="53.4" stroke="#1a1a1a" stroke-width="0.95" stroke-linecap="round"/>
<text x="206.2" y="91" font-family="'Liberation Serif', serif" font-size="11" font-weight="bold" font-style="normal" text-anchor="middle" fill="#000">6</text>
<line x1="257.1" y1="61.4" x2="283.6" y2="61.4" stroke="#111" stroke-width="1" stroke-linecap="butt"/>
<polygon points="291.1,61.4 282.1,64 284.1,61.4 282.1,58.8" fill="#111" stroke="none" stroke-width="1" stroke-linejoin="round"/>
<text x="277" y="58.2" font-family="'Liberation Sans', sans-serif" font-size="7.6" font-weight="normal" font-style="normal" text-anchor="middle" fill="#222">ChaE</text>
<line x1="315.4" y1="65.4" x2="310.7" y2="73.54" stroke="#1a1a1a" stroke-width="0.95" stroke-linecap="round"/>
<line x1="310.7" y1="73.54" x2="301.3" y2="73.54" stroke="#1a1a1a" stroke-width="0.95" stroke-linecap="round"/>
<line x1="301.3" y1="73.54" x2="296.6" y2="65.4" stroke="#1a1a1a" stroke-width="0.95" stroke-linecap="round"/>
<line x1="296.6" y1="65.4" x2="301.3" y2="57.26" stroke="#1a1a1a" stroke-width="0.95" stroke-linecap="round"/>
<line x1="301.3" y1="57.26" x2="310.7" y2="57.26" stroke="#1a1a1a" stroke-width="0.95" stroke-linecap="round"/>
<line x1="310.7" y1="57.26" x2="315.4" y2="65.4" stroke="#1a1a1a" stroke-width="0.95" stroke-linecap="round"/>
<line x1="302.99" y1="59.26" x2="309.01" y2="59.26" stroke="#1a1a1a" stroke-width="0.95" stroke-linecap="round"/>
<line x1="302.19" y1="71.08" x2="299.18" y2="65.87" stroke="#1a1a1a" stroke-width="0.95" stroke-linecap="round"/>
<line x1="312.82" y1="65.87" x2="309.81" y2="71.08" stroke="#1a1a1a" stroke-width="0.95" stroke-linecap="round"/>
<line x1="329.5" y1="57.26" x2="324.8" y2="65.4" stroke="#1a1a1a" stroke-width="0.95" stroke-linecap="round"/>
<line x1="324.8" y1="65.4" x2="315.4" y2="65.4" stroke="#1a1a1a" stroke-width="0.95" stroke-linecap="round"/>
<line x1="310.7" y1="57.26" x2="315.4" y2="49.12" stroke="#1a1a1a" stroke-width="0.95" stroke-linecap="round"/>
<line x1="315.4" y1="49.12" x2="324.8" y2="49.12" stroke="#1a1a1a" stroke-width="0.95" stroke-linecap="round"/>
<line x1="324.8" y1="49.12" x2="329.5" y2="57.26" stroke="#1a1a1a" stroke-width="0.95" stroke-linecap="round"/>
<line x1="317.09" y1="51.12" x2="323.11" y2="51.12" stroke="#1a1a1a" stroke-width="0.95" stroke-linecap="round"/>
<line x1="326.92" y1="57.72" x2="323.91" y2="62.93" stroke="#1a1a1a" stroke-width="0.95" stroke-linecap="round"/>
<line x1="343.6" y1="49.12" x2="338.9" y2="57.26" stroke="#1a1a1a" stroke-width="0.95" stroke-linecap="round"/>
<line x1="338.9" y1="57.26" x2="329.5" y2="57.26" stroke="#1a1a1a" stroke-width="0.95" stroke-linecap="round"/>
<line x1="324.8" y1="49.12" x2="329.5" y2="40.98" stroke="#1a1a1a" stroke-width="0.95" stroke-linecap="round"/>
<line x1="329.5" y1="40.98" x2="338.9" y2="40.98" stroke="#1a1a1a" stroke-width="0.95" stroke-linecap="round"/>
<line x1="338.9" y1="40.98" x2="343.6" y2="49.12" stroke="#1a1a1a" stroke-width="0.95" stroke-linecap="round"/>
<line x1="357.7" y1="57.26" x2="353" y2="65.4" stroke="#1a1a1a" stroke-width="0.95" stroke-linecap="round"/>
<line x1="353" y1="65.4" x2="343.6" y2="65.4" stroke="#1a1a1a" stroke-width="0.95" stroke-linecap="round"/>
<line x1="343.6" y1="65.4" x2="338.9" y2="57.26" stroke="#1a1a1a" stroke-width="0.95" stroke-linecap="round"/>
<line x1="338.9" y1="57.26" x2="343.6" y2="49.12" stroke="#1a1a1a" stroke-width="0.95" stroke-linecap="round"/>
<line x1="343.6" y1="49.12" x2="353" y2="49.12" stroke="#1a1a1a" stroke-width="0.95" stroke-linecap="round"/>
<line x1="353" y1="49.12" x2="357.7" y2="57.26" stroke="#1a1a1a" stroke-width="0.95" stroke-linecap="round"/>
<line x1="345.29" y1="51.12" x2="351.31" y2="51.12" stroke="#1a1a1a" stroke-width="0.95" stroke-linecap="round"/>
<line x1="355.12" y1="57.72" x2="352.11" y2="62.93" stroke="#1a1a1a" stroke-width="0.95" stroke-linecap="round"/>
<line x1="344.49" y1="62.93" x2="341.48" y2="57.72" stroke="#1a1a1a" stroke-width="0.95" stroke-linecap="round"/>
<line x1="343.6" y1="65.4" x2="338.9" y2="73.54" stroke="#1a1a1a" stroke-width="0.95" stroke-linecap="round"/>
<line x1="338.9" y1="73.54" x2="331.7" y2="73.54" stroke="#1a1a1a" stroke-width="0.95" stroke-linecap="round"/>
<line x1="328.4" y1="71.64" x2="324.8" y2="65.4" stroke="#1a1a1a" stroke-width="0.95" stroke-linecap="round"/>
<text x="329.5" y="75.81" font-family="'Liberation Sans', sans-serif" font-size="6.3" font-weight="normal" font-style="normal" text-anchor="middle" fill="#222">O</text>
<line x1="337.99" y1="74.07" x2="341.49" y2="80.13" stroke="#1a1a1a" stroke-width="0.95" stroke-linecap="round"/>
<line x1="339.81" y1="73.02" x2="343.31" y2="79.08" stroke="#1a1a1a" stroke-width="0.95" stroke-linecap="round"/>
<text x="343.55" y="83.86" font-family="'Liberation Sans', sans-serif" font-size="6.3" font-weight="normal" font-style="normal" text-anchor="middle" fill="#222">O</text>
<line x1="330.41" y1="40.45" x2="327.11" y2="34.74" stroke="#1a1a1a" stroke-width="0.95" stroke-linecap="round"/>
<line x1="328.59" y1="41.5" x2="325.29" y2="35.79" stroke="#1a1a1a" stroke-width="0.95" stroke-linecap="round"/>
<text x="325.05" y="35.54" font-family="'Liberation Sans', sans-serif" font-size="6.3" font-weight="normal" font-style="normal" text-anchor="middle" fill="#222">O</text>
<line x1="339.81" y1="41.5" x2="343.11" y2="35.79" stroke="#1a1a1a" stroke-width="0.95" stroke-linecap="round"/>
<line x1="337.99" y1="40.45" x2="341.29" y2="34.74" stroke="#1a1a1a" stroke-width="0.95" stroke-linecap="round"/>
<text x="343.35" y="35.54" font-family="'Liberation Sans', sans-serif" font-size="6.3" font-weight="normal" font-style="normal" text-anchor="middle" fill="#222">O</text>
<line x1="315.4" y1="49.12" x2="312.6" y2="44.27" stroke="#1a1a1a" stroke-width="0.95" stroke-linecap="round"/>
<text x="308.9" y="44.59" font-family="'Liberation Sans', sans-serif" font-size="6.3" font-weight="normal" font-style="normal" text-anchor="middle" fill="#222">HO</text>
<line x1="310.7" y1="73.54" x2="313.45" y2="78.3" stroke="#1a1a1a" stroke-width="0.95" stroke-linecap="round"/>
<text x="316.3" y="84.01" font-family="'Liberation Sans', sans-serif" font-size="6.3" font-weight="normal" font-style="normal" text-anchor="middle" fill="#222">OH</text>
<line x1="353" y1="65.4" x2="357.4" y2="73.02" stroke="#1a1a1a" stroke-width="0.95" stroke-linecap="round"/>
<text x="328.5" y="95.8" font-family="'Liberation Serif', serif" font-size="11" font-weight="bold" font-style="normal" text-anchor="middle" fill="#000">3</text>
<line x1="178.6" y1="93.6" x2="166.36" y2="105.76" stroke="#111" stroke-width="0.9" stroke-linecap="butt"/>
<polygon points="161.4,110.7 165.31,102.58 166.01,106.12 169.54,106.83" fill="#111" stroke="none" stroke-width="1" stroke-linejoin="round"/>
<text x="144.3" y="102.2" font-family="'Liberation Sans', sans-serif" font-size="6.3" font-weight="normal" font-style="normal" text-anchor="middle" fill="#333">spon. hydrolysis</text>
<line x1="249.7" y1="111.3" x2="242.53" y2="99.04" stroke="#111" stroke-width="0.9" stroke-linecap="butt"/>
<polygon points="239,93 245.88,98.82 242.28,98.61 240.7,101.85" fill="#111" stroke="none" stroke-width="1" stroke-linejoin="round"/>
<text x="268.9" y="103.8" font-family="'Liberation Sans', sans-serif" font-size="6.3" font-weight="normal" font-style="normal" text-anchor="middle" fill="#333">spon. hydrolysis</text>
<line x1="182.3" y1="145.6" x2="222.7" y2="145.6" stroke="#111" stroke-width="0.9" stroke-linecap="butt"/>
<polygon points="230.7,145.6 221.2,148.2 223.2,145.6 221.2,143" fill="#111" stroke="none" stroke-width="1" stroke-linejoin="round"/>
<text x="205.2" y="142.6" font-family="'Liberation Sans', sans-serif" font-size="6.6" font-weight="normal" font-style="normal" text-anchor="middle" fill="#333">Ac<tspan font-size="4.6" dy="1.5">2</tspan><tspan dy="-1.5">O, DMAP</tspan></text>
<text x="204" y="152.4" font-family="'Liberation Sans', sans-serif" font-size="6.6" font-weight="normal" font-style="normal" text-anchor="middle" fill="#333">DCM</text>
<line x1="105.7" y1="136.4" x2="114.27" y2="141.35" stroke="#1a1a1a" stroke-width="0.95" stroke-linecap="round"/>
<line x1="114.27" y1="141.35" x2="114.27" y2="151.25" stroke="#1a1a1a" stroke-width="0.95" stroke-linecap="round"/>
<line x1="114.27" y1="151.25" x2="105.7" y2="156.2" stroke="#1a1a1a" stroke-width="0.95" stroke-linecap="round"/>
<line x1="105.7" y1="156.2" x2="97.13" y2="151.25" stroke="#1a1a1a" stroke-width="0.95" stroke-linecap="round"/>
<line x1="97.13" y1="151.25" x2="97.13" y2="141.35" stroke="#1a1a1a" stroke-width="0.95" stroke-linecap="round"/>
<line x1="97.13" y1="141.35" x2="105.7" y2="136.4" stroke="#1a1a1a" stroke-width="0.95" stroke-linecap="round"/>
<line x1="106.24" y1="139.02" x2="111.73" y2="142.19" stroke="#1a1a1a" stroke-width="0.95" stroke-linecap="round"/>
<line x1="111.73" y1="150.41" x2="106.24" y2="153.58" stroke="#1a1a1a" stroke-width="0.95" stroke-linecap="round"/>
<line x1="99.13" y1="149.47" x2="99.13" y2="143.13" stroke="#1a1a1a" stroke-width="0.95" stroke-linecap="round"/>
<line x1="139.99" y1="136.4" x2="148.57" y2="141.35" stroke="#1a1a1a" stroke-width="0.95" stroke-linecap="round"/>
<line x1="148.57" y1="141.35" x2="148.57" y2="151.25" stroke="#1a1a1a" stroke-width="0.95" stroke-linecap="round"/>
<line x1="148.57" y1="151.25" x2="139.99" y2="156.2" stroke="#1a1a1a" stroke-width="0.95" stroke-linecap="round"/>
<line x1="139.99" y1="156.2" x2="131.42" y2="151.25" stroke="#1a1a1a" stroke-width="0.95" stroke-linecap="round"/>
<line x1="131.42" y1="151.25" x2="131.42" y2="141.35" stroke="#1a1a1a" stroke-width="0.95" stroke-linecap="round"/>
<line x1="131.42" y1="141.35" x2="139.99" y2="136.4" stroke="#1a1a1a" stroke-width="0.95" stroke-linecap="round"/>
<line x1="140.54" y1="139.02" x2="146.03" y2="142.19" stroke="#1a1a1a" stroke-width="0.95" stroke-linecap="round"/>
<line x1="146.03" y1="150.41" x2="140.54" y2="153.58" stroke="#1a1a1a" stroke-width="0.95" stroke-linecap="round"/>
<line x1="133.42" y1="149.47" x2="133.42" y2="143.13" stroke="#1a1a1a" stroke-width="0.95" stroke-linecap="round"/>
<line x1="157.14" y1="136.4" x2="165.72" y2="141.35" stroke="#1a1a1a" stroke-width="0.95" stroke-linecap="round"/>
<line x1="165.72" y1="141.35" x2="165.72" y2="151.25" stroke="#1a1a1a" stroke-width="0.95" stroke-linecap="round"/>
<line x1="165.72" y1="151.25" x2="157.14" y2="156.2" stroke="#1a1a1a" stroke-width="0.95" stroke-linecap="round"/>
<line x1="157.14" y1="156.2" x2="148.57" y2="151.25" stroke="#1a1a1a" stroke-width="0.95" stroke-linecap="round"/>
<line x1="148.57" y1="141.35" x2="157.14" y2="136.4" stroke="#1a1a1a" stroke-width="0.95" stroke-linecap="round"/>
<line x1="157.69" y1="139.02" x2="163.17" y2="142.19" stroke="#1a1a1a" stroke-width="0.95" stroke-linecap="round"/>
<line x1="163.17" y1="150.41" x2="157.69" y2="153.58" stroke="#1a1a1a" stroke-width="0.95" stroke-linecap="round"/>
<line x1="114.27" y1="141.35" x2="122.85" y2="136.4" stroke="#1a1a1a" stroke-width="0.95" stroke-linecap="round"/>
<line x1="122.85" y1="136.4" x2="131.42" y2="141.35" stroke="#1a1a1a" stroke-width="0.95" stroke-linecap="round"/>
<line x1="123.9" y1="136.4" x2="123.9" y2="129.6" stroke="#1a1a1a" stroke-width="0.95" stroke-linecap="round"/>
<line x1="121.8" y1="136.4" x2="121.8" y2="129.6" stroke="#1a1a1a" stroke-width="0.95" stroke-linecap="round"/>
<text x="122.85" y="129.47" font-family="'Liberation Sans', sans-serif" font-size="6.3" font-weight="normal" font-style="normal" text-anchor="middle" fill="#222">O</text>
<line x1="157.14" y1="136.4" x2="157.14" y2="127" stroke="#1a1a1a" stroke-width="0.95" stroke-linecap="round"/>
<line x1="157.67" y1="127.91" x2="164.02" y2="124.24" stroke="#1a1a1a" stroke-width="0.95" stroke-linecap="round"/>
<line x1="156.62" y1="126.09" x2="162.97" y2="122.42" stroke="#1a1a1a" stroke-width="0.95" stroke-linecap="round"/>
<text x="164.69" y="124.9" font-family="'Liberation Sans', sans-serif" font-size="6.3" font-weight="normal" font-style="normal" text-anchor="middle" fill="#222">O</text>
<line x1="157.14" y1="127" x2="152.19" y2="124.14" stroke="#1a1a1a" stroke-width="0.95" stroke-linecap="round"/>
<text x="150.33" y="124.81" font-family="'Liberation Sans', sans-serif" font-size="6.3" font-weight="normal" font-style="normal" text-anchor="middle" fill="#222">O</text>
<line x1="148.9" y1="124.24" x2="142.9" y2="127.7" stroke="#1a1a1a" stroke-width="0.95" stroke-linecap="round"/>
<line x1="165.72" y1="141.35" x2="173.86" y2="136.65" stroke="#1a1a1a" stroke-width="0.95" stroke-linecap="round"/>
<line x1="114.27" y1="151.25" x2="121.38" y2="155.35" stroke="#1a1a1a" stroke-width="0.95" stroke-linecap="round"/>
<line x1="120.84" y1="154.51" x2="115.84" y2="157.71" stroke="#1a1a1a" stroke-width="0.95" stroke-linecap="round"/>
<line x1="121.91" y1="156.19" x2="116.91" y2="159.39" stroke="#1a1a1a" stroke-width="0.95" stroke-linecap="round"/>
<text x="114.18" y="162.22" font-family="'Liberation Sans', sans-serif" font-size="6.3" font-weight="normal" font-style="normal" text-anchor="middle" fill="#222">O</text>
<line x1="121.38" y1="155.35" x2="122.18" y2="161.35" stroke="#1a1a1a" stroke-width="0.95" stroke-linecap="round"/>
<text x="123.78" y="167.22" font-family="'Liberation Sans', sans-serif" font-size="6.3" font-weight="normal" font-style="normal" text-anchor="middle" fill="#222">OH</text>
<line x1="105.7" y1="156.2" x2="105.7" y2="162.2" stroke="#1a1a1a" stroke-width="0.95" stroke-linecap="round"/>
<text x="107.3" y="167.87" font-family="'Liberation Sans', sans-serif" font-size="6.3" font-weight="normal" font-style="normal" text-anchor="middle" fill="#222">OH</text>
<polygon points="131.12,151.25 131.72,151.25 132.72,156.85 130.12,156.85" fill="#1a1a1a" stroke="none" stroke-width="1" stroke-linejoin="round"/>
<text x="133.42" y="162.32" font-family="'Liberation Sans', sans-serif" font-size="6.3" font-weight="normal" font-style="normal" text-anchor="middle" fill="#222">OH</text>
<line x1="139.99" y1="156.2" x2="139.99" y2="162.2" stroke="#1a1a1a" stroke-width="0.95" stroke-linecap="round"/>
<text x="141.59" y="167.87" font-family="'Liberation Sans', sans-serif" font-size="6.3" font-weight="normal" font-style="normal" text-anchor="middle" fill="#222">OH</text>
<text x="126.3" y="180" font-family="'Liberation Serif', serif" font-size="11" font-weight="bold" font-style="normal" text-anchor="middle" fill="#000">5</text>
<line x1="271.3" y1="135.2" x2="266.8" y2="142.99" stroke="#1a1a1a" stroke-width="0.95" stroke-linecap="round"/>
<line x1="266.8" y1="142.99" x2="257.8" y2="142.99" stroke="#1a1a1a" stroke-width="0.95" stroke-linecap="round"/>
<line x1="257.8" y1="142.99" x2="253.3" y2="135.2" stroke="#1a1a1a" stroke-width="0.95" stroke-linecap="round"/>
<line x1="253.3" y1="135.2" x2="257.8" y2="127.41" stroke="#1a1a1a" stroke-width="0.95" stroke-linecap="round"/>
<line x1="257.8" y1="127.41" x2="266.8" y2="127.41" stroke="#1a1a1a" stroke-width="0.95" stroke-linecap="round"/>
<line x1="266.8" y1="127.41" x2="271.3" y2="135.2" stroke="#1a1a1a" stroke-width="0.95" stroke-linecap="round"/>
<line x1="259.42" y1="129.41" x2="265.18" y2="129.41" stroke="#1a1a1a" stroke-width="0.95" stroke-linecap="round"/>
<line x1="258.72" y1="140.59" x2="255.84" y2="135.6" stroke="#1a1a1a" stroke-width="0.95" stroke-linecap="round"/>
<line x1="268.76" y1="135.6" x2="265.88" y2="140.59" stroke="#1a1a1a" stroke-width="0.95" stroke-linecap="round"/>
<line x1="295.6" y1="133.6" x2="303.57" y2="138.2" stroke="#1a1a1a" stroke-width="0.95" stroke-linecap="round"/>
<line x1="303.57" y1="138.2" x2="303.57" y2="147.4" stroke="#1a1a1a" stroke-width="0.95" stroke-linecap="round"/>
<line x1="303.57" y1="147.4" x2="295.6" y2="152" stroke="#1a1a1a" stroke-width="0.95" stroke-linecap="round"/>
<line x1="295.6" y1="152" x2="287.63" y2="147.4" stroke="#1a1a1a" stroke-width="0.95" stroke-linecap="round"/>
<line x1="287.63" y1="147.4" x2="287.63" y2="138.2" stroke="#1a1a1a" stroke-width="0.95" stroke-linecap="round"/>
<line x1="287.63" y1="138.2" x2="295.6" y2="133.6" stroke="#1a1a1a" stroke-width="0.95" stroke-linecap="round"/>
<line x1="296.03" y1="136.16" x2="301.13" y2="139.1" stroke="#1a1a1a" stroke-width="0.95" stroke-linecap="round"/>
<line x1="301.13" y1="146.5" x2="296.03" y2="149.44" stroke="#1a1a1a" stroke-width="0.95" stroke-linecap="round"/>
<line x1="289.63" y1="145.74" x2="289.63" y2="139.86" stroke="#1a1a1a" stroke-width="0.95" stroke-linecap="round"/>
<line x1="311.53" y1="133.6" x2="319.5" y2="138.2" stroke="#1a1a1a" stroke-width="0.95" stroke-linecap="round"/>
<line x1="319.5" y1="138.2" x2="319.5" y2="147.4" stroke="#1a1a1a" stroke-width="0.95" stroke-linecap="round"/>
<line x1="319.5" y1="147.4" x2="311.53" y2="152" stroke="#1a1a1a" stroke-width="0.95" stroke-linecap="round"/>
<line x1="311.53" y1="152" x2="303.57" y2="147.4" stroke="#1a1a1a" stroke-width="0.95" stroke-linecap="round"/>
<line x1="303.57" y1="138.2" x2="311.53" y2="133.6" stroke="#1a1a1a" stroke-width="0.95" stroke-linecap="round"/>
<line x1="311.97" y1="136.16" x2="317.07" y2="139.1" stroke="#1a1a1a" stroke-width="0.95" stroke-linecap="round"/>
<line x1="317.07" y1="146.5" x2="311.97" y2="149.44" stroke="#1a1a1a" stroke-width="0.95" stroke-linecap="round"/>
<line x1="271.3" y1="135.2" x2="280.9" y2="132.2" stroke="#1a1a1a" stroke-width="0.95" stroke-linecap="round"/>
<line x1="280.9" y1="132.2" x2="287.63" y2="138.2" stroke="#1a1a1a" stroke-width="0.95" stroke-linecap="round"/>
<line x1="281.95" y1="132.27" x2="282.35" y2="126.67" stroke="#1a1a1a" stroke-width="0.95" stroke-linecap="round"/>
<line x1="279.85" y1="132.13" x2="280.25" y2="126.53" stroke="#1a1a1a" stroke-width="0.95" stroke-linecap="round"/>
<text x="281.7" y="126.67" font-family="'Liberation Sans', sans-serif" font-size="6.3" font-weight="normal" font-style="normal" text-anchor="middle" fill="#222">O</text>
<line x1="266.8" y1="142.99" x2="272.3" y2="151.2" stroke="#1a1a1a" stroke-width="0.95" stroke-linecap="round"/>
<line x1="272.3" y1="151.2" x2="278.04" y2="152.36" stroke="#1a1a1a" stroke-width="0.95" stroke-linecap="round"/>
<text x="280.2" y="155.07" font-family="'Liberation Sans', sans-serif" font-size="6.3" font-weight="normal" font-style="normal" text-anchor="middle" fill="#222">O</text>
<line x1="281.98" y1="151.51" x2="287.63" y2="147.4" stroke="#1a1a1a" stroke-width="0.95" stroke-linecap="round"/>
<line x1="271.51" y1="150.51" x2="267.31" y2="155.31" stroke="#1a1a1a" stroke-width="0.95" stroke-linecap="round"/>
<line x1="273.09" y1="151.89" x2="268.89" y2="156.69" stroke="#1a1a1a" stroke-width="0.95" stroke-linecap="round"/>
<text x="265.7" y="160.87" font-family="'Liberation Sans', sans-serif" font-size="6.3" font-weight="normal" font-style="normal" text-anchor="middle" fill="#222">O</text>
<line x1="257.8" y1="142.99" x2="255.16" y2="147.84" stroke="#1a1a1a" stroke-width="0.95" stroke-linecap="round"/>
<text x="254.2" y="152.26" font-family="'Liberation Sans', sans-serif" font-size="6.3" font-weight="normal" font-style="normal" text-anchor="middle" fill="#222">O</text>
<line x1="252.08" y1="150.2" x2="247.2" y2="151.59" stroke="#1a1a1a" stroke-width="0.95" stroke-linecap="round"/>
<line x1="247.2" y1="151.59" x2="242.9" y2="143.39" stroke="#1a1a1a" stroke-width="0.95" stroke-linecap="round"/>
<line x1="246.32" y1="151.02" x2="242.82" y2="156.42" stroke="#1a1a1a" stroke-width="0.95" stroke-linecap="round"/>
<line x1="248.08" y1="152.17" x2="244.58" y2="157.57" stroke="#1a1a1a" stroke-width="0.95" stroke-linecap="round"/>
<text x="242.6" y="161.26" font-family="'Liberation Sans', sans-serif" font-size="6.3" font-weight="normal" font-style="normal" text-anchor="middle" fill="#222">O</text>
<line x1="295.6" y1="152" x2="295.6" y2="156.8" stroke="#1a1a1a" stroke-width="0.95" stroke-linecap="round"/>
<text x="295.6" y="161.67" font-family="'Liberation Sans', sans-serif" font-size="6.3" font-weight="normal" font-style="normal" text-anchor="middle" fill="#222">O</text>
<line x1="297.57" y1="159.97" x2="302.5" y2="162.4" stroke="#1a1a1a" stroke-width="0.95" stroke-linecap="round"/>
<line x1="302.99" y1="163.33" x2="308.99" y2="160.13" stroke="#1a1a1a" stroke-width="0.95" stroke-linecap="round"/>
<line x1="302.01" y1="161.47" x2="308.01" y2="158.27" stroke="#1a1a1a" stroke-width="0.95" stroke-linecap="round"/>
<text x="310.5" y="160.47" font-family="'Liberation Sans', sans-serif" font-size="6.3" font-weight="normal" font-style="normal" text-anchor="middle" fill="#222">O</text>
<line x1="302.5" y1="162.4" x2="303.6" y2="172.7" stroke="#1a1a1a" stroke-width="0.95" stroke-linecap="round"/>
<line x1="311.53" y1="133.6" x2="311.53" y2="124.6" stroke="#1a1a1a" stroke-width="0.95" stroke-linecap="round"/>
<line x1="312.06" y1="125.51" x2="318.14" y2="122" stroke="#1a1a1a" stroke-width="0.95" stroke-linecap="round"/>
<line x1="311.01" y1="123.69" x2="317.09" y2="120.18" stroke="#1a1a1a" stroke-width="0.95" stroke-linecap="round"/>
<text x="318.81" y="122.66" font-family="'Liberation Sans', sans-serif" font-size="6.3" font-weight="normal" font-style="normal" text-anchor="middle" fill="#222">O</text>
<line x1="311.53" y1="124.6" x2="306.86" y2="121.9" stroke="#1a1a1a" stroke-width="0.95" stroke-linecap="round"/>
<text x="305" y="122.57" font-family="'Liberation Sans', sans-serif" font-size="6.3" font-weight="normal" font-style="normal" text-anchor="middle" fill="#222">O</text>
<line x1="303.57" y1="122" x2="297.9" y2="125.28" stroke="#1a1a1a" stroke-width="0.95" stroke-linecap="round"/>
<line x1="319.5" y1="138.2" x2="327.47" y2="133.6" stroke="#1a1a1a" stroke-width="0.95" stroke-linecap="round"/>
<text x="285.1" y="178.2" font-family="'Liberation Serif', serif" font-size="11" font-weight="bold" font-style="normal" text-anchor="middle" fill="#000">16</text>
<line x1="114.6" y1="436.5" x2="123.09" y2="441.4" stroke="#1a1a1a" stroke-width="0.95" stroke-linecap="round"/>
<line x1="123.09" y1="441.4" x2="123.09" y2="451.2" stroke="#1a1a1a" stroke-width="0.95" stroke-linecap="round"/>
<line x1="123.09" y1="451.2" x2="114.6" y2="456.1" stroke="#1a1a1a" stroke-width="0.95" stroke-linecap="round"/>
<line x1="114.6" y1="456.1" x2="106.11" y2="451.2" stroke="#1a1a1a" stroke-width="0.95" stroke-linecap="round"/>
<line x1="106.11" y1="451.2" x2="106.11" y2="441.4" stroke="#1a1a1a" stroke-width="0.95" stroke-linecap="round"/>
<line x1="106.11" y1="441.4" x2="114.6" y2="436.5" stroke="#1a1a1a" stroke-width="0.95" stroke-linecap="round"/>
<line x1="115.13" y1="439.11" x2="120.56" y2="442.25" stroke="#1a1a1a" stroke-width="0.95" stroke-linecap="round"/>
<line x1="120.56" y1="450.35" x2="115.13" y2="453.49" stroke="#1a1a1a" stroke-width="0.95" stroke-linecap="round"/>
<line x1="108.11" y1="449.44" x2="108.11" y2="443.16" stroke="#1a1a1a" stroke-width="0.95" stroke-linecap="round"/>
<line x1="148.55" y1="436.5" x2="157.04" y2="441.4" stroke="#1a1a1a" stroke-width="0.95" stroke-linecap="round"/>
<line x1="157.04" y1="441.4" x2="157.04" y2="451.2" stroke="#1a1a1a" stroke-width="0.95" stroke-linecap="round"/>
<line x1="157.04" y1="451.2" x2="148.55" y2="456.1" stroke="#1a1a1a" stroke-width="0.95" stroke-linecap="round"/>
<line x1="148.55" y1="456.1" x2="140.06" y2="451.2" stroke="#1a1a1a" stroke-width="0.95" stroke-linecap="round"/>
<line x1="140.06" y1="451.2" x2="140.06" y2="441.4" stroke="#1a1a1a" stroke-width="0.95" stroke-linecap="round"/>
<line x1="140.06" y1="441.4" x2="148.55" y2="436.5" stroke="#1a1a1a" stroke-width="0.95" stroke-linecap="round"/>
<line x1="149.08" y1="439.11" x2="154.51" y2="442.25" stroke="#1a1a1a" stroke-width="0.95" stroke-linecap="round"/>
<line x1="154.51" y1="450.35" x2="149.08" y2="453.49" stroke="#1a1a1a" stroke-width="0.95" stroke-linecap="round"/>
<line x1="142.06" y1="449.44" x2="142.06" y2="443.16" stroke="#1a1a1a" stroke-width="0.95" stroke-linecap="round"/>
<line x1="165.52" y1="436.5" x2="174.01" y2="441.4" stroke="#1a1a1a" stroke-width="0.95" stroke-linecap="round"/>
<line x1="174.01" y1="441.4" x2="174.01" y2="451.2" stroke="#1a1a1a" stroke-width="0.95" stroke-linecap="round"/>
<line x1="174.01" y1="451.2" x2="165.52" y2="456.1" stroke="#1a1a1a" stroke-width="0.95" stroke-linecap="round"/>
<line x1="165.52" y1="456.1" x2="157.04" y2="451.2" stroke="#1a1a1a" stroke-width="0.95" stroke-linecap="round"/>
<line x1="157.04" y1="441.4" x2="165.52" y2="436.5" stroke="#1a1a1a" stroke-width="0.95" stroke-linecap="round"/>
<line x1="166.05" y1="439.11" x2="171.48" y2="442.25" stroke="#1a1a1a" stroke-width="0.95" stroke-linecap="round"/>
<line x1="171.48" y1="450.35" x2="166.05" y2="453.49" stroke="#1a1a1a" stroke-width="0.95" stroke-linecap="round"/>
<line x1="123.09" y1="441.4" x2="131.57" y2="436.5" stroke="#1a1a1a" stroke-width="0.95" stroke-linecap="round"/>
<line x1="131.57" y1="436.5" x2="140.06" y2="441.4" stroke="#1a1a1a" stroke-width="0.95" stroke-linecap="round"/>
<line x1="132.62" y1="436.5" x2="132.62" y2="429.7" stroke="#1a1a1a" stroke-width="0.95" stroke-linecap="round"/>
<line x1="130.52" y1="436.5" x2="130.52" y2="429.7" stroke="#1a1a1a" stroke-width="0.95" stroke-linecap="round"/>
<text x="131.57" y="429.57" font-family="'Liberation Sans', sans-serif" font-size="6.3" font-weight="normal" font-style="normal" text-anchor="middle" fill="#222">O</text>
<line x1="165.52" y1="436.5" x2="165.52" y2="427.1" stroke="#1a1a1a" stroke-width="0.95" stroke-linecap="round"/>
<line x1="166.05" y1="428.01" x2="172.4" y2="424.34" stroke="#1a1a1a" stroke-width="0.95" stroke-linecap="round"/>
<line x1="165" y1="426.19" x2="171.35" y2="422.52" stroke="#1a1a1a" stroke-width="0.95" stroke-linecap="round"/>
<text x="173.07" y="425" font-family="'Liberation Sans', sans-serif" font-size="6.3" font-weight="normal" font-style="normal" text-anchor="middle" fill="#222">O</text>
<line x1="165.52" y1="427.1" x2="160.57" y2="424.24" stroke="#1a1a1a" stroke-width="0.95" stroke-linecap="round"/>
<text x="158.71" y="424.91" font-family="'Liberation Sans', sans-serif" font-size="6.3" font-weight="normal" font-style="normal" text-anchor="middle" fill="#222">O</text>
<line x1="157.28" y1="424.34" x2="151.28" y2="427.81" stroke="#1a1a1a" stroke-width="0.95" stroke-linecap="round"/>
<line x1="174.01" y1="441.4" x2="182.15" y2="436.7" stroke="#1a1a1a" stroke-width="0.95" stroke-linecap="round"/>
<line x1="123.09" y1="451.2" x2="130.19" y2="455.3" stroke="#1a1a1a" stroke-width="0.95" stroke-linecap="round"/>
<line x1="129.65" y1="454.46" x2="124.65" y2="457.66" stroke="#1a1a1a" stroke-width="0.95" stroke-linecap="round"/>
<line x1="130.73" y1="456.14" x2="125.73" y2="459.34" stroke="#1a1a1a" stroke-width="0.95" stroke-linecap="round"/>
<text x="122.99" y="462.17" font-family="'Liberation Sans', sans-serif" font-size="6.3" font-weight="normal" font-style="normal" text-anchor="middle" fill="#222">O</text>
<line x1="130.19" y1="455.3" x2="130.99" y2="461.3" stroke="#1a1a1a" stroke-width="0.95" stroke-linecap="round"/>
<text x="132.59" y="467.17" font-family="'Liberation Sans', sans-serif" font-size="6.3" font-weight="normal" font-style="normal" text-anchor="middle" fill="#222">OH</text>
<line x1="114.6" y1="456.1" x2="114.6" y2="462.1" stroke="#1a1a1a" stroke-width="0.95" stroke-linecap="round"/>
<text x="116.2" y="467.77" font-family="'Liberation Sans', sans-serif" font-size="6.3" font-weight="normal" font-style="normal" text-anchor="middle" fill="#222">OH</text>
<polygon points="139.76,451.2 140.36,451.2 141.36,456.8 138.76,456.8" fill="#1a1a1a" stroke="none" stroke-width="1" stroke-linejoin="round"/>
<text x="142.06" y="462.27" font-family="'Liberation Sans', sans-serif" font-size="6.3" font-weight="normal" font-style="normal" text-anchor="middle" fill="#3a6fd0">OH</text>
<line x1="148.55" y1="456.1" x2="148.55" y2="462.1" stroke="#1a1a1a" stroke-width="0.95" stroke-linecap="round"/>
<text x="150.15" y="467.77" font-family="'Liberation Sans', sans-serif" font-size="6.3" font-weight="normal" font-style="normal" text-anchor="middle" fill="#222">OH</text>
<line x1="250" y1="435.2" x2="258.4" y2="440.05" stroke="#1a1a1a" stroke-width="0.95" stroke-linecap="round"/>
<line x1="258.4" y1="440.05" x2="258.4" y2="449.75" stroke="#1a1a1a" stroke-width="0.95" stroke-linecap="round"/>
<line x1="258.4" y1="449.75" x2="250" y2="454.6" stroke="#1a1a1a" stroke-width="0.95" stroke-linecap="round"/>
<line x1="250" y1="454.6" x2="241.6" y2="449.75" stroke="#1a1a1a" stroke-width="0.95" stroke-linecap="round"/>
<line x1="241.6" y1="449.75" x2="241.6" y2="440.05" stroke="#1a1a1a" stroke-width="0.95" stroke-linecap="round"/>
<line x1="241.6" y1="440.05" x2="250" y2="435.2" stroke="#1a1a1a" stroke-width="0.95" stroke-linecap="round"/>
<line x1="250.51" y1="437.81" x2="255.89" y2="440.91" stroke="#1a1a1a" stroke-width="0.95" stroke-linecap="round"/>
<line x1="255.89" y1="448.89" x2="250.51" y2="451.99" stroke="#1a1a1a" stroke-width="0.95" stroke-linecap="round"/>
<line x1="243.6" y1="448" x2="243.6" y2="441.8" stroke="#1a1a1a" stroke-width="0.95" stroke-linecap="round"/>
<line x1="283.6" y1="435.2" x2="292" y2="440.05" stroke="#1a1a1a" stroke-width="0.95" stroke-linecap="round"/>
<line x1="292" y1="440.05" x2="292" y2="449.75" stroke="#1a1a1a" stroke-width="0.95" stroke-linecap="round"/>
<line x1="292" y1="449.75" x2="283.6" y2="454.6" stroke="#1a1a1a" stroke-width="0.95" stroke-linecap="round"/>
<line x1="283.6" y1="454.6" x2="275.2" y2="449.75" stroke="#1a1a1a" stroke-width="0.95" stroke-linecap="round"/>
<line x1="275.2" y1="449.75" x2="275.2" y2="440.05" stroke="#1a1a1a" stroke-width="0.95" stroke-linecap="round"/>
<line x1="275.2" y1="440.05" x2="283.6" y2="435.2" stroke="#1a1a1a" stroke-width="0.95" stroke-linecap="round"/>
<line x1="284.11" y1="437.81" x2="289.49" y2="440.91" stroke="#1a1a1a" stroke-width="0.95" stroke-linecap="round"/>
<line x1="289.49" y1="448.89" x2="284.11" y2="451.99" stroke="#1a1a1a" stroke-width="0.95" stroke-linecap="round"/>
<line x1="277.2" y1="448" x2="277.2" y2="441.8" stroke="#1a1a1a" stroke-width="0.95" stroke-linecap="round"/>
<line x1="300.4" y1="435.2" x2="308.8" y2="440.05" stroke="#1a1a1a" stroke-width="0.95" stroke-linecap="round"/>
<line x1="308.8" y1="440.05" x2="308.8" y2="449.75" stroke="#1a1a1a" stroke-width="0.95" stroke-linecap="round"/>
<line x1="308.8" y1="449.75" x2="300.4" y2="454.6" stroke="#1a1a1a" stroke-width="0.95" stroke-linecap="round"/>
<line x1="300.4" y1="454.6" x2="292" y2="449.75" stroke="#1a1a1a" stroke-width="0.95" stroke-linecap="round"/>
<line x1="292" y1="440.05" x2="300.4" y2="435.2" stroke="#1a1a1a" stroke-width="0.95" stroke-linecap="round"/>
<line x1="300.91" y1="437.81" x2="306.29" y2="440.91" stroke="#1a1a1a" stroke-width="0.95" stroke-linecap="round"/>
<line x1="306.29" y1="448.89" x2="300.91" y2="451.99" stroke="#1a1a1a" stroke-width="0.95" stroke-linecap="round"/>
<line x1="258.4" y1="440.05" x2="266.8" y2="435.2" stroke="#1a1a1a" stroke-width="0.95" stroke-linecap="round"/>
<line x1="266.8" y1="435.2" x2="275.2" y2="440.05" stroke="#1a1a1a" stroke-width="0.95" stroke-linecap="round"/>
<line x1="267.85" y1="435.2" x2="267.85" y2="428.4" stroke="#1a1a1a" stroke-width="0.95" stroke-linecap="round"/>
<line x1="265.75" y1="435.2" x2="265.75" y2="428.4" stroke="#1a1a1a" stroke-width="0.95" stroke-linecap="round"/>
<text x="266.8" y="428.27" font-family="'Liberation Sans', sans-serif" font-size="6.3" font-weight="normal" font-style="normal" text-anchor="middle" fill="#222">O</text>
<line x1="300.4" y1="435.2" x2="300.4" y2="425.8" stroke="#1a1a1a" stroke-width="0.95" stroke-linecap="round"/>
<line x1="300.93" y1="426.71" x2="307.28" y2="423.04" stroke="#1a1a1a" stroke-width="0.95" stroke-linecap="round"/>
<line x1="299.88" y1="424.89" x2="306.23" y2="421.22" stroke="#1a1a1a" stroke-width="0.95" stroke-linecap="round"/>
<text x="307.95" y="423.7" font-family="'Liberation Sans', sans-serif" font-size="6.3" font-weight="normal" font-style="normal" text-anchor="middle" fill="#222">O</text>
<line x1="300.4" y1="425.8" x2="295.45" y2="422.94" stroke="#1a1a1a" stroke-width="0.95" stroke-linecap="round"/>
<text x="293.59" y="423.61" font-family="'Liberation Sans', sans-serif" font-size="6.3" font-weight="normal" font-style="normal" text-anchor="middle" fill="#222">O</text>
<line x1="292.16" y1="423.04" x2="286.16" y2="426.5" stroke="#1a1a1a" stroke-width="0.95" stroke-linecap="round"/>
<line x1="308.8" y1="440.05" x2="316.94" y2="435.35" stroke="#1a1a1a" stroke-width="0.95" stroke-linecap="round"/>
<line x1="258.4" y1="449.75" x2="265.5" y2="453.85" stroke="#1a1a1a" stroke-width="0.95" stroke-linecap="round"/>
<line x1="264.96" y1="453.01" x2="259.96" y2="456.21" stroke="#1a1a1a" stroke-width="0.95" stroke-linecap="round"/>
<line x1="266.04" y1="454.69" x2="261.04" y2="457.89" stroke="#1a1a1a" stroke-width="0.95" stroke-linecap="round"/>
<text x="258.3" y="460.72" font-family="'Liberation Sans', sans-serif" font-size="6.3" font-weight="normal" font-style="normal" text-anchor="middle" fill="#222">O</text>
<line x1="265.5" y1="453.85" x2="266.3" y2="459.85" stroke="#1a1a1a" stroke-width="0.95" stroke-linecap="round"/>
<text x="267.9" y="465.72" font-family="'Liberation Sans', sans-serif" font-size="6.3" font-weight="normal" font-style="normal" text-anchor="middle" fill="#222">OH</text>
<line x1="250" y1="454.6" x2="250" y2="460.6" stroke="#1a1a1a" stroke-width="0.95" stroke-linecap="round"/>
<text x="251.6" y="466.27" font-family="'Liberation Sans', sans-serif" font-size="6.3" font-weight="normal" font-style="normal" text-anchor="middle" fill="#222">OH</text>
<polygon points="274.9,449.75 275.5,449.75 276.5,455.35 273.9,455.35" fill="#1a1a1a" stroke="none" stroke-width="1" stroke-linejoin="round"/>
<text x="277.2" y="460.82" font-family="'Liberation Sans', sans-serif" font-size="6.3" font-weight="normal" font-style="normal" text-anchor="middle" fill="#ee2222">OH</text>
<line x1="283.6" y1="454.6" x2="283.6" y2="460.6" stroke="#1a1a1a" stroke-width="0.95" stroke-linecap="round"/>
<text x="285.2" y="466.27" font-family="'Liberation Sans', sans-serif" font-size="6.3" font-weight="normal" font-style="normal" text-anchor="middle" fill="#222">OH</text>
<text x="270.4" y="456.6" font-family="'Liberation Sans', sans-serif" font-size="4.4" font-weight="normal" font-style="normal" text-anchor="middle" fill="#ee2222">18</text>
<line x1="586.2" y1="28.9" x2="593.99" y2="33.4" stroke="#1a1a1a" stroke-width="0.95" stroke-linecap="round"/>
<line x1="593.99" y1="33.4" x2="593.99" y2="42.4" stroke="#1a1a1a" stroke-width="0.95" stroke-linecap="round"/>
<line x1="593.99" y1="42.4" x2="586.2" y2="46.9" stroke="#1a1a1a" stroke-width="0.95" stroke-linecap="round"/>
<line x1="586.2" y1="46.9" x2="578.41" y2="42.4" stroke="#1a1a1a" stroke-width="0.95" stroke-linecap="round"/>
<line x1="578.41" y1="42.4" x2="578.41" y2="33.4" stroke="#1a1a1a" stroke-width="0.95" stroke-linecap="round"/>
<line x1="578.41" y1="33.4" x2="586.2" y2="28.9" stroke="#1a1a1a" stroke-width="0.95" stroke-linecap="round"/>
<line x1="586.6" y1="31.44" x2="591.59" y2="34.32" stroke="#1a1a1a" stroke-width="0.95" stroke-linecap="round"/>
<line x1="591.59" y1="41.48" x2="586.6" y2="44.36" stroke="#1a1a1a" stroke-width="0.95" stroke-linecap="round"/>
<line x1="580.41" y1="40.78" x2="580.41" y2="35.02" stroke="#1a1a1a" stroke-width="0.95" stroke-linecap="round"/>
<line x1="601.79" y1="28.9" x2="609.58" y2="33.4" stroke="#1a1a1a" stroke-width="0.95" stroke-linecap="round"/>
<line x1="609.58" y1="33.4" x2="609.58" y2="42.4" stroke="#1a1a1a" stroke-width="0.95" stroke-linecap="round"/>
<line x1="609.58" y1="42.4" x2="601.79" y2="46.9" stroke="#1a1a1a" stroke-width="0.95" stroke-linecap="round"/>
<line x1="601.79" y1="46.9" x2="593.99" y2="42.4" stroke="#1a1a1a" stroke-width="0.95" stroke-linecap="round"/>
<line x1="593.99" y1="33.4" x2="601.79" y2="28.9" stroke="#1a1a1a" stroke-width="0.95" stroke-linecap="round"/>
<line x1="617.38" y1="28.9" x2="625.17" y2="33.4" stroke="#1a1a1a" stroke-width="0.95" stroke-linecap="round"/>
<line x1="625.17" y1="33.4" x2="625.17" y2="42.4" stroke="#1a1a1a" stroke-width="0.95" stroke-linecap="round"/>
<line x1="625.17" y1="42.4" x2="617.38" y2="46.9" stroke="#1a1a1a" stroke-width="0.95" stroke-linecap="round"/>
<line x1="617.38" y1="46.9" x2="609.58" y2="42.4" stroke="#1a1a1a" stroke-width="0.95" stroke-linecap="round"/>
<line x1="609.58" y1="33.4" x2="617.38" y2="28.9" stroke="#1a1a1a" stroke-width="0.95" stroke-linecap="round"/>
<line x1="617.78" y1="31.44" x2="622.77" y2="34.32" stroke="#1a1a1a" stroke-width="0.95" stroke-linecap="round"/>
<line x1="622.77" y1="41.48" x2="617.78" y2="44.36" stroke="#1a1a1a" stroke-width="0.95" stroke-linecap="round"/>
<line x1="611.58" y1="40.78" x2="611.58" y2="35.02" stroke="#1a1a1a" stroke-width="0.95" stroke-linecap="round"/>
<line x1="632.97" y1="28.9" x2="640.76" y2="33.4" stroke="#1a1a1a" stroke-width="0.95" stroke-linecap="round"/>
<line x1="640.76" y1="33.4" x2="640.76" y2="42.4" stroke="#1a1a1a" stroke-width="0.95" stroke-linecap="round"/>
<line x1="640.76" y1="42.4" x2="632.97" y2="46.9" stroke="#1a1a1a" stroke-width="0.95" stroke-linecap="round"/>
<line x1="632.97" y1="46.9" x2="625.17" y2="42.4" stroke="#1a1a1a" stroke-width="0.95" stroke-linecap="round"/>
<line x1="625.17" y1="33.4" x2="632.97" y2="28.9" stroke="#1a1a1a" stroke-width="0.95" stroke-linecap="round"/>
<text x="601.79" y="34.7" font-family="'Liberation Sans', sans-serif" font-size="4" font-weight="normal" font-style="normal" text-anchor="middle" fill="#555">6</text>
<text x="601.79" y="43.7" font-family="'Liberation Sans', sans-serif" font-size="4" font-weight="normal" font-style="normal" text-anchor="middle" fill="#555">13</text>
<line x1="602.79" y1="28.9" x2="602.79" y2="22.6" stroke="#1a1a1a" stroke-width="0.95" stroke-linecap="round"/>
<line x1="600.79" y1="28.9" x2="600.79" y2="22.6" stroke="#1a1a1a" stroke-width="0.95" stroke-linecap="round"/>
<text x="601.79" y="21.8" font-family="'Liberation Sans', sans-serif" font-size="6.1" font-weight="normal" font-style="normal" text-anchor="middle" fill="#2a2a2a">O</text>
<line x1="600.79" y1="46.9" x2="600.79" y2="53.2" stroke="#1a1a1a" stroke-width="0.95" stroke-linecap="round"/>
<line x1="602.79" y1="46.9" x2="602.79" y2="53.2" stroke="#1a1a1a" stroke-width="0.95" stroke-linecap="round"/>
<text x="601.79" y="58" font-family="'Liberation Sans', sans-serif" font-size="6.1" font-weight="normal" font-style="normal" text-anchor="middle" fill="#2a2a2a">O</text>
<line x1="586.2" y1="46.9" x2="586.2" y2="52.4" stroke="#1a1a1a" stroke-width="0.95" stroke-linecap="round"/>
<text x="586.7" y="58" font-family="'Liberation Sans', sans-serif" font-size="6.1" font-weight="normal" font-style="normal" text-anchor="middle" fill="#2a2a2a">OH</text>
<line x1="617.38" y1="46.9" x2="617.38" y2="52.4" stroke="#1a1a1a" stroke-width="0.95" stroke-linecap="round"/>
<text x="617.88" y="58" font-family="'Liberation Sans', sans-serif" font-size="6.1" font-weight="normal" font-style="normal" text-anchor="middle" fill="#2a2a2a">OH</text>
<polygon points="632.97,28.9 633.87,22.9 632.07,22.9" fill="#2a2a2a" stroke="none" stroke-width="1" stroke-linejoin="round"/>
<text x="643.97" y="22.2" font-family="'Liberation Sans', sans-serif" font-size="6.1" font-weight="normal" font-style="normal" text-anchor="middle" fill="#2a2a2a">COOCH<tspan font-size="4.2" dy="1.4">3</tspan></text>
<text x="632.97" y="34.7" font-family="'Liberation Sans', sans-serif" font-size="4" font-weight="normal" font-style="normal" text-anchor="middle" fill="#555">2</text>
<polygon points="640.76,33.4 647.35,27.64 645.37,25.96" fill="#2a2a2a" stroke="none" stroke-width="1" stroke-linejoin="round"/>
<line x1="646.36" y1="26.8" x2="655.36" y2="26.8" stroke="#1a1a1a" stroke-width="0.95" stroke-linecap="round"/>
<line x1="642.04" y1="33.77" x2="641.65" y2="34.4" stroke="#2a2a2a" stroke-width="0.6" stroke-linecap="butt"/>
<line x1="643.33" y1="34.14" x2="642.53" y2="35.4" stroke="#2a2a2a" stroke-width="0.6" stroke-linecap="butt"/>
<line x1="644.61" y1="34.52" x2="643.42" y2="36.4" stroke="#2a2a2a" stroke-width="0.6" stroke-linecap="butt"/>
<text x="650.96" y="38.8" font-family="'Liberation Sans', sans-serif" font-size="6.1" font-weight="normal" font-style="normal" text-anchor="middle" fill="#2a2a2a">OH</text>
<line x1="632.97" y1="46.9" x2="632.97" y2="52.4" stroke="#1a1a1a" stroke-width="0.95" stroke-linecap="round"/>
<text x="633.97" y="58" font-family="'Liberation Sans', sans-serif" font-size="6.1" font-weight="normal" font-style="normal" text-anchor="middle" fill="#2a2a2a">OH</text>
<ellipse cx="633.2" cy="49.6" rx="3.6" ry="8.0" fill="none" stroke="#22e622" stroke-width="1.8"/>
<text x="635" y="65" font-family="'Liberation Sans', sans-serif" font-size="7.5" font-weight="bold" font-style="normal" text-anchor="middle" fill="#33cc33">17</text>
<text x="614.1" y="71.5" font-family="'Liberation Sans', sans-serif" font-size="9.2" font-weight="normal" font-style="normal" text-anchor="middle" fill="#222">C-17 KR</text>
<line x1="394.3" y1="176.73" x2="402.15" y2="181.27" stroke="#1a1a1a" stroke-width="0.95" stroke-linecap="round"/>
<line x1="402.15" y1="181.27" x2="402.15" y2="190.34" stroke="#1a1a1a" stroke-width="0.95" stroke-linecap="round"/>
<line x1="402.15" y1="190.34" x2="394.3" y2="194.87" stroke="#1a1a1a" stroke-width="0.95" stroke-linecap="round"/>
<line x1="394.3" y1="194.87" x2="386.45" y2="190.34" stroke="#1a1a1a" stroke-width="0.95" stroke-linecap="round"/>
<line x1="386.45" y1="190.34" x2="386.45" y2="181.27" stroke="#1a1a1a" stroke-width="0.95" stroke-linecap="round"/>
<line x1="386.45" y1="181.27" x2="394.3" y2="176.73" stroke="#1a1a1a" stroke-width="0.95" stroke-linecap="round"/>
<line x1="394.71" y1="179.28" x2="399.74" y2="182.18" stroke="#1a1a1a" stroke-width="0.95" stroke-linecap="round"/>
<line x1="399.74" y1="189.42" x2="394.71" y2="192.32" stroke="#1a1a1a" stroke-width="0.95" stroke-linecap="round"/>
<line x1="388.45" y1="188.7" x2="388.45" y2="182.9" stroke="#1a1a1a" stroke-width="0.95" stroke-linecap="round"/>
<line x1="410.01" y1="176.73" x2="417.86" y2="181.27" stroke="#1a1a1a" stroke-width="0.95" stroke-linecap="round"/>
<line x1="417.86" y1="181.27" x2="417.86" y2="190.34" stroke="#1a1a1a" stroke-width="0.95" stroke-linecap="round"/>
<line x1="417.86" y1="190.34" x2="410.01" y2="194.87" stroke="#1a1a1a" stroke-width="0.95" stroke-linecap="round"/>
<line x1="410.01" y1="194.87" x2="402.15" y2="190.34" stroke="#1a1a1a" stroke-width="0.95" stroke-linecap="round"/>
<line x1="402.15" y1="181.27" x2="410.01" y2="176.73" stroke="#1a1a1a" stroke-width="0.95" stroke-linecap="round"/>
<line x1="425.72" y1="176.73" x2="433.57" y2="181.27" stroke="#1a1a1a" stroke-width="0.95" stroke-linecap="round"/>
<line x1="433.57" y1="181.27" x2="433.57" y2="190.34" stroke="#1a1a1a" stroke-width="0.95" stroke-linecap="round"/>
<line x1="433.57" y1="190.34" x2="425.72" y2="194.87" stroke="#1a1a1a" stroke-width="0.95" stroke-linecap="round"/>
<line x1="425.72" y1="194.87" x2="417.86" y2="190.34" stroke="#1a1a1a" stroke-width="0.95" stroke-linecap="round"/>
<line x1="417.86" y1="181.27" x2="425.72" y2="176.73" stroke="#1a1a1a" stroke-width="0.95" stroke-linecap="round"/>
<line x1="426.13" y1="179.28" x2="431.16" y2="182.18" stroke="#1a1a1a" stroke-width="0.95" stroke-linecap="round"/>
<line x1="431.16" y1="189.42" x2="426.13" y2="192.32" stroke="#1a1a1a" stroke-width="0.95" stroke-linecap="round"/>
<line x1="419.86" y1="188.7" x2="419.86" y2="182.9" stroke="#1a1a1a" stroke-width="0.95" stroke-linecap="round"/>
<line x1="441.43" y1="176.73" x2="449.28" y2="181.27" stroke="#1a1a1a" stroke-width="0.95" stroke-linecap="round"/>
<line x1="449.28" y1="181.27" x2="449.28" y2="190.34" stroke="#1a1a1a" stroke-width="0.95" stroke-linecap="round"/>
<line x1="449.28" y1="190.34" x2="441.43" y2="194.87" stroke="#1a1a1a" stroke-width="0.95" stroke-linecap="round"/>
<line x1="441.43" y1="194.87" x2="433.57" y2="190.34" stroke="#1a1a1a" stroke-width="0.95" stroke-linecap="round"/>
<line x1="433.57" y1="181.27" x2="441.43" y2="176.73" stroke="#1a1a1a" stroke-width="0.95" stroke-linecap="round"/>
<text x="410.01" y="182.6" font-family="'Liberation Sans', sans-serif" font-size="4" font-weight="normal" font-style="normal" text-anchor="middle" fill="#555">6</text>
<text x="410.01" y="191.6" font-family="'Liberation Sans', sans-serif" font-size="4" font-weight="normal" font-style="normal" text-anchor="middle" fill="#555">13</text>
<line x1="411.01" y1="176.73" x2="411.01" y2="170.43" stroke="#1a1a1a" stroke-width="0.95" stroke-linecap="round"/>
<line x1="409.01" y1="176.73" x2="409.01" y2="170.43" stroke="#1a1a1a" stroke-width="0.95" stroke-linecap="round"/>
<text x="410.01" y="169.63" font-family="'Liberation Sans', sans-serif" font-size="6.1" font-weight="normal" font-style="normal" text-anchor="middle" fill="#2a2a2a">O</text>
<line x1="409.01" y1="194.87" x2="409.01" y2="201.17" stroke="#1a1a1a" stroke-width="0.95" stroke-linecap="round"/>
<line x1="411.01" y1="194.87" x2="411.01" y2="201.17" stroke="#1a1a1a" stroke-width="0.95" stroke-linecap="round"/>
<text x="410.01" y="205.97" font-family="'Liberation Sans', sans-serif" font-size="6.1" font-weight="normal" font-style="normal" text-anchor="middle" fill="#2a2a2a">O</text>
<line x1="394.3" y1="194.87" x2="394.3" y2="200.37" stroke="#1a1a1a" stroke-width="0.95" stroke-linecap="round"/>
<text x="394.8" y="205.97" font-family="'Liberation Sans', sans-serif" font-size="6.1" font-weight="normal" font-style="normal" text-anchor="middle" fill="#2a2a2a">OH</text>
<line x1="425.72" y1="194.87" x2="425.72" y2="200.37" stroke="#1a1a1a" stroke-width="0.95" stroke-linecap="round"/>
<text x="426.22" y="205.97" font-family="'Liberation Sans', sans-serif" font-size="6.1" font-weight="normal" font-style="normal" text-anchor="middle" fill="#2a2a2a">OH</text>
<polygon points="441.43,176.73 442.33,170.73 440.53,170.73" fill="#2a2a2a" stroke="none" stroke-width="1" stroke-linejoin="round"/>
<text x="452.43" y="170.03" font-family="'Liberation Sans', sans-serif" font-size="6.1" font-weight="normal" font-style="normal" text-anchor="middle" fill="#2a2a2a">COOCH<tspan font-size="4.2" dy="1.4">3</tspan></text>
<text x="441.43" y="182.6" font-family="'Liberation Sans', sans-serif" font-size="4" font-weight="normal" font-style="normal" text-anchor="middle" fill="#555">2</text>
<polygon points="449.28,181.27 455.88,175.51 453.89,173.82" fill="#2a2a2a" stroke="none" stroke-width="1" stroke-linejoin="round"/>
<line x1="454.88" y1="174.67" x2="463.88" y2="174.67" stroke="#1a1a1a" stroke-width="0.95" stroke-linecap="round"/>
<line x1="450.57" y1="181.64" x2="450.17" y2="182.26" stroke="#2a2a2a" stroke-width="0.6" stroke-linecap="butt"/>
<line x1="451.85" y1="182.01" x2="451.06" y2="183.26" stroke="#2a2a2a" stroke-width="0.6" stroke-linecap="butt"/>
<line x1="453.14" y1="182.38" x2="451.95" y2="184.26" stroke="#2a2a2a" stroke-width="0.6" stroke-linecap="butt"/>
<text x="459.48" y="186.66" font-family="'Liberation Sans', sans-serif" font-size="6.1" font-weight="normal" font-style="normal" text-anchor="middle" fill="#2a2a2a">OH</text>
<line x1="441.72" y1="196.2" x2="441.14" y2="196.2" stroke="#2a2a2a" stroke-width="0.6" stroke-linecap="butt"/>
<line x1="442.01" y1="197.54" x2="440.85" y2="197.54" stroke="#2a2a2a" stroke-width="0.6" stroke-linecap="butt"/>
<line x1="442.3" y1="198.87" x2="440.56" y2="198.87" stroke="#2a2a2a" stroke-width="0.6" stroke-linecap="butt"/>
<line x1="442.58" y1="200.2" x2="440.27" y2="200.2" stroke="#2a2a2a" stroke-width="0.6" stroke-linecap="butt"/>
<text x="442.43" y="205.97" font-family="'Liberation Sans', sans-serif" font-size="6.1" font-weight="normal" font-style="normal" text-anchor="middle" fill="#2a2a2a">OH</text>
<circle cx="387.3" cy="183.0" r="5.6" fill="url(#rP)" stroke="#b040d8" stroke-width="1.2"/>
<text x="377.9" y="184.4" font-family="'Liberation Sans', sans-serif" font-size="7" font-weight="normal" font-style="normal" text-anchor="middle" fill="#a040c0">9</text>
<text x="415.2" y="219.2" font-family="'Liberation Sans', sans-serif" font-size="9.2" font-weight="normal" font-style="normal" text-anchor="middle" fill="#222">C-9 KR</text>
<line x1="598.9" y1="165.75" x2="606.74" y2="170.28" stroke="#1a1a1a" stroke-width="0.95" stroke-linecap="round"/>
<line x1="606.74" y1="170.28" x2="606.74" y2="179.33" stroke="#1a1a1a" stroke-width="0.95" stroke-linecap="round"/>
<line x1="606.74" y1="179.33" x2="598.9" y2="183.85" stroke="#1a1a1a" stroke-width="0.95" stroke-linecap="round"/>
<line x1="598.9" y1="183.85" x2="591.06" y2="179.33" stroke="#1a1a1a" stroke-width="0.95" stroke-linecap="round"/>
<line x1="591.06" y1="179.33" x2="591.06" y2="170.28" stroke="#1a1a1a" stroke-width="0.95" stroke-linecap="round"/>
<line x1="591.06" y1="170.28" x2="598.9" y2="165.75" stroke="#1a1a1a" stroke-width="0.95" stroke-linecap="round"/>
<line x1="599.31" y1="168.3" x2="604.33" y2="171.19" stroke="#1a1a1a" stroke-width="0.95" stroke-linecap="round"/>
<line x1="604.33" y1="178.41" x2="599.31" y2="181.3" stroke="#1a1a1a" stroke-width="0.95" stroke-linecap="round"/>
<line x1="593.06" y1="177.7" x2="593.06" y2="171.9" stroke="#1a1a1a" stroke-width="0.95" stroke-linecap="round"/>
<line x1="614.58" y1="165.75" x2="622.41" y2="170.28" stroke="#1a1a1a" stroke-width="0.95" stroke-linecap="round"/>
<line x1="622.41" y1="170.28" x2="622.41" y2="179.33" stroke="#1a1a1a" stroke-width="0.95" stroke-linecap="round"/>
<line x1="622.41" y1="179.33" x2="614.58" y2="183.85" stroke="#1a1a1a" stroke-width="0.95" stroke-linecap="round"/>
<line x1="614.58" y1="183.85" x2="606.74" y2="179.33" stroke="#1a1a1a" stroke-width="0.95" stroke-linecap="round"/>
<line x1="606.74" y1="170.28" x2="614.58" y2="165.75" stroke="#1a1a1a" stroke-width="0.95" stroke-linecap="round"/>
<line x1="630.25" y1="165.75" x2="638.09" y2="170.28" stroke="#1a1a1a" stroke-width="0.95" stroke-linecap="round"/>
<line x1="638.09" y1="170.28" x2="638.09" y2="179.33" stroke="#1a1a1a" stroke-width="0.95" stroke-linecap="round"/>
<line x1="638.09" y1="179.33" x2="630.25" y2="183.85" stroke="#1a1a1a" stroke-width="0.95" stroke-linecap="round"/>
<line x1="630.25" y1="183.85" x2="622.41" y2="179.33" stroke="#1a1a1a" stroke-width="0.95" stroke-linecap="round"/>
<line x1="622.41" y1="170.28" x2="630.25" y2="165.75" stroke="#1a1a1a" stroke-width="0.95" stroke-linecap="round"/>
<line x1="630.66" y1="168.3" x2="635.68" y2="171.19" stroke="#1a1a1a" stroke-width="0.95" stroke-linecap="round"/>
<line x1="635.68" y1="178.41" x2="630.66" y2="181.3" stroke="#1a1a1a" stroke-width="0.95" stroke-linecap="round"/>
<line x1="624.41" y1="177.7" x2="624.41" y2="171.9" stroke="#1a1a1a" stroke-width="0.95" stroke-linecap="round"/>
<line x1="653.76" y1="170.28" x2="653.76" y2="179.33" stroke="#1a1a1a" stroke-width="0.95" stroke-linecap="round"/>
<line x1="653.76" y1="179.33" x2="645.93" y2="183.85" stroke="#1a1a1a" stroke-width="0.95" stroke-linecap="round"/>
<line x1="645.93" y1="183.85" x2="638.09" y2="179.33" stroke="#1a1a1a" stroke-width="0.95" stroke-linecap="round"/>
<line x1="638.09" y1="170.28" x2="645.93" y2="165.75" stroke="#1a1a1a" stroke-width="0.95" stroke-linecap="round"/>
<line x1="653.76" y1="152.18" x2="661.6" y2="156.7" stroke="#1a1a1a" stroke-width="0.95" stroke-linecap="round"/>
<line x1="661.6" y1="156.7" x2="661.6" y2="165.75" stroke="#1a1a1a" stroke-width="0.95" stroke-linecap="round"/>
<line x1="661.6" y1="165.75" x2="653.76" y2="170.28" stroke="#1a1a1a" stroke-width="0.95" stroke-linecap="round"/>
<line x1="653.76" y1="170.28" x2="645.93" y2="165.75" stroke="#1a1a1a" stroke-width="0.95" stroke-linecap="round"/>
<line x1="645.93" y1="165.75" x2="645.93" y2="156.7" stroke="#1a1a1a" stroke-width="0.95" stroke-linecap="round"/>
<line x1="645.93" y1="156.7" x2="653.76" y2="152.18" stroke="#1a1a1a" stroke-width="0.95" stroke-linecap="round"/>
<line x1="648.34" y1="157.62" x2="653.35" y2="154.72" stroke="#1a1a1a" stroke-width="0.95" stroke-linecap="round"/>
<line x1="659.6" y1="158.33" x2="659.6" y2="164.12" stroke="#1a1a1a" stroke-width="0.95" stroke-linecap="round"/>
<line x1="653.35" y1="167.73" x2="648.34" y2="164.83" stroke="#1a1a1a" stroke-width="0.95" stroke-linecap="round"/>
<text x="614.58" y="171.6" font-family="'Liberation Sans', sans-serif" font-size="4" font-weight="normal" font-style="normal" text-anchor="middle" fill="#555">8</text>
<text x="614.58" y="180.6" font-family="'Liberation Sans', sans-serif" font-size="4" font-weight="normal" font-style="normal" text-anchor="middle" fill="#555">15</text>
<text x="652.76" y="159.53" font-family="'Liberation Sans', sans-serif" font-size="4" font-weight="normal" font-style="normal" text-anchor="middle" fill="#555">2</text>
<line x1="614.58" y1="165.75" x2="608.92" y2="160.09" stroke="#1a1a1a" stroke-width="0.95" stroke-linecap="round"/>
<line x1="614.58" y1="165.75" x2="620.23" y2="160.09" stroke="#1a1a1a" stroke-width="0.95" stroke-linecap="round"/>
<line x1="613.58" y1="183.85" x2="613.58" y2="190.15" stroke="#1a1a1a" stroke-width="0.95" stroke-linecap="round"/>
<line x1="615.58" y1="183.85" x2="615.58" y2="190.15" stroke="#1a1a1a" stroke-width="0.95" stroke-linecap="round"/>
<text x="614.58" y="194.95" font-family="'Liberation Sans', sans-serif" font-size="6.1" font-weight="normal" font-style="normal" text-anchor="middle" fill="#2a2a2a">O</text>
<line x1="598.9" y1="183.85" x2="598.9" y2="189.35" stroke="#1a1a1a" stroke-width="0.95" stroke-linecap="round"/>
<text x="599.4" y="194.95" font-family="'Liberation Sans', sans-serif" font-size="6.1" font-weight="normal" font-style="normal" text-anchor="middle" fill="#2a2a2a">OH</text>
<line x1="630.25" y1="183.85" x2="630.25" y2="189.35" stroke="#1a1a1a" stroke-width="0.95" stroke-linecap="round"/>
<text x="630.75" y="194.95" font-family="'Liberation Sans', sans-serif" font-size="6.1" font-weight="normal" font-style="normal" text-anchor="middle" fill="#2a2a2a">OH</text>
<line x1="591.06" y1="170.28" x2="586.3" y2="167.53" stroke="#1a1a1a" stroke-width="0.95" stroke-linecap="round"/>
<text x="580.56" y="168.87" font-family="'Liberation Sans', sans-serif" font-size="6.1" font-weight="normal" font-style="normal" text-anchor="middle" fill="#2a2a2a">HO</text>
<line x1="645.93" y1="156.7" x2="641.16" y2="153.95" stroke="#1a1a1a" stroke-width="0.95" stroke-linecap="round"/>
<text x="635.73" y="154.1" font-family="'Liberation Sans', sans-serif" font-size="6.1" font-weight="normal" font-style="normal" text-anchor="middle" fill="#2a2a2a">HO</text>
<line x1="653.76" y1="152.18" x2="653.76" y2="146.68" stroke="#1a1a1a" stroke-width="0.95" stroke-linecap="round"/>
<text x="660.16" y="145.97" font-family="'Liberation Sans', sans-serif" font-size="6.1" font-weight="normal" font-style="normal" text-anchor="middle" fill="#2a2a2a">COOH</text>
<polyline points="661.6,156.7 669.5,152.3 677.4,156.9" fill="none" stroke="#2a2a2a" stroke-width="0.95" stroke-linejoin="round"/>
<path d="M668.6,149.4 Q666.2,152.8 668.6,156.3 M671.2,149.2 Q673.7,152.8 671.2,156.5" fill="none" stroke="#2a2a2a" stroke-width="0.8"/>
<text x="673.6" y="160.6" font-family="'Liberation Sans', sans-serif" font-size="4.4" font-weight="normal" font-style="normal" text-anchor="middle" fill="#333">4</text>
<circle cx="645.4" cy="181.9" r="5.5" fill="url(#rB)" stroke="#1a2ee8" stroke-width="1.1"/>
<text x="646.2" y="193.6" font-family="'Liberation Sans', sans-serif" font-size="7.8" font-weight="bold" font-style="normal" text-anchor="middle" fill="#1a30e8">19</text>
<line x1="651.35" y1="178.41" x2="646.34" y2="181.3" stroke="#1a1a1a" stroke-width="0.95" stroke-linecap="round"/>
<text x="617.5" y="207.6" font-family="'Liberation Sans', sans-serif" font-size="9.2" font-weight="normal" font-style="normal" text-anchor="middle" fill="#222">C-19 KR</text>
<line x1="544.6" y1="231.65" x2="552.44" y2="236.17" stroke="#1a1a1a" stroke-width="0.95" stroke-linecap="round"/>
<line x1="552.44" y1="236.17" x2="552.44" y2="245.22" stroke="#1a1a1a" stroke-width="0.95" stroke-linecap="round"/>
<line x1="552.44" y1="245.22" x2="544.6" y2="249.75" stroke="#1a1a1a" stroke-width="0.95" stroke-linecap="round"/>
<line x1="544.6" y1="249.75" x2="536.76" y2="245.22" stroke="#1a1a1a" stroke-width="0.95" stroke-linecap="round"/>
<line x1="536.76" y1="245.22" x2="536.76" y2="236.17" stroke="#1a1a1a" stroke-width="0.95" stroke-linecap="round"/>
<line x1="536.76" y1="236.17" x2="544.6" y2="231.65" stroke="#1a1a1a" stroke-width="0.95" stroke-linecap="round"/>
<line x1="545.01" y1="234.2" x2="550.03" y2="237.09" stroke="#1a1a1a" stroke-width="0.95" stroke-linecap="round"/>
<line x1="550.03" y1="244.31" x2="545.01" y2="247.2" stroke="#1a1a1a" stroke-width="0.95" stroke-linecap="round"/>
<line x1="538.76" y1="243.6" x2="538.76" y2="237.8" stroke="#1a1a1a" stroke-width="0.95" stroke-linecap="round"/>
<line x1="560.28" y1="231.65" x2="568.11" y2="236.17" stroke="#1a1a1a" stroke-width="0.95" stroke-linecap="round"/>
<line x1="568.11" y1="236.17" x2="568.11" y2="245.22" stroke="#1a1a1a" stroke-width="0.95" stroke-linecap="round"/>
<line x1="568.11" y1="245.22" x2="560.28" y2="249.75" stroke="#1a1a1a" stroke-width="0.95" stroke-linecap="round"/>
<line x1="560.28" y1="249.75" x2="552.44" y2="245.22" stroke="#1a1a1a" stroke-width="0.95" stroke-linecap="round"/>
<line x1="552.44" y1="236.17" x2="560.28" y2="231.65" stroke="#1a1a1a" stroke-width="0.95" stroke-linecap="round"/>
<line x1="583.79" y1="236.17" x2="583.79" y2="245.22" stroke="#1a1a1a" stroke-width="0.95" stroke-linecap="round"/>
<line x1="583.79" y1="245.22" x2="575.95" y2="249.75" stroke="#1a1a1a" stroke-width="0.95" stroke-linecap="round"/>
<line x1="575.95" y1="249.75" x2="568.11" y2="245.22" stroke="#1a1a1a" stroke-width="0.95" stroke-linecap="round"/>
<line x1="568.11" y1="236.17" x2="575.95" y2="231.65" stroke="#1a1a1a" stroke-width="0.95" stroke-linecap="round"/>
<line x1="583.79" y1="218.07" x2="591.63" y2="222.6" stroke="#1a1a1a" stroke-width="0.95" stroke-linecap="round"/>
<line x1="591.63" y1="222.6" x2="591.63" y2="231.65" stroke="#1a1a1a" stroke-width="0.95" stroke-linecap="round"/>
<line x1="591.63" y1="231.65" x2="583.79" y2="236.18" stroke="#1a1a1a" stroke-width="0.95" stroke-linecap="round"/>
<line x1="583.79" y1="236.18" x2="575.95" y2="231.65" stroke="#1a1a1a" stroke-width="0.95" stroke-linecap="round"/>
<line x1="575.95" y1="231.65" x2="575.95" y2="222.6" stroke="#1a1a1a" stroke-width="0.95" stroke-linecap="round"/>
<line x1="575.95" y1="222.6" x2="583.79" y2="218.07" stroke="#1a1a1a" stroke-width="0.95" stroke-linecap="round"/>
<line x1="578.36" y1="223.52" x2="583.38" y2="220.62" stroke="#1a1a1a" stroke-width="0.95" stroke-linecap="round"/>
<line x1="589.63" y1="224.23" x2="589.63" y2="230.02" stroke="#1a1a1a" stroke-width="0.95" stroke-linecap="round"/>
<line x1="583.38" y1="233.63" x2="578.36" y2="230.73" stroke="#1a1a1a" stroke-width="0.95" stroke-linecap="round"/>
<line x1="566.11" y1="237.8" x2="566.11" y2="243.6" stroke="#1a1a1a" stroke-width="0.95" stroke-linecap="round"/>
<text x="560.28" y="237.5" font-family="'Liberation Sans', sans-serif" font-size="4" font-weight="normal" font-style="normal" text-anchor="middle" fill="#555">6</text>
<text x="560.28" y="246.5" font-family="'Liberation Sans', sans-serif" font-size="4" font-weight="normal" font-style="normal" text-anchor="middle" fill="#555">13</text>
<text x="584.29" y="224.93" font-family="'Liberation Sans', sans-serif" font-size="4" font-weight="normal" font-style="normal" text-anchor="middle" fill="#555">2</text>
<line x1="561.28" y1="231.65" x2="561.28" y2="225.35" stroke="#1a1a1a" stroke-width="0.95" stroke-linecap="round"/>
<line x1="559.28" y1="231.65" x2="559.28" y2="225.35" stroke="#1a1a1a" stroke-width="0.95" stroke-linecap="round"/>
<text x="560.28" y="225.05" font-family="'Liberation Sans', sans-serif" font-size="6.1" font-weight="normal" font-style="normal" text-anchor="middle" fill="#2a2a2a">O</text>
<line x1="559.28" y1="249.75" x2="559.28" y2="256.05" stroke="#1a1a1a" stroke-width="0.95" stroke-linecap="round"/>
<line x1="561.28" y1="249.75" x2="561.28" y2="256.05" stroke="#1a1a1a" stroke-width="0.95" stroke-linecap="round"/>
<text x="560.28" y="260.85" font-family="'Liberation Sans', sans-serif" font-size="6.1" font-weight="normal" font-style="normal" text-anchor="middle" fill="#2a2a2a">O</text>
<line x1="544.6" y1="231.65" x2="544.6" y2="226.15" stroke="#1a1a1a" stroke-width="0.95" stroke-linecap="round"/>
<text x="546.1" y="225.05" font-family="'Liberation Sans', sans-serif" font-size="6.1" font-weight="normal" font-style="normal" text-anchor="middle" fill="#2a2a2a">OH</text>
<line x1="544.6" y1="249.75" x2="544.6" y2="255.25" stroke="#1a1a1a" stroke-width="0.95" stroke-linecap="round"/>
<text x="546.1" y="260.85" font-family="'Liberation Sans', sans-serif" font-size="6.1" font-weight="normal" font-style="normal" text-anchor="middle" fill="#2a2a2a">OR</text>
<line x1="575.95" y1="249.75" x2="575.95" y2="255.25" stroke="#1a1a1a" stroke-width="0.95" stroke-linecap="round"/>
<text x="577.75" y="260.85" font-family="'Liberation Sans', sans-serif" font-size="6.1" font-weight="normal" font-style="normal" text-anchor="middle" fill="#2a2a2a">OH</text>
<line x1="575.95" y1="222.6" x2="571.62" y2="220.1" stroke="#1a1a1a" stroke-width="0.95" stroke-linecap="round"/>
<text x="565.95" y="220.2" font-family="'Liberation Sans', sans-serif" font-size="6.1" font-weight="normal" font-style="normal" text-anchor="middle" fill="#2a2a2a">HO</text>
<line x1="591.63" y1="222.6" x2="599.25" y2="218.2" stroke="#1a1a1a" stroke-width="0.95" stroke-linecap="round"/>
<ellipse cx="575.9" cy="251.6" rx="3.0" ry="8.6" fill="none" stroke="#ee22ee" stroke-width="1.8"/>
<text x="575.9" y="268.8" font-family="'Liberation Sans', sans-serif" font-size="7.5" font-weight="bold" font-style="normal" text-anchor="middle" fill="#ee22ee">15</text>
<text x="607.6" y="254.2" font-family="'Liberation Sans', sans-serif" font-size="9.2" font-weight="normal" font-style="normal" text-anchor="middle" fill="#222">C-15 KR</text>
<g fill="#fff" stroke="#a8a8a8" stroke-width="0.9"><ellipse cx="595" cy="560.6" rx="8.8" ry="7.6"/><ellipse cx="605.2" cy="567.4" rx="7.6" ry="6.4"/></g>
<g fill="#b0b0b0"><circle cx="592" cy="558.5" r="0.9"/><circle cx="598" cy="558.5" r="0.9"/><circle cx="603" cy="566" r="0.8"/><circle cx="607.5" cy="566" r="0.8"/></g>
<g fill="none" stroke="#fff" stroke-width="3.6" stroke-linecap="square" opacity="0.85"><path d="M621.6,557.6 H633.6 M627.6,555 V560.3 M622.7,572.6 V560.7 H632.9 V571.4 L631.6,572 M625.4,562 L626.4,563.6 M630.2,562 L629.2,563.6 M624.6,564.8 H631 M624.6,567.8 H631 M627.8,565 V572.6"/><path d="M636.6,560.6 H650.6 M643.6,555 V561 Q643,568 636.4,572.4 M644.4,563 Q647,569 651.2,572.2"/></g>
<g fill="none" stroke="#909090" stroke-width="1.7" stroke-linecap="square"><path d="M621.6,557.6 H633.6 M627.6,555 V560.3 M622.7,572.6 V560.7 H632.9 V571.4 L631.6,572 M625.4,562 L626.4,563.6 M630.2,562 L629.2,563.6 M624.6,564.8 H631 M624.6,567.8 H631 M627.8,565 V572.6"/><path d="M636.6,560.6 H650.6 M643.6,555 V561 Q643,568 636.4,572.4 M644.4,563 Q647,569 651.2,572.2"/></g>
<text x="654.3" y="570.6" font-family="'Liberation Sans', sans-serif" font-size="17" font-weight="normal" font-style="normal" text-anchor="start" fill="#909090" textLength="23.2" lengthAdjust="spacingAndGlyphs" stroke="#fff" stroke-width="2.2" paint-order="stroke" stroke-opacity="0.85">IFB</text>
</svg>
</body></html>
